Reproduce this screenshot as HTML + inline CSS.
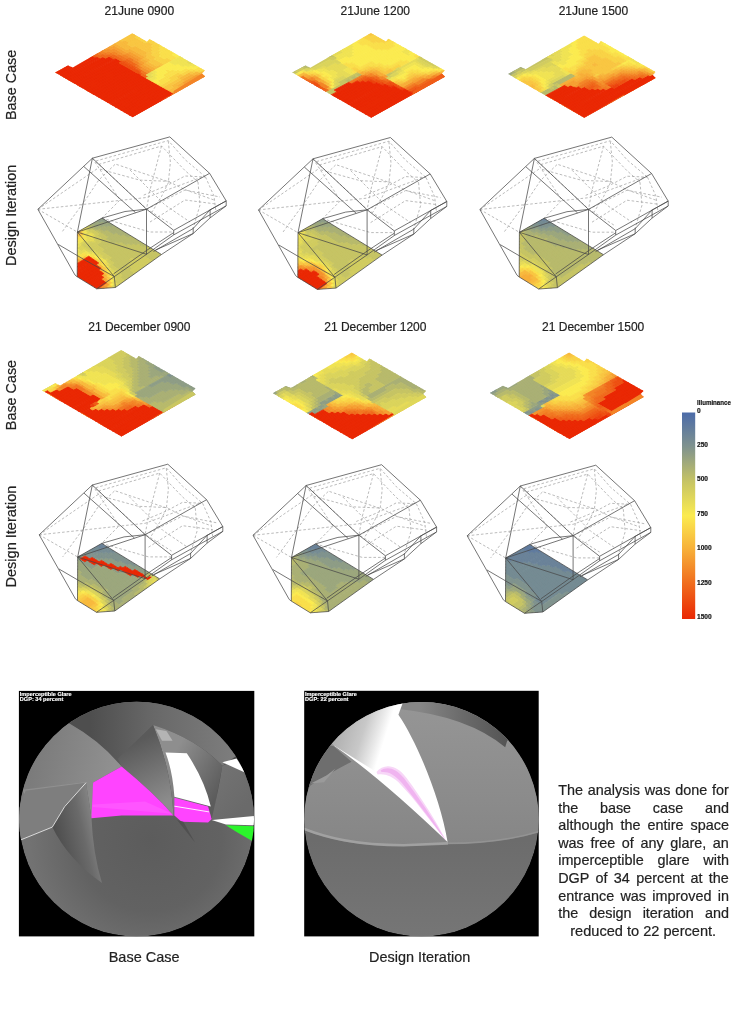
<!DOCTYPE html>
<html lang="en"><head><meta charset="utf-8"><title>Illuminance and glare analysis</title>
<style>
html,body{margin:0;padding:0;background:#fff;}
body{width:732px;height:1024px;overflow:hidden;}
svg{display:block;font-family:"Liberation Sans", sans-serif;}
svg text{stroke:#222;stroke-width:0.2px;}
svg text.w{stroke:#fff;stroke-width:0.15px;}
</style></head>
<body>
<svg width="732" height="1024" viewBox="0 0 732 1024">
<rect width="732" height="1024" fill="#fff"/>
<text x="104.5" y="14.5" font-size="12.5" fill="#222" text-anchor="start" textLength="69.7" lengthAdjust="spacingAndGlyphs">21June 0900</text>
<text x="340.5" y="14.5" font-size="12.5" fill="#222" text-anchor="start" textLength="69.5" lengthAdjust="spacingAndGlyphs">21June 1200</text>
<text x="558.7" y="14.5" font-size="12.5" fill="#222" text-anchor="start" textLength="69.5" lengthAdjust="spacingAndGlyphs">21June 1500</text>
<text x="88.2" y="331.2" font-size="12.5" fill="#222" text-anchor="start" textLength="102.3" lengthAdjust="spacingAndGlyphs">21 December 0900</text>
<text x="324.2" y="331.2" font-size="12.5" fill="#222" text-anchor="start" textLength="102.3" lengthAdjust="spacingAndGlyphs">21 December 1200</text>
<text x="542.0" y="331.2" font-size="12.5" fill="#222" text-anchor="start" textLength="102.3" lengthAdjust="spacingAndGlyphs">21 December 1500</text>
<text transform="translate(16.4 120.0) rotate(-90)" font-size="15.3" fill="#222" textLength="70.3" lengthAdjust="spacingAndGlyphs">Base Case</text>
<text transform="translate(16.4 265.9) rotate(-90)" font-size="15.3" fill="#222" textLength="101.3" lengthAdjust="spacingAndGlyphs">Design Iteration</text>
<text transform="translate(16.4 430.2) rotate(-90)" font-size="15.3" fill="#222" textLength="70.3" lengthAdjust="spacingAndGlyphs">Base Case</text>
<text transform="translate(16.4 587.5) rotate(-90)" font-size="15.3" fill="#222" textLength="101.8" lengthAdjust="spacingAndGlyphs">Design Iteration</text>
<text x="108.7" y="961.6" font-size="15" fill="#222" text-anchor="start" textLength="70.8" lengthAdjust="spacingAndGlyphs">Base Case</text>
<text x="369.0" y="961.8" font-size="15" fill="#222" text-anchor="start" textLength="101.2" lengthAdjust="spacingAndGlyphs">Design Iteration</text>
<text x="558.2" y="794.90" font-size="14.4" fill="#222" style="word-spacing:0.88px" xml:space="preserve">The analysis was done for</text>
<text x="558.2" y="812.53" font-size="14.4" fill="#222" style="word-spacing:17.70px" xml:space="preserve">the base case and</text>
<text x="558.2" y="830.16" font-size="14.4" fill="#222" style="word-spacing:3.03px" xml:space="preserve">although the entire space</text>
<text x="558.2" y="847.79" font-size="14.4" fill="#222" style="word-spacing:2.62px" xml:space="preserve">was free of any glare, an</text>
<text x="558.2" y="865.42" font-size="14.4" fill="#222" style="word-spacing:9.76px" xml:space="preserve">imperceptible glare with</text>
<text x="558.2" y="883.05" font-size="14.4" fill="#222" style="word-spacing:2.35px" xml:space="preserve">DGP of 34 percent at the</text>
<text x="558.2" y="900.68" font-size="14.4" fill="#222" style="word-spacing:2.24px" xml:space="preserve">entrance was improved in</text>
<text x="558.2" y="918.31" font-size="14.4" fill="#222" style="word-spacing:7.03px" xml:space="preserve">the design iteration and</text>
<text x="570.2" y="935.94" font-size="14.4" fill="#222" textLength="146" lengthAdjust="spacingAndGlyphs">reduced to 22 percent.</text>
<defs><linearGradient id="lg" x1="0" y1="0" x2="0" y2="1"><stop offset="0.0000" stop-color="#4b6ba9"/><stop offset="0.1667" stop-color="#80938e"/><stop offset="0.3333" stop-color="#c6c464"/><stop offset="0.5000" stop-color="#fbeb50"/><stop offset="0.6667" stop-color="#f7ae38"/><stop offset="0.8333" stop-color="#f06a1c"/><stop offset="1.0000" stop-color="#ea2804"/></linearGradient></defs>
<rect x="682" y="412.5" width="13.2" height="206.5" fill="url(#lg)"/>
<text x="697" y="405.2" font-size="6.6" fill="#111" text-anchor="start" textLength="33.9" lengthAdjust="spacingAndGlyphs" font-weight="bold">Illuminance</text>
<text x="697" y="412.6" font-size="6.6" fill="#111" text-anchor="start" font-weight="bold">0</text>
<text x="697" y="447.0" font-size="6.6" fill="#111" text-anchor="start" font-weight="bold">250</text>
<text x="697" y="481.40000000000003" font-size="6.6" fill="#111" text-anchor="start" font-weight="bold">500</text>
<text x="697" y="515.8" font-size="6.6" fill="#111" text-anchor="start" font-weight="bold">750</text>
<text x="697" y="550.2" font-size="6.6" fill="#111" text-anchor="start" font-weight="bold">1000</text>
<text x="697" y="584.6" font-size="6.6" fill="#111" text-anchor="start" font-weight="bold">1250</text>
<text x="697" y="619.0" font-size="6.6" fill="#111" text-anchor="start" font-weight="bold">1500</text>
<clipPath id="h1"><polygon points="55.2,72.5 67.9,65.4 72.8,67.6 132.3,33.2 147,41.8 149.5,39 204.9,70.5 201.9,73.5 205.1,76.5 132.5,117.2"/></clipPath>
<g clip-path="url(#h1)" stroke-width="0.8" stroke-linejoin="round">
<path fill="#ef5d17" stroke="#ef5d17" d="M49.6 72.4L52.3 74L63.9 68.1L61.2 66.5ZM52.3 74L55 75.6L57.9 74.1L55.2 72.5ZM86.6 56.5L89.3 58L94.8 55.2L92.2 53.7ZM92 56.6L94.7 58.1L97.5 56.7L94.8 55.2ZM57.6 77.1L60.3 78.7L63.3 77.2L60.6 75.6ZM60.3 78.7L63 80.2L66 78.7L63.3 77.2ZM63 80.2L65.8 81.8L68.7 80.3L66 78.7ZM108.3 56.8L110.9 58.3L113.6 56.9L111 55.4ZM65.8 81.8L68.5 83.4L71.4 81.9L68.7 80.3ZM110.9 58.3L113.6 59.8L116.3 58.4L113.6 56.9ZM68.5 83.4L71.2 85L74.1 83.4L71.4 81.9ZM73.9 86.5L76.6 88.1L79.5 86.6L76.8 85ZM121.7 61.4L124.3 62.9L127 61.4L124.4 59.9ZM76.6 88.1L79.4 89.7L82.3 88.2L79.5 86.6ZM124.3 62.9L127 64.4L129.7 62.9L127 61.4ZM127 64.4L129.7 65.9L132.4 64.4L129.7 62.9ZM82.1 91.3L84.9 92.9L87.8 91.3L85 89.7ZM129.7 65.9L132.4 67.4L135.1 65.9L132.4 64.4ZM84.9 92.9L87.6 94.5L90.5 92.9L87.8 91.3ZM132.4 67.4L135.1 68.9L137.8 67.4L135.1 65.9ZM87.6 94.5L90.4 96.1L93.3 94.5L90.5 92.9ZM137.9 73.4L140.6 74.9L143.3 73.4L140.6 71.9ZM168.4 96.5L171.2 98.1L173.9 96.6L171.1 95Z"/>
<path fill="#ea2804" stroke="#ea2804" d="M61.2 66.5L63.9 68.1L69.7 65.1L67 63.6ZM55.2 72.5L57.9 74.1L72.3 66.7L69.7 65.1ZM57.9 74.1L60.6 75.6L94.7 58.1L92 56.6ZM60.6 75.6L63.3 77.2L100.1 58.1L97.5 56.7ZM63.3 77.2L66 78.7L105.5 58.2L102.9 56.7ZM66 78.7L68.7 80.3L110.9 58.3L108.3 56.8ZM68.7 80.3L71.4 81.9L113.6 59.8L110.9 58.3ZM71.4 81.9L74.1 83.4L119 59.9L116.3 58.4ZM74.1 83.4L76.8 85L121.7 61.4L119 59.9ZM76.8 85L79.5 86.6L121.6 64.3L118.9 62.8ZM79.5 86.6L82.3 88.2L124.3 65.8L121.6 64.3ZM82.3 88.2L85 89.7L127 67.3L124.3 65.8ZM85 89.7L87.8 91.3L129.7 68.8L127 67.3ZM87.8 91.3L90.5 92.9L132.4 70.3L129.7 68.8ZM90.5 92.9L93.3 94.5L135.1 71.9L132.4 70.3ZM90.4 96.1L93.2 97.7L137.9 73.4L135.1 71.9ZM93.2 97.7L95.9 99.3L140.6 74.9L137.9 73.4ZM95.9 99.3L98.7 100.9L143.3 76.4L140.6 74.9ZM101.6 99.3L104.4 100.9L146.1 78L143.3 76.4ZM104.4 100.9L107.2 102.5L148.8 79.5L146.1 78ZM107.2 102.5L110 104.1L151.6 81L148.8 79.5ZM107.1 105.7L109.9 107.4L154.3 82.6L151.6 81ZM109.9 107.4L112.7 109L157.1 84.1L154.3 82.6ZM112.7 109L115.5 110.6L159.8 85.7L157.1 84.1ZM115.5 110.6L118.3 112.3L162.6 87.2L159.8 85.7ZM118.3 112.3L121.2 113.9L165.4 88.8L162.6 87.2ZM121.2 113.9L124 115.5L168.2 90.3L165.4 88.8ZM124 115.5L126.8 117.2L171 91.9L168.2 90.3ZM126.8 117.2L129.7 118.8L173.8 93.5L171 91.9ZM132.5 117.2L135.4 118.8L163.2 102.8L160.3 101.2Z"/>
<path fill="#f06a1c" stroke="#f06a1c" d="M92.2 53.7L94.8 55.2L97.6 53.8L94.9 52.3ZM94.8 55.2L97.5 56.7L100.2 55.2L97.6 53.8ZM97.5 56.7L100.1 58.1L105.6 55.3L102.9 53.8ZM102.9 56.7L105.5 58.2L111 55.4L108.3 53.9ZM111 55.4L113.6 56.9L116.4 55.5L113.7 54ZM113.6 56.9L116.3 58.4L119 57L116.4 55.5ZM116.3 58.4L119 59.9L121.7 58.4L119 57ZM119 59.9L121.7 61.4L124.4 59.9L121.7 58.4ZM124.4 59.9L127 61.4L129.7 60L127.1 58.5ZM127 61.4L129.7 62.9L132.4 61.5L129.7 60ZM129.7 62.9L132.4 64.4L135.1 63L132.4 61.5ZM132.4 64.4L135.1 65.9L137.8 64.5L135.1 63ZM135.1 68.9L137.8 70.4L140.5 68.9L137.8 67.4ZM137.8 70.4L140.6 71.9L143.2 70.5L140.5 68.9ZM140.6 74.9L143.3 76.4L146 75L143.3 73.4ZM143.3 76.4L146.1 78L148.8 76.5L146 75ZM171.1 95L173.9 96.6L179.2 93.5L176.4 91.9Z"/>
<path fill="#f17822" stroke="#f17822" d="M94.9 52.3L97.6 53.8L100.3 52.4L97.7 50.9ZM97.6 53.8L100.2 55.2L102.9 53.8L100.3 52.4ZM102.9 53.8L105.6 55.3L108.3 53.9L105.7 52.4ZM108.3 53.9L111 55.4L113.7 54L111 52.5ZM116.4 55.5L119 57L121.7 55.5L119.1 54.1ZM119 57L121.7 58.4L124.4 57L121.7 55.5ZM121.7 58.4L124.4 59.9L127.1 58.5L124.4 57ZM127.1 58.5L129.7 60L132.4 58.6L129.7 57.1ZM129.7 60L132.4 61.5L135.1 60.1L132.4 58.6ZM135.1 65.9L137.8 67.4L140.5 66L137.8 64.5ZM140.6 71.9L143.3 73.4L146 72L143.2 70.5ZM143.3 73.4L146 75L148.7 73.5L146 72ZM176.4 91.9L179.2 93.5L181.9 92L179.1 90.4Z"/>
<path fill="#f38527" stroke="#f38527" d="M97.7 50.9L100.3 52.4L103 51L100.4 49.5ZM100.3 52.4L102.9 53.8L105.7 52.4L103 51ZM105.7 52.4L108.3 53.9L111 52.5L108.4 51ZM111 52.5L113.7 54L116.4 52.6L113.7 51.1ZM113.7 54L116.4 55.5L119.1 54.1L116.4 52.6ZM121.7 55.5L124.4 57L127.1 55.6L124.4 54.1ZM124.4 57L127.1 58.5L129.7 57.1L127.1 55.6ZM132.4 61.5L135.1 63L137.8 61.6L135.1 60.1ZM135.1 63L137.8 64.5L140.5 63.1L137.8 61.6ZM137.8 67.4L140.5 68.9L143.2 67.5L140.5 66ZM179.1 90.4L181.9 92L184.5 90.5L181.7 88.9ZM189.5 84.4L192.3 85.9L200 81.5L197.2 79.9Z"/>
<path fill="#f4932d" stroke="#f4932d" d="M100.4 49.5L103 51L105.8 49.6L103.1 48.1ZM103 51L105.7 52.4L111.1 49.6L108.5 48.2ZM108.4 51L111 52.5L116.4 49.7L113.8 48.3ZM113.7 51.1L116.4 52.6L119.1 51.2L116.4 49.7ZM116.4 52.6L119.1 54.1L121.7 52.7L119.1 51.2ZM119.1 54.1L121.7 55.5L124.4 54.1L121.7 52.7ZM124.4 54.1L127.1 55.6L129.7 54.2L127.1 52.7ZM127.1 55.6L129.7 57.1L132.4 55.7L129.7 54.2ZM129.7 57.1L132.4 58.6L135.1 57.2L132.4 55.7ZM132.4 58.6L135.1 60.1L137.7 58.7L135.1 57.2ZM135.1 60.1L137.8 61.6L140.4 60.1L137.7 58.7ZM137.8 64.5L140.5 66L143.2 64.6L140.5 63.1ZM140.5 68.9L143.2 70.5L145.9 69L143.2 67.5ZM143.2 70.5L146 72L148.6 70.5L145.9 69ZM146 72L148.7 73.5L151.4 72L148.6 70.5ZM184.1 84.3L186.9 85.9L199.8 78.5L197 77ZM181.7 88.9L184.5 90.5L189.7 87.4L186.9 85.9ZM197.2 79.9L200 81.5L205.1 78.5L202.3 77Z"/>
<path fill="#f6a032" stroke="#f6a032" d="M103.1 48.1L105.8 49.6L111.2 46.8L108.5 45.3ZM108.5 48.2L111.1 49.6L116.5 46.9L113.8 45.4ZM113.8 48.3L116.4 49.7L119.1 48.3L116.5 46.9ZM116.4 49.7L119.1 51.2L121.8 49.8L119.1 48.3ZM119.1 51.2L121.7 52.7L124.4 51.3L121.8 49.8ZM121.7 52.7L124.4 54.1L127.1 52.7L124.4 51.3ZM127.1 52.7L129.7 54.2L132.4 52.8L129.7 51.3ZM129.7 54.2L132.4 55.7L135.1 54.3L132.4 52.8ZM132.4 55.7L135.1 57.2L137.7 55.8L135.1 54.3ZM135.1 57.2L137.7 58.7L140.4 57.2L137.7 55.8ZM137.7 58.7L140.4 60.1L143.1 58.7L140.4 57.2ZM137.8 61.6L140.5 63.1L143.1 61.6L140.4 60.1ZM140.5 63.1L143.2 64.6L145.8 63.1L143.1 61.6ZM140.5 66L143.2 67.5L145.9 66.1L143.2 64.6ZM143.2 67.5L145.9 69L148.6 67.6L145.9 66.1ZM145.9 69L148.6 70.5L151.3 69.1L148.6 67.6ZM148.6 70.5L151.4 72L154 70.6L151.3 69.1ZM181.4 82.8L184.1 84.3L199.6 75.5L196.8 74ZM178.9 87.3L181.7 88.9L186.9 85.9L184.1 84.3ZM197 77L199.8 78.5L204.9 75.6L202.1 74ZM186.9 85.9L189.7 87.4L192.3 85.9L189.5 84.4ZM202.3 77L205.1 78.5L207.6 77.1L204.9 75.6Z"/>
<path fill="#f7ae38" stroke="#f7ae38" d="M108.5 45.3L111.2 46.8L116.5 44L113.9 42.6ZM113.8 45.4L116.5 46.9L119.2 45.5L116.5 44ZM116.5 46.9L119.1 48.3L121.8 47L119.2 45.5ZM119.1 48.3L121.8 49.8L124.4 48.4L121.8 47ZM121.8 49.8L124.4 51.3L127.1 49.9L124.4 48.4ZM124.4 51.3L127.1 52.7L132.4 50L129.7 48.5ZM129.7 51.3L132.4 52.8L135 51.4L132.4 50ZM132.4 52.8L135.1 54.3L137.7 52.9L135 51.4ZM135.1 54.3L137.7 55.8L140.4 54.4L137.7 52.9ZM137.7 55.8L140.4 57.2L143 55.8L140.4 54.4ZM140.4 57.2L143.1 58.7L145.7 57.3L143 55.8ZM140.4 60.1L143.1 61.6L145.8 60.2L143.1 58.7ZM143.1 61.6L145.8 63.1L148.5 61.7L145.8 60.2ZM143.2 64.6L145.9 66.1L148.5 64.6L145.8 63.1ZM145.9 66.1L148.6 67.6L151.2 66.1L148.5 64.6ZM148.6 67.6L151.3 69.1L153.9 67.6L151.2 66.1ZM151.3 69.1L154 70.6L156.7 69.1L153.9 67.6ZM181.2 79.8L184 81.3L194.3 75.4L191.5 73.9ZM176.1 85.8L178.9 87.3L184.1 84.3L181.4 82.8ZM196.8 74L199.6 75.5L202.1 74L199.4 72.5ZM171 91.9L173.8 93.5L181.7 88.9L178.9 87.3ZM202.1 74L204.9 75.6L207.4 74.1L204.6 72.6Z"/>
<path fill="#f8ba3d" stroke="#f8ba3d" d="M113.9 42.6L116.5 44L121.8 41.3L119.2 39.9ZM116.5 44L119.2 45.5L127.1 41.4L124.5 40ZM119.2 45.5L121.8 47L129.7 42.9L127.1 41.4ZM121.8 47L124.4 48.4L129.7 45.7L127.1 44.2ZM124.4 48.4L127.1 49.9L132.4 47.1L129.7 45.7ZM129.7 48.5L132.4 50L137.7 47.2L135 45.8ZM132.4 50L135 51.4L140.3 48.7L137.7 47.2ZM135 51.4L137.7 52.9L143 50.1L140.3 48.7ZM137.7 52.9L140.4 54.4L145.6 51.6L143 50.1ZM140.4 54.4L143 55.8L148.3 53L145.6 51.6ZM143 55.8L145.7 57.3L148.3 55.9L145.7 54.4ZM143.1 58.7L145.8 60.2L148.4 58.8L145.7 57.3ZM145.8 60.2L148.5 61.7L151.1 60.3L148.4 58.8ZM145.8 63.1L148.5 64.6L151.2 63.2L148.5 61.7ZM148.5 64.6L151.2 66.1L153.9 64.7L151.2 63.2ZM151.2 66.1L153.9 67.6L156.6 66.2L153.9 64.7ZM153.9 67.6L156.7 69.1L161.9 66.2L159.2 64.7ZM178.4 78.3L181.2 79.8L191.5 73.9L188.8 72.4ZM170.7 85.8L173.5 87.3L184 81.3L181.2 79.8ZM191.5 73.9L194.3 75.4L199.4 72.5L196.6 71ZM168.2 90.3L171 91.9L178.9 87.3L176.1 85.8ZM199.4 72.5L202.1 74L204.6 72.6L201.9 71.1Z"/>
<path fill="#f9c642" stroke="#f9c642" d="M119.2 39.9L121.8 41.3L135 34.6L132.3 33.2ZM124.5 40L127.1 41.4L137.6 36L135 34.6ZM127.1 41.4L129.7 42.9L137.6 38.8L135 37.4ZM127.1 44.2L129.7 45.7L140.2 40.2L137.6 38.8ZM129.7 45.7L132.4 47.1L142.8 41.7L140.2 40.2ZM135 45.8L137.7 47.2L145.5 43.1L142.8 41.7ZM137.7 47.2L140.3 48.7L150.7 43.2L148.1 41.8ZM140.3 48.7L143 50.1L153.3 44.6L150.7 43.2ZM143 50.1L145.6 51.6L153.4 47.5L150.8 46ZM145.6 51.6L148.3 53L153.5 50.3L150.8 48.8ZM145.7 54.4L148.3 55.9L153.6 53.1L150.9 51.7ZM145.7 57.3L148.4 58.8L153.6 56L151 54.5ZM148.4 58.8L151.1 60.3L156.3 57.5L153.6 56ZM148.5 61.7L151.2 63.2L156.4 60.3L153.7 58.9ZM151.2 63.2L153.9 64.7L159.1 61.8L156.4 60.3ZM153.9 64.7L156.6 66.2L161.8 63.3L159.1 61.8ZM159.2 64.7L161.9 66.2L164.5 64.8L161.8 63.3ZM175.7 76.7L178.4 78.3L183.6 75.3L180.9 73.8ZM162.6 87.2L165.4 88.8L181.2 79.8L178.4 78.3ZM188.8 72.4L191.5 73.9L194.1 72.5L191.3 71ZM165.4 88.8L168.2 90.3L173.5 87.3L170.7 85.8ZM201.9 71.1L204.6 72.6L207.2 71.2L204.4 69.7Z"/>
<path fill="#f9d346" stroke="#f9d346" d="M135 37.4L137.6 38.8L140.2 37.5L137.6 36ZM137.6 38.8L140.2 40.2L142.8 38.9L140.2 37.5ZM140.2 40.2L142.8 41.7L145.4 40.3L142.8 38.9ZM142.8 41.7L145.5 43.1L153.2 39.1L150.6 37.7ZM148.1 41.8L150.7 43.2L155.8 40.5L153.2 39.1ZM150.7 43.2L153.3 44.6L158.5 41.9L155.8 40.5ZM150.8 46L153.4 47.5L161.1 43.4L158.5 41.9ZM150.8 48.8L153.5 50.3L161.2 46.2L158.6 44.7ZM150.9 51.7L153.6 53.1L161.3 49L158.7 47.5ZM151 54.5L153.6 56L161.4 51.8L158.7 50.4ZM153.6 56L156.3 57.5L161.5 54.7L158.8 53.2ZM153.7 58.9L156.4 60.3L161.6 57.5L158.9 56.1ZM156.4 60.3L159.1 61.8L164.3 59L161.6 57.5ZM159.1 61.8L161.8 63.3L169.6 59.1L166.9 57.6ZM161.8 63.3L164.5 64.8L172.3 60.6L169.6 59.1ZM167.7 78.2L170.5 79.7L180.9 73.8L178.1 72.3ZM159.8 85.7L162.6 87.2L178.4 78.3L175.7 76.7ZM180.9 73.8L183.6 75.3L191.3 71L188.6 69.5ZM191.3 71L194.1 72.5L196.6 71L193.9 69.5ZM196.6 71L199.4 72.5L201.9 71.1L199.1 69.6Z"/>
<path fill="#ee5012" stroke="#ee5012" d="M118.9 62.8L121.6 64.3L124.3 62.9L121.7 61.4ZM121.6 64.3L124.3 65.8L127 64.4L124.3 62.9ZM124.3 65.8L127 67.3L129.7 65.9L127 64.4ZM127 67.3L129.7 68.8L132.4 67.4L129.7 65.9ZM129.7 68.8L132.4 70.3L135.1 68.9L132.4 67.4ZM132.4 70.3L135.1 71.9L137.8 70.4L135.1 68.9ZM135.1 71.9L137.9 73.4L140.6 71.9L137.8 70.4ZM165.7 98.1L168.6 99.7L171.2 98.1L168.4 96.5Z"/>
<path fill="#fadf4b" stroke="#fadf4b" d="M158.6 44.7L161.2 46.2L163.8 44.8L161.1 43.4ZM158.7 47.5L161.3 49L166.4 46.3L163.8 44.8ZM158.7 50.4L161.4 51.8L169.1 47.7L166.4 46.3ZM158.8 53.2L161.5 54.7L171.8 49.1L169.1 47.7ZM158.9 56.1L161.6 57.5L171.9 52L169.2 50.5ZM161.6 57.5L164.3 59L174.6 53.4L171.9 52ZM166.9 57.6L169.6 59.1L174.7 56.3L172 54.8ZM169.6 59.1L172.3 60.6L177.4 57.8L174.7 56.3ZM164.7 70.7L167.5 72.2L170.1 70.7L167.3 69.2ZM162.2 75.1L164.9 76.6L175.4 70.8L172.7 69.3ZM157 81.1L159.7 82.6L180.7 70.9L178 69.4ZM157.1 84.1L159.8 85.7L170.5 79.7L167.7 78.2ZM178.1 72.3L180.9 73.8L188.6 69.5L185.9 68ZM188.6 69.5L191.3 71L193.9 69.5L191.1 68.1ZM193.9 69.5L196.6 71L201.7 68.2L198.9 66.7ZM199.1 69.6L201.9 71.1L204.4 69.7L201.7 68.2Z"/>
<path fill="#fbeb50" stroke="#fbeb50" d="M169.2 50.5L171.9 52L174.4 50.6L171.8 49.1ZM171.9 52L174.6 53.4L177.1 52.1L174.4 50.6ZM172 54.8L174.7 56.3L179.8 53.5L177.1 52.1ZM174.7 56.3L177.4 57.8L182.5 55L179.8 53.5ZM154 70.6L156.7 72.1L172.4 63.5L169.7 62ZM154.1 73.5L156.8 75.1L175.1 64.9L172.4 63.5ZM154.2 76.5L156.9 78.1L167.5 72.2L164.7 70.7ZM167.3 69.2L170.1 70.7L180.4 65L177.7 63.5ZM151.6 81L154.3 82.6L164.9 76.6L162.2 75.1ZM172.7 69.3L175.4 70.8L183.1 66.5L180.4 65ZM154.3 82.6L157.1 84.1L159.7 82.6L157 81.1ZM178 69.4L180.7 70.9L188.4 66.6L185.7 65.1ZM185.9 68L188.6 69.5L193.7 66.6L190.9 65.1ZM191.1 68.1L193.9 69.5L198.9 66.7L196.2 65.2Z"/>
<path fill="#e6db58" stroke="#e6db58" d="M146 75L148.8 76.5L154.1 73.5L151.4 72ZM179.9 56.4L182.6 57.8L185.2 56.4L182.5 55ZM146.1 78L148.8 79.5L154.2 76.5L151.4 75ZM185.5 62.2L188.2 63.7L190.8 62.2L188 60.8ZM188.2 63.7L190.9 65.1L193.5 63.7L190.8 62.2Z"/>
<path fill="#f0e354" stroke="#f0e354" d="M151.4 72L154.1 73.5L156.7 72.1L154 70.6ZM169.7 62L172.4 63.5L182.6 57.8L179.9 56.4ZM151.4 75L154.2 76.5L156.8 75.1L154.1 73.5ZM172.4 63.5L175.1 64.9L185.3 59.3L182.6 57.8ZM148.8 79.5L151.6 81L156.9 78.1L154.2 76.5ZM177.7 63.5L180.4 65L188 60.8L185.3 59.3ZM180.4 65L183.1 66.5L188.2 63.7L185.5 62.2ZM185.7 65.1L188.4 66.6L190.9 65.1L188.2 63.7ZM190.9 65.1L193.7 66.6L196.2 65.2L193.5 63.7Z"/>
<path fill="#eb3509" stroke="#eb3509" d="M160.3 101.2L163.2 102.8L165.9 101.2L163 99.6Z"/>
<path fill="#ec420e" stroke="#ec420e" d="M163 99.6L165.9 101.2L168.6 99.7L165.7 98.1Z"/>
<polygon fill="#f38527" points="206.9,77.6 201.9,73.5 174,90.7 172.5,95.6"/>
</g>
<clipPath id="h2"><polygon points="292.4,72.6 305.3,65.5 310.3,67.7 370.9,32.9 385.9,41.6 388.4,38.7 444.8,70.6 441.8,73.6 445,76.7 371.1,117.8"/></clipPath>
<g clip-path="url(#h2)" stroke-width="0.8" stroke-linejoin="round">
<path fill="#aab075" stroke="#aab075" d="M286.7 72.6L289.4 74.1L292.4 72.6L289.7 71.1ZM292.6 69.6L295.4 71.1L307.1 65.2L304.4 63.6Z"/>
<path fill="#9ca77d" stroke="#9ca77d" d="M289.7 71.1L292.4 72.6L295.4 71.1L292.6 69.6Z"/>
<path fill="#c6c464" stroke="#c6c464" d="M289.4 74.1L292.2 75.7L298.1 72.7L295.4 71.1ZM301.3 68.1L304 69.7L306.9 68.2L304.2 66.7ZM324.4 56.5L327.1 58L329.9 56.5L327.2 55ZM329.9 56.5L332.6 58L335.4 56.6L332.7 55.1ZM337.3 82.3L340.1 83.9L359.9 73.3L357.2 71.8ZM322.6 93.2L325.4 94.8L348.6 82.4L345.8 80.8ZM348.7 79.3L351.5 80.9L354.3 79.4L351.5 77.8ZM354.3 76.3L357.1 77.9L359.9 76.4L357.1 74.8ZM325.4 94.8L328.2 96.4L337 91.7L334.2 90.1ZM384.9 75.1L387.6 76.6L393.1 73.7L390.3 72.1ZM419.4 56.3L422.1 57.8L424.7 56.4L422 54.9Z"/>
<path fill="#d1cc60" stroke="#d1cc60" d="M295.4 71.1L298.1 72.7L304 69.7L301.3 68.1ZM306.9 68.2L309.6 69.8L332.6 58L329.9 56.5ZM329.8 59.5L332.5 61L338.1 58.1L335.4 56.6ZM390.3 72.1L393.1 73.7L398.5 70.7L395.7 69.2ZM416.8 57.7L419.5 59.2L422.1 57.8L419.4 56.3ZM387.6 76.6L390.4 78.2L393.1 76.7L390.4 75.2ZM419.5 59.2L422.3 60.7L424.9 59.3L422.1 57.8ZM422.3 60.7L425.1 62.2L427.6 60.8L424.9 59.3ZM425.1 62.2L427.8 63.7L430.4 62.3L427.6 60.8ZM427.8 63.7L430.6 65.2L433.2 63.7L430.4 62.3ZM430.6 65.2L433.4 66.7L435.9 65.2L433.2 63.7Z"/>
<path fill="#b8ba6c" stroke="#b8ba6c" d="M304.2 66.7L306.9 68.2L309.8 66.7L307.1 65.2ZM327.2 55L329.9 56.5L332.7 55.1L330 53.6ZM345.8 80.8L348.6 82.4L351.5 80.9L348.7 79.3ZM351.5 77.8L354.3 79.4L357.1 77.9L354.3 76.3ZM357.1 74.8L359.9 76.4L362.7 74.9L359.9 73.3Z"/>
<path fill="#e6db58" stroke="#e6db58" d="M330 53.6L332.7 55.1L343.9 49.4L341.2 48ZM332.7 55.1L335.4 56.6L343.8 52.3L341.1 50.8ZM309.6 69.8L312.4 71.3L315.3 69.8L312.6 68.3ZM318.2 68.3L320.9 69.9L326.7 66.9L323.9 65.4ZM323.8 68.4L326.5 69.9L337.9 64.1L335.2 62.5ZM326.5 69.9L329.3 71.5L343.5 64.1L340.7 62.6ZM332.1 70L334.9 71.5L346.2 65.6L343.5 64.1ZM334.9 71.5L337.6 73.1L348.9 67.2L346.2 65.6ZM334.8 74.6L337.5 76.2L346.1 71.7L343.3 70.1ZM331.8 79.2L334.5 80.7L348.8 73.2L346.1 71.7ZM331.7 82.3L334.4 83.9L337.3 82.3L334.5 80.7ZM343.1 76.2L345.9 77.8L351.6 74.8L348.8 73.2ZM331.5 85.4L334.3 87L337.2 85.4L334.4 83.9ZM398.4 67.7L401.1 69.3L419.5 59.2L416.8 57.7ZM395.8 72.2L398.5 73.7L403.9 70.8L401.1 69.3ZM414.3 62L417.1 63.5L419.7 62.1L416.9 60.6ZM417.1 63.5L419.9 65L422.5 63.6L419.7 62.1ZM419.9 65L422.6 66.6L425.2 65.1L422.5 63.6ZM422.6 66.6L425.4 68.1L428 66.6L425.2 65.1ZM428 66.6L430.8 68.1L433.4 66.7L430.6 65.2ZM430.8 68.1L433.6 69.6L436.2 68.2L433.4 66.7ZM436.2 68.2L438.9 69.7L441.5 68.2L438.7 66.7Z"/>
<path fill="#f0e354" stroke="#f0e354" d="M341.2 48L343.9 49.4L354.8 43.9L352.2 42.4ZM295.1 74.2L297.9 75.8L300.8 74.3L298.1 72.7ZM301 71.2L303.8 72.7L306.7 71.2L304 69.7ZM341.1 50.8L343.8 52.3L354.8 46.7L352.1 45.2ZM306.7 71.2L309.5 72.8L312.4 71.3L309.6 69.8ZM335.4 56.6L338.1 58.1L354.7 49.6L352.1 48.1ZM315.3 69.8L318 71.4L320.9 69.9L318.2 68.3ZM335.3 59.6L338 61.1L354.7 52.5L352 51ZM318 71.4L320.8 72.9L326.5 69.9L323.8 68.4ZM346.4 56.8L349.1 58.3L354.7 55.4L351.9 53.9ZM323.6 71.4L326.4 73L329.3 71.5L326.5 69.9ZM326.4 73L329.1 74.5L334.9 71.5L332.1 70ZM329.1 74.5L331.9 76.1L337.6 73.1L334.9 71.5ZM329 77.6L331.8 79.2L337.5 76.2L334.8 74.6ZM343.3 70.1L346.1 71.7L351.7 68.7L348.9 67.2ZM346.1 71.7L348.8 73.2L354.4 70.2L351.7 68.7ZM348.8 73.2L351.6 74.8L354.4 73.3L351.6 71.7ZM403 47.5L405.7 48.9L408.3 47.6L405.6 46.1ZM400.5 51.7L403.2 53.2L411.1 49L408.3 47.6ZM403.2 53.2L406 54.7L413.8 50.5L411.1 49ZM406 54.7L408.7 56.2L411.3 54.7L408.6 53.3ZM401.1 69.3L403.9 70.8L417.1 63.5L414.3 62ZM387.7 79.7L390.5 81.2L406.7 72.3L403.9 70.8ZM414.5 65L417.2 66.5L419.9 65L417.1 63.5ZM417.2 66.5L420 68L422.6 66.6L419.9 65ZM420 68L422.8 69.5L425.4 68.1L422.6 66.6ZM425.4 68.1L428.2 69.6L430.8 68.1L428 66.6Z"/>
<path fill="#fbeb50" stroke="#fbeb50" d="M352.2 42.4L354.8 43.9L360.2 41.1L357.6 39.7ZM298.1 72.7L300.8 74.3L303.8 72.7L301 71.2ZM352.1 45.2L354.8 46.7L360.2 44L357.5 42.5ZM352.1 48.1L354.7 49.6L362.9 45.4L360.2 44ZM312.4 71.3L315.1 72.9L318 71.4L315.3 69.8ZM352 51L354.7 52.5L368.3 45.5L365.6 44ZM315.1 72.9L317.9 74.4L320.8 72.9L318 71.4ZM338 61.1L340.7 62.6L349.1 58.3L346.4 56.8ZM351.9 53.9L354.7 55.4L371 47L368.3 45.5ZM320.8 72.9L323.5 74.5L326.4 73L323.6 71.4ZM340.7 62.6L343.5 64.1L373.7 48.4L371 47ZM320.6 76L323.4 77.6L329.1 74.5L326.4 73ZM346.3 62.7L349 64.2L376.4 49.9L373.7 48.4ZM326.3 76L329 77.6L331.9 76.1L329.1 74.5ZM351.8 62.7L354.5 64.3L381.7 50L379 48.5ZM392.2 41.6L394.9 43.1L397.5 41.7L394.9 40.3ZM326.1 79.1L328.9 80.7L331.8 79.2L329 77.6ZM354.5 64.3L357.3 65.8L387.1 50.1L384.4 48.6ZM392.3 44.5L395 45.9L400.2 43.2L397.5 41.7ZM328.9 80.7L331.7 82.3L334.5 80.7L331.8 79.2ZM357.3 65.8L360 67.3L402.9 44.6L400.2 43.2ZM328.8 83.8L331.5 85.4L334.4 83.9L331.7 82.3ZM371 61.5L373.7 63L405.6 46.1L402.9 44.6ZM328.6 86.9L331.4 88.5L334.3 87L331.5 85.4ZM373.7 63L376.5 64.5L405.7 48.9L403 47.5ZM379.2 63.1L381.9 64.6L403.2 53.2L400.5 51.7ZM381.9 64.6L384.7 66.1L406 54.7L403.2 53.2ZM387.4 64.7L390.2 66.2L408.7 56.2L406 54.7ZM408.6 53.3L411.3 54.7L416.5 52L413.8 50.5ZM400.8 60.4L403.6 61.9L419.2 53.4L416.5 52ZM406.2 60.5L409 62L416.8 57.7L414.1 56.2ZM403.9 70.8L406.7 72.3L417.2 66.5L414.5 65ZM395.9 78.2L398.7 79.8L409.5 73.8L406.7 72.3ZM412 69.4L414.8 70.9L420 68L417.2 66.5ZM401.4 78.3L404.2 79.8L406.9 78.3L404.1 76.8ZM417.4 69.5L420.2 71L422.8 69.5L420 68ZM420.2 71L423 72.5L428.2 69.6L425.4 68.1ZM425.6 71L428.4 72.5L433.6 69.6L430.8 68.1ZM433.6 69.6L436.4 71.1L438.9 69.7L436.2 68.2ZM438.9 69.7L441.7 71.2L444.3 69.8L441.5 68.2Z"/>
<path fill="#fadf4b" stroke="#fadf4b" d="M357.6 39.7L360.2 41.1L365.6 38.4L363 36.9ZM357.5 42.5L360.2 44L368.3 39.8L365.6 38.4ZM303.8 72.7L306.5 74.3L309.5 72.8L306.7 71.2ZM360.2 44L362.9 45.4L371 41.3L368.3 39.8ZM309.5 72.8L312.2 74.4L315.1 72.9L312.4 71.3ZM365.6 44L368.3 45.5L373.6 42.8L371 41.3ZM368.3 45.5L371 47L379 42.8L376.3 41.4ZM317.9 74.4L320.6 76L323.5 74.5L320.8 72.9ZM371 47L373.7 48.4L384.3 42.9L381.6 41.5ZM386.9 38.8L389.6 40.2L392.2 38.8L389.5 37.4ZM343.5 64.1L346.2 65.6L349 64.2L346.3 62.7ZM373.7 48.4L376.4 49.9L394.9 40.3L392.2 38.8ZM323.4 77.6L326.1 79.1L329 77.6L326.3 76ZM346.2 65.6L348.9 67.2L354.5 64.3L351.8 62.7ZM379 48.5L381.7 50L394.9 43.1L392.2 41.6ZM348.9 67.2L351.7 68.7L357.3 65.8L354.5 64.3ZM384.4 48.6L387.1 50.1L395 45.9L392.3 44.5ZM354.5 67.2L357.2 68.8L360 67.3L357.3 65.8ZM351.6 71.7L354.4 73.3L357.2 71.8L354.4 70.2ZM357.2 68.8L360 70.3L373.7 63L371 61.5ZM368.3 65.9L371 67.4L376.5 64.5L373.7 63ZM373.8 66L376.5 67.5L381.9 64.6L379.2 63.1ZM379.2 66L382 67.6L384.7 66.1L381.9 64.6ZM382 67.6L384.8 69.1L390.2 66.2L387.4 64.7ZM387.5 67.6L390.2 69.1L403.6 61.9L400.8 60.4ZM398.3 64.8L401 66.3L409 62L406.2 60.5ZM414.1 56.2L416.8 57.7L422 54.9L419.2 53.4ZM390.5 81.2L393.3 82.8L398.7 79.8L395.9 78.2ZM406.7 72.3L409.5 73.8L414.8 70.9L412 69.4ZM398.7 79.8L401.5 81.3L404.2 79.8L401.4 78.3ZM404.1 76.8L406.9 78.3L409.6 76.9L406.8 75.3ZM412.1 72.4L414.9 73.9L420.2 71L417.4 69.5ZM417.6 72.4L420.3 74L423 72.5L420.2 71ZM423 72.5L425.8 74L428.4 72.5L425.6 71ZM431 71.1L433.8 72.6L436.4 71.1L433.6 69.6ZM436.4 71.1L439.2 72.7L441.7 71.2L438.9 69.7Z"/>
<path fill="#f9d346" stroke="#f9d346" d="M363 36.9L365.6 38.4L370.9 35.7L368.3 34.2ZM365.6 38.4L368.3 39.8L376.2 35.8L373.6 34.3ZM368.3 39.8L371 41.3L378.9 37.2L376.2 35.8ZM306.5 74.3L309.3 75.9L312.2 74.4L309.5 72.8ZM371 41.3L373.6 42.8L381.6 38.7L378.9 37.2ZM312.2 74.4L314.9 75.9L317.9 74.4L315.1 72.9ZM376.3 41.4L379 42.8L384.3 40.1L381.6 38.7ZM381.6 41.5L384.3 42.9L389.6 40.2L386.9 38.8ZM317.7 77.5L320.4 79.1L323.4 77.6L320.6 76ZM320.4 79.1L323.2 80.6L326.1 79.1L323.4 77.6ZM323.2 80.6L326 82.2L328.9 80.7L326.1 79.1ZM326 82.2L328.8 83.8L331.7 82.3L328.9 80.7ZM351.7 68.7L354.4 70.2L357.2 68.8L354.5 67.2ZM354.4 70.2L357.2 71.8L360 70.3L357.2 68.8ZM360 70.3L362.7 71.8L371 67.4L368.3 65.9ZM371 67.4L373.8 69L376.5 67.5L373.8 66ZM376.5 67.5L379.3 69L382 67.6L379.2 66ZM379.3 69L382 70.6L384.8 69.1L382 67.6ZM382 70.6L384.8 72.1L390.2 69.1L387.5 67.6ZM390.2 69.1L393 70.7L401 66.3L398.3 64.8ZM396 81.3L398.8 82.9L401.5 81.3L398.7 79.8ZM406.8 75.3L409.6 76.9L414.9 73.9L412.1 72.4ZM401.5 81.3L404.4 82.9L409.7 79.9L406.9 78.3ZM414.9 73.9L417.7 75.4L420.3 74L417.6 72.4ZM420.3 74L423.1 75.5L425.8 74L423 72.5ZM425.8 74L428.6 75.5L433.8 72.6L431 71.1Z"/>
<path fill="#f9c642" stroke="#f9c642" d="M368.3 34.2L370.9 35.7L373.6 34.3L370.9 32.9ZM294.9 77.3L297.6 78.9L300.6 77.3L297.9 75.8ZM314.9 75.9L317.7 77.5L320.6 76L317.9 74.4ZM325.8 85.3L328.6 86.9L331.5 85.4L328.8 83.8ZM357.2 71.8L359.9 73.3L362.7 71.8L360 70.3ZM365.5 70.4L368.3 71.9L373.8 69L371 67.4ZM373.8 69L376.5 70.5L379.3 69L376.5 67.5ZM376.5 70.5L379.3 72L382 70.6L379.3 69ZM379.3 72L382.1 73.6L384.8 72.1L382 70.6ZM382.1 73.6L384.9 75.1L393 70.7L390.2 69.1ZM393.3 82.8L396.1 84.4L398.8 82.9L396 81.3ZM398.8 82.9L401.6 84.4L404.4 82.9L401.5 81.3ZM406.9 78.3L409.7 79.9L417.7 75.4L414.9 73.9ZM417.7 75.4L420.5 77L423.1 75.5L420.3 74ZM433.8 72.6L436.6 74.1L439.2 72.7L436.4 71.1ZM441.7 71.2L444.5 72.7L447.1 71.3L444.3 69.8Z"/>
<path fill="#dbd45c" stroke="#dbd45c" d="M304 69.7L306.7 71.2L309.6 69.8L306.9 68.2ZM312.6 68.3L315.3 69.8L332.5 61L329.8 59.5ZM323.9 65.4L326.7 66.9L338 61.1L335.3 59.6ZM335.2 62.5L337.9 64.1L340.7 62.6L338 61.1ZM334.5 80.7L337.3 82.3L345.9 77.8L343.1 76.2ZM334.4 83.9L337.2 85.4L340.1 83.9L337.3 82.3ZM395.7 69.2L398.5 70.7L401.1 69.3L398.4 67.7ZM384.9 78.1L387.7 79.7L390.4 78.2L387.6 76.6ZM390.4 75.2L393.1 76.7L398.5 73.7L395.8 72.2ZM416.9 60.6L419.7 62.1L422.3 60.7L419.5 59.2ZM419.7 62.1L422.5 63.6L425.1 62.2L422.3 60.7ZM422.5 63.6L425.2 65.1L427.8 63.7L425.1 62.2ZM425.2 65.1L428 66.6L430.6 65.2L427.8 63.7ZM433.4 66.7L436.2 68.2L438.7 66.7L435.9 65.2Z"/>
<path fill="#f8ba3d" stroke="#f8ba3d" d="M297.9 75.8L300.6 77.3L306.5 74.3L303.8 72.7ZM309.3 75.9L312 77.4L314.9 75.9L312.2 74.4ZM323.1 83.8L325.8 85.3L328.8 83.8L326 82.2ZM362.7 71.8L365.5 73.4L368.3 71.9L365.5 70.4ZM371 70.4L373.8 72L376.5 70.5L373.8 69ZM396.1 84.4L398.9 85.9L401.6 84.4L398.8 82.9ZM415.1 76.9L417.9 78.5L420.5 77L417.7 75.4ZM423.1 75.5L426 77L428.6 75.5L425.8 74ZM431.2 74.1L434 75.6L436.6 74.1L433.8 72.6ZM439.2 72.7L442 74.2L444.5 72.7L441.7 71.2Z"/>
<path fill="#f4932d" stroke="#f4932d" d="M297.6 78.9L300.4 80.4L303.4 78.9L300.6 77.3ZM362.7 74.9L365.5 76.4L368.3 74.9L365.5 73.4ZM373.8 75L376.6 76.5L379.3 75L376.6 73.5ZM376.6 76.5L379.4 78.1L382.1 76.6L379.3 75ZM401.8 87.5L404.6 89.1L415.4 83L412.5 81.4ZM423.3 78.5L426.1 80L428.8 78.6L426 77ZM434 75.6L436.8 77.1L439.4 75.7L436.6 74.1ZM442 74.2L444.8 75.7L447.3 74.2L444.5 72.7Z"/>
<path fill="#f17822" stroke="#f17822" d="M300.6 77.3L303.4 78.9L306.3 77.4L303.6 75.8ZM303.4 78.9L306.1 80.5L309.1 79L306.3 77.4ZM311.8 80.5L314.6 82.1L317.5 80.6L314.8 79ZM314.6 82.1L317.4 83.7L320.3 82.2L317.5 80.6ZM348.6 82.4L351.4 84L365.5 76.4L362.7 74.9ZM365.5 76.4L368.3 78L371 76.5L368.3 74.9ZM371 76.5L373.8 78L376.6 76.5L373.8 75ZM382.2 79.6L385 81.2L387.7 79.7L384.9 78.1ZM404.6 89.1L407.4 90.6L418.2 84.6L415.4 83ZM428.8 78.6L431.6 80.1L434.2 78.6L431.4 77.1ZM439.4 75.7L442.2 77.2L444.8 75.7L442 74.2Z"/>
<path fill="#f7ae38" stroke="#f7ae38" d="M303.6 75.8L306.3 77.4L309.3 75.9L306.5 74.3ZM317.5 80.6L320.3 82.2L323.2 80.6L320.4 79.1ZM320.3 82.2L323.1 83.8L326 82.2L323.2 80.6ZM325.7 88.5L328.5 90.1L331.4 88.5L328.6 86.9ZM359.9 73.3L362.7 74.9L365.5 73.4L362.7 71.8ZM368.3 71.9L371 73.4L373.8 72L371 70.4ZM373.8 72L376.6 73.5L379.3 72L376.5 70.5ZM376.6 73.5L379.3 75L382.1 73.6L379.3 72ZM379.3 75L382.1 76.6L384.9 75.1L382.1 73.6ZM398.9 85.9L401.8 87.5L417.9 78.5L415.1 76.9ZM420.5 77L423.3 78.5L426 77L423.1 75.5ZM428.6 75.5L431.4 77.1L434 75.6L431.2 74.1Z"/>
<path fill="#f06a1c" stroke="#f06a1c" d="M300.4 80.4L303.1 82L306.1 80.5L303.4 78.9ZM306.1 80.5L308.9 82.1L311.8 80.5L309.1 79ZM322.8 90L325.6 91.6L328.5 90.1L325.7 88.5ZM373.8 78L376.6 79.6L379.4 78.1L376.6 76.5ZM376.6 79.6L379.4 81.1L382.2 79.6L379.4 78.1ZM385 81.2L387.8 82.8L390.5 81.2L387.7 79.7ZM415.5 86.1L418.3 87.6L431.6 80.1L428.8 78.6ZM436.8 77.1L439.6 78.7L442.2 77.2L439.4 75.7ZM442.2 77.2L445 78.7L447.6 77.2L444.8 75.7Z"/>
<path fill="#f6a032" stroke="#f6a032" d="M306.3 77.4L309.1 79L312 77.4L309.3 75.9ZM312 77.4L314.8 79L317.7 77.5L314.9 75.9ZM314.8 79L317.5 80.6L320.4 79.1L317.7 77.5ZM365.5 73.4L368.3 74.9L371 73.4L368.3 71.9ZM371 73.4L373.8 75L376.6 73.5L373.8 72ZM382.1 76.6L384.9 78.1L387.6 76.6L384.9 75.1ZM412.5 81.4L415.4 83L423.3 78.5L420.5 77ZM426 77L428.8 78.6L431.4 77.1L428.6 75.5ZM436.6 74.1L439.4 75.7L442 74.2L439.2 72.7Z"/>
<path fill="#ef5d17" stroke="#ef5d17" d="M303.1 82L305.9 83.6L308.9 82.1L306.1 80.5ZM308.9 82.1L311.6 83.7L314.6 82.1L311.8 80.5ZM317.2 86.8L320 88.4L322.9 86.9L320.1 85.3ZM320 88.4L322.8 90L325.7 88.5L322.9 86.9ZM357.1 80.9L359.9 82.5L368.3 78L365.5 76.4ZM368.3 78L371 79.5L373.8 78L371 76.5ZM371 79.5L373.8 81.1L376.6 79.6L373.8 78ZM379.4 81.1L382.2 82.7L385 81.2L382.2 79.6ZM382.2 82.7L385 84.3L387.8 82.8L385 81.2ZM407.4 90.6L410.3 92.2L418.3 87.6L415.5 86.1ZM429 81.6L431.8 83.1L439.6 78.7L436.8 77.1ZM423.8 87.7L426.7 89.2L432 86.2L429.1 84.6Z"/>
<path fill="#f38527" stroke="#f38527" d="M309.1 79L311.8 80.5L314.8 79L312 77.4ZM317.4 83.7L320.1 85.3L323.1 83.8L320.3 82.2ZM320.1 85.3L322.9 86.9L325.8 85.3L323.1 83.8ZM322.9 86.9L325.7 88.5L328.6 86.9L325.8 85.3ZM368.3 74.9L371 76.5L373.8 75L371 73.4ZM379.4 78.1L382.2 79.6L384.9 78.1L382.1 76.6ZM415.4 83L418.2 84.6L426.1 80L423.3 78.5ZM431.4 77.1L434.2 78.6L436.8 77.1L434 75.6Z"/>
<path fill="#ee5012" stroke="#ee5012" d="M305.9 83.6L308.7 85.2L311.6 83.7L308.9 82.1ZM311.6 83.7L314.4 85.3L317.4 83.7L314.6 82.1ZM314.4 85.3L317.2 86.8L320.1 85.3L317.4 83.7ZM319.8 91.6L322.6 93.2L325.6 91.6L322.8 90ZM328.2 96.4L331 98.1L334 96.5L331.2 94.9ZM362.7 81L365.5 82.6L371 79.5L368.3 78ZM373.8 81.1L376.6 82.7L379.4 81.1L376.6 79.6ZM376.6 82.7L379.4 84.2L382.2 82.7L379.4 81.1ZM385 84.3L387.8 85.8L393.3 82.8L390.5 81.2ZM390.6 84.3L393.4 85.9L396.1 84.4L393.3 82.8ZM393.4 85.9L396.2 87.5L398.9 85.9L396.1 84.4ZM396.2 87.5L399 89L401.8 87.5L398.9 85.9ZM415.7 89.2L418.5 90.7L431.8 83.1L429 81.6ZM418.5 90.7L421.3 92.3L426.7 89.2L423.8 87.7ZM437 80.1L439.8 81.7L445 78.7L442.2 77.2Z"/>
<path fill="#ec420e" stroke="#ec420e" d="M311.4 86.8L314.2 88.4L317.2 86.8L314.4 85.3ZM314.2 88.4L317 90L320 88.4L317.2 86.8ZM331 98.1L333.9 99.7L336.8 98.1L334 96.5ZM333.9 99.7L336.7 101.3L339.6 99.7L336.8 98.1ZM368.3 81L371.1 82.6L373.8 81.1L371 79.5ZM371.1 82.6L373.9 84.2L376.6 82.7L373.8 81.1ZM379.4 84.2L382.2 85.8L385 84.3L382.2 82.7ZM387.8 85.8L390.6 87.4L393.4 85.9L390.6 84.3ZM399 89L401.9 90.6L404.6 89.1L401.8 87.5ZM410.3 92.2L413.1 93.8L418.5 90.7L415.7 89.2ZM415.8 92.3L418.7 93.8L421.3 92.3L418.5 90.7ZM431.8 83.1L434.6 84.7L439.8 81.7L437 80.1Z"/>
<path fill="#ea2804" stroke="#ea2804" d="M334.2 90.1L337 91.7L351.4 84L348.6 82.4ZM331.2 94.9L334 96.5L359.9 82.5L357.1 80.9ZM334 96.5L336.8 98.1L365.5 82.6L362.7 81ZM336.8 98.1L339.6 99.7L371.1 82.6L368.3 81ZM339.6 99.7L342.5 101.3L373.9 84.2L371.1 82.6ZM342.5 101.3L345.3 103L379.4 84.2L376.6 82.7ZM345.3 103L348.1 104.6L382.2 85.8L379.4 84.2ZM345.2 106.2L348.1 107.9L387.8 85.8L385 84.3ZM348.1 107.9L350.9 109.5L390.6 87.4L387.8 85.8ZM350.9 109.5L353.8 111.2L396.2 87.5L393.4 85.9ZM353.8 111.2L356.7 112.8L399 89L396.2 87.5ZM356.7 112.8L359.6 114.5L401.9 90.6L399 89ZM359.6 114.5L362.4 116.1L407.4 90.6L404.6 89.1ZM362.4 116.1L365.3 117.8L410.3 92.2L407.4 90.6ZM365.3 117.8L368.2 119.5L413.1 93.8L410.3 92.2ZM371.1 117.8L374 119.5L413.3 96.9L410.4 95.4Z"/>
<path fill="#eb3509" stroke="#eb3509" d="M410.4 95.4L413.3 96.9L418.7 93.8L415.8 92.3ZM429.1 84.6L432 86.2L434.6 84.7L431.8 83.1Z"/>
<polygon fill="#ef5d17" points="446.8,77.8 441.8,73.6 413.3,91 411.8,95.9"/>
</g>
<clipPath id="h3"><polygon points="508.2,74 520.7,67 525.5,69.2 584.1,35.4 598.5,43.8 601,41.1 655.5,72 652.6,74.9 655.7,77.9 584.3,117.8"/></clipPath>
<g clip-path="url(#h3)" stroke-width="0.8" stroke-linejoin="round">
<path fill="#8e9d86" stroke="#8e9d86" d="M502.7 73.9L505.3 75.4L513.9 71L511.3 69.5Z"/>
<path fill="#9ca77d" stroke="#9ca77d" d="M511.3 69.5L513.9 71L522.4 66.7L519.8 65.2ZM505.3 75.4L508 76.9L513.7 74L511.1 72.5Z"/>
<path fill="#aab075" stroke="#aab075" d="M511.1 72.5L513.7 74L516.6 72.6L513.9 71ZM519.6 68.2L522.2 69.7L525.1 68.2L522.4 66.7Z"/>
<path fill="#b8ba6c" stroke="#b8ba6c" d="M513.9 71L516.6 72.6L522.2 69.7L519.6 68.2ZM551.6 83.4L554.3 84.9L573.5 74.6L570.8 73.1ZM537.4 93.9L540.1 95.5L551.4 89.4L548.7 87.9ZM551.5 86.4L554.2 87.9L557 86.4L554.3 84.9ZM557.1 83.4L559.8 84.9L576.2 76.1L573.5 74.6ZM540.1 95.5L542.8 97.1L559.7 88L557 86.4Z"/>
<path fill="#c6c464" stroke="#c6c464" d="M539.1 58.3L541.7 59.7L547.2 56.9L544.6 55.5ZM510.8 75.5L513.5 77L519.2 74.1L516.6 72.6ZM519.4 71.1L522 72.6L549.8 58.4L547.2 56.9ZM548.7 87.9L551.4 89.4L554.2 87.9L551.5 86.4ZM554.3 84.9L557 86.4L559.8 84.9L557.1 83.4Z"/>
<path fill="#dbd45c" stroke="#dbd45c" d="M544.6 55.5L547.2 56.9L555.3 52.8L552.7 51.4ZM549.9 55.6L552.5 57L555.2 55.6L552.6 54.2ZM513.5 77L516.1 78.5L519 77.1L516.3 75.5ZM522 72.6L524.7 74.1L530.3 71.2L527.7 69.7ZM533.1 69.8L535.8 71.3L552.3 62.7L549.7 61.3ZM544.1 67L546.7 68.5L554.9 64.2L552.3 62.7ZM552.2 65.6L554.8 67.1L557.6 65.7L554.9 64.2ZM548.9 81.8L551.6 83.4L565.4 76L562.7 74.5ZM546 86.3L548.7 87.9L551.5 86.4L548.8 84.9Z"/>
<path fill="#e6db58" stroke="#e6db58" d="M552.7 51.4L555.3 52.8L563.3 48.7L560.7 47.3ZM547.2 56.9L549.8 58.4L552.5 57L549.9 55.6ZM552.6 54.2L555.2 55.6L563.2 51.5L560.6 50.1ZM516.3 75.5L519 77.1L524.7 74.1L522 72.6ZM549.8 58.4L552.4 59.9L563.1 54.3L560.5 52.9ZM527.5 72.7L530.2 74.2L535.8 71.3L533.1 69.8ZM549.7 61.3L552.3 62.7L563.1 57.2L560.5 55.7ZM535.8 71.3L538.4 72.8L546.7 68.5L544.1 67ZM555 61.3L557.6 62.8L563 60L560.4 58.6ZM541.2 71.3L543.8 72.9L554.8 67.1L552.2 65.6ZM546.6 71.4L549.3 72.9L560.2 67.2L557.6 65.7ZM552 71.5L554.7 73L562.8 68.7L560.2 67.2ZM551.9 74.4L554.6 75.9L562.8 71.6L560.1 70.1ZM546.3 80.3L548.9 81.8L565.4 73.1L562.8 71.6ZM546.1 83.3L548.8 84.9L551.6 83.4L548.9 81.8ZM562.7 74.5L565.4 76L568.1 74.6L565.4 73.1ZM630.9 58.1L633.6 59.6L636.1 58.2L633.4 56.8Z"/>
<path fill="#f0e354" stroke="#f0e354" d="M560.7 47.3L563.3 48.7L573.8 43.4L571.2 42ZM560.6 50.1L563.2 51.5L573.8 46.1L571.2 44.7ZM560.5 52.9L563.1 54.3L571.1 50.3L568.5 48.8ZM513.3 80L515.9 81.5L518.8 80.1L516.1 78.5ZM524.7 74.1L527.3 75.6L530.2 74.2L527.5 72.7ZM560.5 55.7L563.1 57.2L571.1 53L568.5 51.6ZM530.2 74.2L532.8 75.7L538.4 72.8L535.8 71.3ZM552.3 62.7L554.9 64.2L557.6 62.8L555 61.3ZM560.4 58.6L563 60L573.7 54.5L571.1 53ZM535.6 74.2L538.3 75.8L543.8 72.9L541.2 71.3ZM554.9 64.2L557.6 65.7L571 58.7L568.4 57.2ZM538.3 75.8L540.9 77.3L549.3 72.9L546.6 71.4ZM560.3 64.3L562.9 65.8L568.3 63L565.7 61.5ZM540.9 77.3L543.6 78.8L554.7 73L552 71.5ZM543.6 78.8L546.3 80.3L554.6 75.9L551.9 74.4ZM560.1 70.1L562.8 71.6L565.5 70.2L562.8 68.7ZM543.5 81.8L546.1 83.3L548.9 81.8L546.3 80.3ZM562.8 71.6L565.4 73.1L568.2 71.6L565.5 70.2ZM543.3 84.8L546 86.3L548.8 84.9L546.1 83.3ZM565.4 73.1L568.1 74.6L570.8 73.1L568.2 71.6ZM543.2 87.8L545.9 89.4L548.7 87.9L546 86.3ZM628.4 59.5L631.1 60.9L633.6 59.6L630.9 58.1ZM631.1 60.9L633.7 62.4L636.2 61L633.6 59.6ZM633.7 62.4L636.4 63.8L638.9 62.4L636.2 61ZM636.4 63.8L639.1 65.3L641.6 63.9L638.9 62.4Z"/>
<path fill="#fbeb50" stroke="#fbeb50" d="M571.2 42L573.8 43.4L579 40.7L576.4 39.3ZM571.2 44.7L573.8 46.1L579 43.5L576.4 42ZM568.5 48.8L571.1 50.3L578.9 46.2L576.4 44.8ZM516.1 78.5L518.8 80.1L521.6 78.6L519 77.1ZM521.8 75.6L524.5 77.1L527.3 75.6L524.7 74.1ZM568.5 51.6L571.1 53L578.9 49L576.3 47.6ZM527.3 75.6L530 77.2L532.8 75.7L530.2 74.2ZM571.1 53L573.7 54.5L581.5 50.4L578.9 49ZM532.8 75.7L535.5 77.2L538.3 75.8L535.6 74.2ZM568.4 57.2L571 58.7L581.5 53.2L578.9 51.8ZM599.5 41.1L602.1 42.5L604.6 41.2L602 39.8ZM535.5 77.2L538.1 78.7L540.9 77.3L538.3 75.8ZM557.6 65.7L560.2 67.2L562.9 65.8L560.3 64.3ZM565.7 61.5L568.3 63L581.5 56L578.9 54.6ZM599.6 43.8L602.2 45.2L607.2 42.6L604.6 41.2ZM538.1 78.7L540.8 80.3L543.6 78.8L540.9 77.3ZM560.2 67.2L562.8 68.7L584.2 57.5L581.5 56ZM602.2 45.2L604.8 46.6L609.8 44L607.2 42.6ZM538 81.7L540.7 83.3L546.3 80.3L543.6 78.8ZM565.5 67.2L568.2 68.7L578.9 63.1L576.3 61.6ZM604.8 46.6L607.4 48L612.4 45.4L609.8 44ZM540.7 83.3L543.3 84.8L546.1 83.3L543.5 81.8ZM607.4 48L610 49.5L615 46.8L612.4 45.4ZM540.5 86.3L543.2 87.8L546 86.3L543.3 84.8ZM607.5 50.8L610.1 52.2L617.6 48.2L615 46.8ZM610.1 52.2L612.7 53.7L620.3 49.6L617.6 48.2ZM615.2 52.3L617.9 53.7L622.9 51L620.3 49.6ZM617.9 53.7L620.5 55.2L625.5 52.5L622.9 51ZM620.5 55.2L623.1 56.6L628.1 53.9L625.5 52.5ZM623.1 56.6L625.8 58L630.8 55.3L628.1 53.9ZM628.3 56.7L630.9 58.1L633.4 56.8L630.8 55.3ZM620.9 63.6L623.5 65.1L631.1 60.9L628.4 59.5ZM628.6 62.3L631.2 63.8L633.7 62.4L631.1 60.9ZM631.2 63.8L633.9 65.2L636.4 63.8L633.7 62.4ZM639.1 65.3L641.8 66.7L644.3 65.3L641.6 63.9Z"/>
<path fill="#fadf4b" stroke="#fadf4b" d="M576.4 39.3L579 40.7L586.7 36.8L584.1 35.4ZM576.4 42L579 43.5L589.2 38.2L586.7 36.8ZM576.4 44.8L578.9 46.2L591.8 39.6L589.2 38.2ZM519 77.1L521.6 78.6L524.5 77.1L521.8 75.6ZM576.3 47.6L578.9 49L594.4 41L591.8 39.6ZM515.9 81.5L518.6 83.1L521.5 81.6L518.8 80.1ZM524.5 77.1L527.2 78.6L530 77.2L527.3 75.6ZM578.9 49L581.5 50.4L597 42.4L594.4 41ZM530 77.2L532.6 78.7L535.5 77.2L532.8 75.7ZM578.9 51.8L581.5 53.2L602.1 42.5L599.5 41.1ZM532.6 78.7L535.3 80.2L538.1 78.7L535.5 77.2ZM578.9 54.6L581.5 56L589.4 51.9L586.7 50.5ZM589.3 49.1L591.9 50.6L602.2 45.2L599.6 43.8ZM535.3 80.2L538 81.7L540.8 80.3L538.1 78.7ZM581.5 56L584.2 57.5L586.8 56.1L584.2 54.6ZM594.5 49.2L597.1 50.6L604.8 46.6L602.2 45.2ZM562.8 68.7L565.5 70.2L568.2 68.7L565.5 67.2ZM576.3 61.6L578.9 63.1L586.8 58.9L584.2 57.5ZM599.7 49.3L602.3 50.7L607.4 48L604.8 46.6ZM537.8 84.8L540.5 86.3L543.3 84.8L540.7 83.3ZM565.5 70.2L568.2 71.6L584.2 63.2L581.5 61.7ZM602.3 50.7L604.9 52.2L610 49.5L607.4 48ZM570.9 70.2L573.5 71.7L578.9 68.9L576.2 67.4ZM604.9 52.2L607.5 53.6L610.1 52.2L607.5 50.8ZM540.4 89.3L543.1 90.9L545.9 89.4L543.2 87.8ZM607.5 53.6L610.2 55L612.7 53.7L610.1 52.2ZM610.2 55L612.8 56.5L617.9 53.7L615.2 52.3ZM612.8 56.5L615.4 57.9L620.5 55.2L617.9 53.7ZM618 56.5L620.6 58L623.1 56.6L620.5 55.2ZM620.6 58L623.3 59.4L625.8 58L623.1 56.6ZM623.3 59.4L625.9 60.9L630.9 58.1L628.3 56.7ZM615.8 66.4L618.4 67.9L623.5 65.1L620.9 63.6ZM623.5 65.1L626.2 66.5L631.2 63.8L628.6 62.3ZM628.7 65.1L631.4 66.6L633.9 65.2L631.2 63.8ZM633.9 65.2L636.6 66.7L639.1 65.3L636.4 63.8ZM636.6 66.7L639.3 68.1L641.8 66.7L639.1 65.3ZM641.8 66.7L644.5 68.2L646.9 66.8L644.3 65.3Z"/>
<path fill="#d1cc60" stroke="#d1cc60" d="M516.6 72.6L519.2 74.1L522 72.6L519.4 71.1ZM510.6 78.5L513.3 80L516.1 78.5L513.5 77ZM527.7 69.7L530.3 71.2L552.4 59.9L549.8 58.4ZM548.8 84.9L551.5 86.4L554.3 84.9L551.6 83.4ZM557 86.4L559.7 88L562.5 86.5L559.8 84.9Z"/>
<path fill="#f9d346" stroke="#f9d346" d="M518.8 80.1L521.5 81.6L527.2 78.6L524.5 77.1ZM518.6 83.1L521.3 84.6L524.1 83.1L521.5 81.6ZM524.3 80.1L527 81.6L532.6 78.7L530 77.2ZM529.8 80.2L532.5 81.7L535.3 80.2L532.6 78.7ZM586.7 50.5L589.4 51.9L591.9 50.6L589.3 49.1ZM532.5 81.7L535.2 83.2L538 81.7L535.3 80.2ZM584.2 54.6L586.8 56.1L597.1 50.6L594.5 49.2ZM535.2 83.2L537.8 84.8L540.7 83.3L538 81.7ZM584.2 57.5L586.8 58.9L602.3 50.7L599.7 49.3ZM535 86.3L537.7 87.8L540.5 86.3L537.8 84.8ZM581.5 61.7L584.2 63.2L589.4 60.4L586.8 58.9ZM594.6 54.8L597.2 56.2L604.9 52.2L602.3 50.7ZM537.7 87.8L540.4 89.3L543.2 87.8L540.5 86.3ZM568.2 71.6L570.8 73.1L573.5 71.7L570.9 70.2ZM576.2 67.4L578.9 68.9L586.8 64.6L584.2 63.2ZM597.2 56.2L599.9 57.7L607.5 53.6L604.9 52.2ZM537.5 90.9L540.2 92.4L543.1 90.9L540.4 89.3ZM570.8 73.1L573.5 74.6L578.9 71.8L576.2 70.3ZM599.9 57.7L602.5 59.1L610.2 55L607.5 53.6ZM605.1 57.8L607.7 59.2L612.8 56.5L610.2 55ZM607.7 59.2L610.3 60.6L615.4 57.9L612.8 56.5ZM610.3 60.6L613 62.1L620.6 58L618 56.5ZM613 62.1L615.7 63.6L623.3 59.4L620.6 58ZM594.9 74.9L597.6 76.4L600.2 74.9L597.5 73.4ZM618.2 62.2L620.9 63.6L625.9 60.9L623.3 59.4ZM610.6 69.2L613.3 70.7L618.4 67.9L615.8 66.4ZM621 66.5L623.7 67.9L626.2 66.5L623.5 65.1ZM626.2 66.5L628.9 68L631.4 66.6L628.7 65.1ZM631.4 66.6L634.1 68.1L636.6 66.7L633.9 65.2ZM634.1 68.1L636.8 69.5L639.3 68.1L636.6 66.7ZM639.3 68.1L642 69.6L644.5 68.2L641.8 66.7ZM644.5 68.2L647.1 69.6L649.6 68.2L646.9 66.8ZM647.1 69.6L649.8 71.1L652.3 69.7L649.6 68.2ZM649.8 71.1L652.5 72.6L655 71.2L652.3 69.7Z"/>
<path fill="#f9c642" stroke="#f9c642" d="M521.5 81.6L524.1 83.1L527 81.6L524.3 80.1ZM521.3 84.6L523.9 86.2L532.5 81.7L529.8 80.2ZM526.8 84.7L529.5 86.2L535.2 83.2L532.5 81.7ZM532.3 84.7L535 86.3L537.8 84.8L535.2 83.2ZM532.2 87.8L534.8 89.3L537.7 87.8L535 86.3ZM586.8 58.9L589.4 60.4L597.2 56.2L594.6 54.8ZM534.8 89.3L537.5 90.9L540.4 89.3L537.7 87.8ZM584.2 63.2L586.8 64.6L599.9 57.7L597.2 56.2ZM534.7 92.4L537.4 93.9L540.2 92.4L537.5 90.9ZM576.2 70.3L578.9 71.8L602.5 59.1L599.9 57.7ZM573.5 74.6L576.2 76.1L578.8 74.7L576.2 73.2ZM584.2 68.9L586.9 70.4L594.8 66.2L592.1 64.7ZM594.7 63.3L597.4 64.8L607.7 59.2L605.1 57.8ZM589.5 69L592.2 70.5L610.3 60.6L607.7 59.2ZM589.5 71.9L592.2 73.4L613 62.1L610.3 60.6ZM592.2 73.4L594.9 74.9L615.7 63.6L613 62.1ZM592.2 76.3L594.9 77.8L597.6 76.4L594.9 74.9ZM597.5 73.4L600.2 74.9L620.9 63.6L618.2 62.2ZM602.8 73.5L605.5 75L613.3 70.7L610.6 69.2ZM615.9 69.3L618.5 70.8L623.7 67.9L621 66.5ZM623.7 67.9L626.3 69.4L628.9 68L626.2 66.5ZM628.9 68L631.6 69.5L634.1 68.1L631.4 66.6ZM652.5 72.6L655.2 74L657.7 72.6L655 71.2Z"/>
<path fill="#f8ba3d" stroke="#f8ba3d" d="M526.6 87.7L529.3 89.3L535 86.3L532.3 84.7ZM529.3 89.3L532 90.8L534.8 89.3L532.2 87.8ZM576.2 73.2L578.8 74.7L586.9 70.4L584.2 68.9ZM592.1 64.7L594.8 66.2L597.4 64.8L594.7 63.3ZM573.5 77.6L576.1 79.1L581.5 76.2L578.8 74.7ZM581.5 73.3L584.2 74.8L592.2 70.5L589.5 69ZM586.9 73.3L589.5 74.8L592.2 73.4L589.5 71.9ZM589.5 74.8L592.2 76.3L594.9 74.9L592.2 73.4ZM594.9 77.8L597.6 79.3L600.3 77.9L597.6 76.4ZM600.2 74.9L602.9 76.4L605.5 75L602.8 73.5ZM608.1 73.5L610.8 75L618.5 70.8L615.9 69.3ZM621.1 69.3L623.8 70.8L626.3 69.4L623.7 67.9ZM626.3 69.4L629 70.9L631.6 69.5L628.9 68ZM631.6 69.5L634.2 70.9L636.8 69.5L634.1 68.1ZM636.8 69.5L639.4 71L642 69.6L639.3 68.1ZM642 69.6L644.6 71.1L647.1 69.6L644.5 68.2ZM644.6 71.1L647.3 72.5L649.8 71.1L647.1 69.6ZM647.3 72.5L650.1 74L652.5 72.6L649.8 71.1Z"/>
<path fill="#f7ae38" stroke="#f7ae38" d="M559.8 84.9L562.5 86.5L576.1 79.1L573.5 77.6ZM578.8 74.7L581.5 76.2L584.2 74.8L581.5 73.3ZM573.4 80.6L576.1 82.1L589.5 74.8L586.9 73.3ZM586.9 76.3L589.6 77.8L592.2 76.3L589.5 74.8ZM597.6 76.4L600.3 77.9L602.9 76.4L600.2 74.9ZM600.3 77.9L602.9 79.4L610.8 75L608.1 73.5ZM613.4 73.6L616.1 75.1L623.8 70.8L621.1 69.3ZM623.8 70.8L626.5 72.3L629 70.9L626.3 69.4ZM629 70.9L631.7 72.3L634.2 70.9L631.6 69.5ZM634.2 70.9L636.9 72.4L639.4 71L636.8 69.5ZM639.4 71L642.1 72.5L644.6 71.1L642 69.6ZM650.1 74L652.8 75.5L655.2 74L652.5 72.6Z"/>
<path fill="#f4932d" stroke="#f4932d" d="M542.8 97.1L545.5 98.6L548.4 97.1L545.7 95.5ZM545.5 98.6L548.3 100.2L551.1 98.7L548.4 97.1ZM573.4 86.6L576.1 88.1L581.5 85.1L578.8 83.6ZM586.9 79.2L589.6 80.7L592.3 79.3L589.6 77.8ZM597.7 82.3L600.4 83.8L605.7 80.9L602.9 79.4ZM600.4 83.8L603.1 85.3L605.7 83.8L603 82.3ZM613.5 76.5L616.2 78L623.9 73.7L621.2 72.2ZM623.9 73.7L626.6 75.2L629.2 73.8L626.5 72.3ZM629.2 73.8L631.9 75.3L634.4 73.8L631.7 72.3ZM634.4 73.8L637.1 75.3L642.1 72.5L639.4 71ZM644.8 73.9L647.6 75.4L650.1 74L647.3 72.5ZM647.6 75.4L650.3 76.9L652.8 75.5L650.1 74ZM653 78.4L655.7 79.9L658.2 78.4L655.5 76.9Z"/>
<path fill="#ea2804" stroke="#ea2804" d="M545.7 95.5L548.4 97.1L567.9 86.5L565.2 85ZM548.4 97.1L551.1 98.7L573.4 86.6L570.7 85ZM551.1 98.7L553.8 100.3L576.1 88.1L573.4 86.6ZM553.8 100.3L556.6 101.8L581.5 88.1L578.8 86.6ZM556.6 101.8L559.3 103.4L586.9 88.2L584.2 86.7ZM559.3 103.4L562.1 105L589.7 89.7L586.9 88.2ZM562.1 105L564.8 106.6L595.1 89.8L592.4 88.2ZM564.8 106.6L567.6 108.2L600.5 89.8L597.8 88.3ZM567.6 108.2L570.4 109.8L605.9 89.8L603.2 88.3ZM570.4 109.8L573.1 111.4L613.9 88.4L611.2 86.9ZM573.1 111.4L575.9 113L634.7 79.7L632 78.2ZM575.9 113L578.7 114.6L642.5 78.3L639.8 76.8ZM578.7 114.6L581.5 116.2L650.3 76.9L647.6 75.4ZM581.5 116.2L584.3 117.8L658 75.5L655.2 74Z"/>
<path fill="#f6a032" stroke="#f6a032" d="M565.2 85L567.9 86.5L576.1 82.1L573.4 80.6ZM570.7 85L573.4 86.6L589.6 77.8L586.9 76.3ZM589.6 77.8L592.3 79.3L594.9 77.8L592.2 76.3ZM592.3 79.3L595 80.8L597.6 79.3L594.9 77.8ZM595 80.8L597.7 82.3L602.9 79.4L600.3 77.9ZM602.9 79.4L605.7 80.9L616.1 75.1L613.4 73.6ZM621.2 72.2L623.9 73.7L626.5 72.3L623.8 70.8ZM626.5 72.3L629.2 73.8L631.7 72.3L629 70.9ZM631.7 72.3L634.4 73.8L636.9 72.4L634.2 70.9ZM642.1 72.5L644.8 73.9L647.3 72.5L644.6 71.1Z"/>
<path fill="#f38527" stroke="#f38527" d="M548.3 100.2L551 101.8L553.8 100.3L551.1 98.7ZM578.8 83.6L581.5 85.1L589.6 80.7L586.9 79.2ZM589.6 80.7L592.3 82.2L595 80.8L592.3 79.3ZM595 83.7L597.7 85.3L600.4 83.8L597.7 82.3ZM597.7 85.3L600.4 86.8L603.1 85.3L600.4 83.8ZM603 82.3L605.7 83.8L616.2 78L613.5 76.5ZM600.4 86.8L603.2 88.3L608.4 85.4L605.7 83.8ZM621.4 75.1L624.1 76.6L626.6 75.2L623.9 73.7ZM605.8 86.8L608.5 88.4L611.2 86.9L608.4 85.4ZM626.6 75.2L629.3 76.7L631.9 75.3L629.2 73.8ZM631.9 75.3L634.6 76.7L637.1 75.3L634.4 73.8ZM639.6 73.9L642.3 75.4L644.8 73.9L642.1 72.5ZM632.7 90L635.4 91.6L643.1 87.1L640.4 85.6Z"/>
<path fill="#f17822" stroke="#f17822" d="M578.8 86.6L581.5 88.1L592.3 82.2L589.6 80.7ZM592.3 82.2L595 83.7L597.7 82.3L595 80.8ZM597.8 88.3L600.5 89.8L603.2 88.3L600.4 86.8ZM613.6 79.5L616.3 81L624.1 76.6L621.4 75.1ZM603.2 88.3L605.9 89.8L608.5 88.4L605.8 86.8ZM624.1 76.6L626.8 78.1L629.3 76.7L626.6 75.2ZM629.3 76.7L632 78.2L634.6 76.7L631.9 75.3ZM634.6 76.7L637.3 78.2L642.3 75.4L639.6 73.9ZM642.3 75.4L645 76.8L647.6 75.4L644.8 73.9ZM624.9 94.5L627.6 96.1L635.4 91.6L632.7 90ZM650.5 79.8L653.2 81.3L655.7 79.9L653 78.4Z"/>
<path fill="#f06a1c" stroke="#f06a1c" d="M584.2 86.7L586.9 88.2L595 83.7L592.3 82.2ZM592.3 85.2L595 86.7L597.7 85.3L595 83.7ZM559.3 106.6L562 108.2L564.8 106.6L562.1 105ZM592.4 88.2L595.1 89.8L600.4 86.8L597.7 85.3ZM605.7 83.8L608.4 85.4L616.3 81L613.6 79.5ZM618.9 79.5L621.6 81L626.8 78.1L624.1 76.6ZM626.8 78.1L629.5 79.6L632 78.2L629.3 76.7ZM632 78.2L634.7 79.7L637.3 78.2L634.6 76.7ZM639.8 76.8L642.5 78.3L645 76.8L642.3 75.4ZM619.6 97.5L622.4 99.1L627.6 96.1L624.9 94.5ZM648 81.3L650.7 82.8L653.2 81.3L650.5 79.8Z"/>
<path fill="#ef5d17" stroke="#ef5d17" d="M586.9 88.2L589.7 89.7L595 86.7L592.3 85.2ZM562 108.2L564.8 109.8L567.6 108.2L564.8 106.6ZM564.8 109.8L567.6 111.4L570.4 109.8L567.6 108.2ZM611.1 83.9L613.8 85.4L621.6 81L618.9 79.5ZM624.2 79.6L626.9 81.1L629.5 79.6L626.8 78.1ZM611.6 102.1L614.4 103.7L622.4 99.1L619.6 97.5Z"/>
<path fill="#ee5012" stroke="#ee5012" d="M608.4 85.4L611.2 86.9L613.8 85.4L611.1 83.9ZM567.6 111.4L570.3 113L573.1 111.4L570.4 109.8ZM616.4 83.9L619.1 85.4L626.9 81.1L624.2 79.6ZM606.3 105.2L609.1 106.8L614.4 103.7L611.6 102.1ZM645.4 82.7L648.2 84.2L650.7 82.8L648 81.3Z"/>
<path fill="#ec420e" stroke="#ec420e" d="M611.2 86.9L613.9 88.4L619.1 85.4L616.4 83.9ZM570.3 113L573.1 114.6L575.9 113L573.1 111.4ZM573.1 114.6L575.9 116.2L578.7 114.6L575.9 113ZM598.1 109.9L600.9 111.5L609.1 106.8L606.3 105.2ZM642.9 84.2L645.7 85.7L648.2 84.2L645.4 82.7Z"/>
<path fill="#eb3509" stroke="#eb3509" d="M575.9 116.2L578.7 117.8L581.5 116.2L578.7 114.6ZM578.7 117.8L581.5 119.4L584.3 117.8L581.5 116.2ZM584.3 117.8L587.1 119.4L600.9 111.5L598.1 109.9ZM640.4 85.6L643.1 87.1L645.7 85.7L642.9 84.2Z"/>
<polygon fill="#ea2804" points="657.5,78.9 652.6,74.9 625.1,91.8 623.6,96.6"/>
</g>
<clipPath id="h4"><polygon points="42.2,390.5 55.2,383.2 60.2,385.4 121.2,349.9 136.2,358.8 138.8,355.9 195.5,388.4 192.4,391.5 195.7,394.6 121.4,436.6"/></clipPath>
<g clip-path="url(#h4)" stroke-width="0.8" stroke-linejoin="round">
<path fill="#e6db58" stroke="#e6db58" d="M36.5 390.4L39.2 392L42.2 390.5L39.5 388.9ZM51.3 382.8L54.1 384.4L57 382.9L54.3 381.3ZM80 371L82.8 372.6L94 366.8L91.3 365.3ZM77.1 375.5L79.8 377L82.6 375.6L79.9 374ZM85.6 371.1L88.3 372.7L99.4 366.9L96.7 365.4ZM91.1 371.2L93.8 372.7L104.9 367L102.2 365.4ZM96.6 371.3L99.3 372.8L107.6 368.5L104.9 367ZM99.3 372.8L102 374.3L110.3 370L107.6 368.5ZM104.8 372.9L107.6 374.4L113.1 371.5L110.3 370ZM107.6 374.4L110.3 376L115.8 373L113.1 371.5ZM110.3 376L113 377.5L118.5 374.6L115.8 373ZM113 377.5L115.8 379L118.5 377.6L115.8 376ZM115.8 379L118.5 380.6L121.3 379.1L118.5 377.6ZM118.5 380.6L121.3 382.1L124 380.6L121.3 379.1ZM121.3 382.1L124 383.7L126.8 382.2L124 380.6ZM121.3 385.2L124.1 386.7L126.8 385.2L124 383.7ZM124.1 386.7L126.8 388.3L129.6 386.8L126.8 385.2ZM126.9 391.4L129.6 392.9L132.4 391.4L129.6 389.9Z"/>
<path fill="#dbd45c" stroke="#dbd45c" d="M39.5 388.9L42.2 390.5L54.1 384.4L51.3 382.8ZM74.4 374L77.1 375.5L79.9 374L77.2 372.5ZM91.3 365.3L94 366.8L110.4 358.3L107.8 356.8ZM96.7 365.4L99.4 366.9L113.1 359.8L110.4 358.3ZM82.6 375.6L85.4 377.1L88.2 375.7L85.5 374.1ZM102.2 365.4L104.9 367L115.8 361.3L113.1 359.8ZM104.9 367L107.6 368.5L115.8 364.2L113.1 362.7ZM107.6 368.5L110.3 370L118.5 365.7L115.8 364.2ZM110.3 370L113.1 371.5L118.5 368.6L115.8 367.1ZM113.1 371.5L115.8 373L118.5 371.6L115.8 370.1ZM115.8 373L118.5 374.6L121.3 373.1L118.5 371.6ZM115.8 376L118.5 377.6L124 374.6L121.3 373.1ZM118.5 377.6L121.3 379.1L124 377.6L121.3 376.1ZM121.3 379.1L124 380.6L126.8 379.2L124 377.6ZM124 380.6L126.8 382.2L129.5 380.7L126.8 379.2ZM124 383.7L126.8 385.2L129.5 383.7L126.8 382.2ZM126.8 388.3L129.6 389.9L132.4 388.3L129.6 386.8Z"/>
<path fill="#fbeb50" stroke="#fbeb50" d="M39.2 392L41.9 393.6L44.9 392.1L42.2 390.5ZM51.1 385.9L53.9 387.5L56.8 386L54.1 384.4ZM76.9 378.5L79.7 380.1L82.5 378.6L79.8 377ZM85.3 380.2L88 381.7L90.8 380.2L88.1 378.7ZM88 381.7L90.7 383.3L93.6 381.8L90.8 380.2ZM90.7 383.3L93.5 384.8L96.3 383.3L93.6 381.8ZM96.3 383.3L99.1 384.9L101.9 383.4L99.1 381.9ZM99.1 384.9L101.8 386.5L104.6 385L101.9 383.4ZM101.8 386.5L104.6 388L113 383.5L110.2 382ZM104.6 388L107.4 389.6L118.5 383.6L115.8 382.1ZM107.4 389.6L110.1 391.2L121.3 385.2L118.5 383.6ZM115.7 388.2L118.5 389.7L121.3 388.2L118.5 386.7ZM124.1 392.9L126.9 394.5L129.6 392.9L126.9 391.4ZM126.9 394.5L129.7 396L132.4 394.5L129.6 392.9ZM129.7 396L132.5 397.6L135.3 396.1L132.4 394.5Z"/>
<path fill="#f0e354" stroke="#f0e354" d="M42.2 390.5L44.9 392.1L53.9 387.5L51.1 385.9ZM74.2 377L76.9 378.5L79.8 377L77.1 375.5ZM82.8 372.6L85.5 374.1L88.3 372.7L85.6 371.1ZM79.8 377L82.5 378.6L85.4 377.1L82.6 375.6ZM85.5 374.1L88.2 375.7L93.8 372.7L91.1 371.2ZM82.5 378.6L85.3 380.2L99.3 372.8L96.6 371.3ZM88.1 378.7L90.8 380.2L102 374.3L99.3 372.8ZM90.8 380.2L93.6 381.8L107.6 374.4L104.8 372.9ZM93.6 381.8L96.3 383.3L110.3 376L107.6 374.4ZM99.1 381.9L101.9 383.4L113 377.5L110.3 376ZM101.9 383.4L104.6 385L115.8 379L113 377.5ZM110.2 382L113 383.5L118.5 380.6L115.8 379ZM115.8 382.1L118.5 383.6L121.3 382.1L118.5 380.6ZM118.5 383.6L121.3 385.2L124 383.7L121.3 382.1ZM118.5 386.7L121.3 388.2L124.1 386.7L121.3 385.2ZM121.3 388.2L124.1 389.8L126.8 388.3L124.1 386.7ZM124.1 389.8L126.9 391.4L129.6 389.9L126.8 388.3Z"/>
<path fill="#fadf4b" stroke="#fadf4b" d="M54.1 384.4L56.8 386L59.7 384.4L57 382.9ZM71.3 378.5L74.1 380L76.9 378.5L74.2 377ZM79.7 380.1L82.4 381.6L85.3 380.2L82.5 378.6ZM82.4 381.6L85.1 383.2L88 381.7L85.3 380.2ZM93.5 384.8L96.2 386.4L99.1 384.9L96.3 383.3ZM96.2 386.4L99 388L101.8 386.5L99.1 384.9ZM99 388L101.8 389.6L104.6 388L101.8 386.5ZM101.8 389.6L104.5 391.1L107.4 389.6L104.6 388ZM104.5 391.1L107.3 392.7L110.1 391.2L107.4 389.6ZM107.3 392.7L110.1 394.3L118.5 389.7L115.7 388.2ZM95.9 402L98.7 403.6L101.6 402.1L98.7 400.5ZM104.5 397.4L107.3 399L124.1 389.8L121.3 388.2ZM107.3 399L110.1 400.6L112.9 399L110.1 397.4ZM121.3 391.3L124.1 392.9L126.9 391.4L124.1 389.8Z"/>
<path fill="#c6c464" stroke="#c6c464" d="M77.2 372.5L79.9 374L82.8 372.6L80 371ZM123.9 354.2L126.6 355.7L129.2 354.3L126.5 352.8ZM121.2 358.5L123.9 360L131.9 355.8L129.2 354.3ZM121.2 361.4L123.9 362.9L131.9 358.7L129.3 357.2ZM121.2 364.3L123.9 365.8L132 361.5L129.3 360ZM121.2 367.2L124 368.7L132 364.4L129.3 362.9ZM124 368.7L126.7 370.2L132.1 367.4L129.4 365.9ZM124 371.7L126.7 373.2L134.8 368.9L132.1 367.4ZM126.7 373.2L129.4 374.7L134.8 371.8L132.1 370.3ZM126.7 376.2L129.5 377.7L134.9 374.8L132.2 373.3ZM129.5 377.7L132.2 379.2L134.9 377.8L132.2 376.2ZM129.5 380.7L132.3 382.3L135 380.8L132.2 379.2ZM129.5 383.7L132.3 385.3L135 383.8L132.3 382.3ZM129.6 386.8L132.4 388.3L135.1 386.9L132.3 385.3ZM129.6 389.9L132.4 391.4L135.1 389.9L132.4 388.3ZM179.8 402.7L182.6 404.3L190.5 399.7L187.7 398.1Z"/>
<path fill="#d1cc60" stroke="#d1cc60" d="M107.8 356.8L110.4 358.3L123.9 351.4L121.2 349.9ZM79.9 374L82.6 375.6L85.5 374.1L82.8 372.6ZM110.4 358.3L113.1 359.8L126.5 352.8L123.9 351.4ZM113.1 359.8L115.8 361.3L126.6 355.7L123.9 354.2ZM113.1 362.7L115.8 364.2L123.9 360L121.2 358.5ZM115.8 364.2L118.5 365.7L123.9 362.9L121.2 361.4ZM115.8 367.1L118.5 368.6L123.9 365.8L121.2 364.3ZM115.8 370.1L118.5 371.6L124 368.7L121.2 367.2ZM118.5 371.6L121.3 373.1L126.7 370.2L124 368.7ZM121.3 373.1L124 374.6L126.7 373.2L124 371.7ZM121.3 376.1L124 377.6L129.4 374.7L126.7 373.2ZM124 377.6L126.8 379.2L129.5 377.7L126.7 376.2ZM126.8 379.2L129.5 380.7L132.2 379.2L129.5 377.7ZM126.8 382.2L129.5 383.7L132.3 382.3L129.5 380.7ZM126.8 385.2L129.6 386.8L132.3 385.3L129.5 383.7ZM129.6 392.9L132.4 394.5L135.2 393L132.4 391.4ZM132.4 394.5L135.3 396.1L138 394.6L135.2 393Z"/>
<path fill="#ea2804" stroke="#ea2804" d="M44.9 392.1L47.7 393.7L50.7 392.1L47.9 390.5ZM47.7 393.7L50.5 395.3L59.4 390.7L56.6 389.1ZM50.5 395.3L53.2 396.9L70.9 387.7L68.1 386.1ZM53.2 396.9L56 398.5L73.6 389.2L70.9 387.7ZM56 398.5L58.8 400.1L79.3 389.3L76.5 387.7ZM58.8 400.1L61.5 401.7L82 390.9L79.3 389.3ZM61.5 401.7L64.3 403.4L84.8 392.5L82 390.9ZM61.4 404.9L64.2 406.6L87.6 394.1L84.8 392.5ZM64.2 406.6L67 408.2L90.4 395.7L87.6 394.1ZM69.9 406.6L72.7 408.3L96 395.7L93.2 394.1ZM69.8 409.9L72.6 411.5L98.8 397.3L96 395.7ZM72.6 411.5L75.4 413.1L101.6 398.9L98.8 397.3ZM75.4 413.1L78.2 414.8L92.9 406.8L90.1 405.2ZM81.2 413.2L84 414.8L92.8 410L90 408.4ZM84 414.8L86.9 416.5L98.5 410.1L95.7 408.4ZM86.9 416.5L89.7 418.1L104.3 410.1L101.4 408.5ZM89.7 418.1L92.6 419.8L110 410.1L107.1 408.5ZM92.6 419.8L95.4 421.5L115.7 410.2L112.8 408.5ZM95.4 421.5L98.3 423.1L121.3 410.2L118.5 408.6ZM98.3 423.1L101.1 424.8L127 410.2L124.2 408.6ZM101.1 424.8L104 426.5L138.2 407.1L135.4 405.5ZM104 426.5L106.9 428.2L146.6 405.6L143.8 404ZM106.9 428.2L109.8 429.8L149.5 407.2L146.6 405.6ZM106.9 431.5L109.8 433.2L155 407.3L152.2 405.7ZM109.8 433.2L112.7 434.9L157.9 408.9L155 407.3ZM112.7 434.9L115.6 436.6L160.8 410.5L157.9 408.9ZM115.6 436.6L118.5 438.3L163.6 412.1L160.8 410.5ZM121.4 436.6L124.3 438.3L150 423.4L147.1 421.7Z"/>
<path fill="#f9d346" stroke="#f9d346" d="M47.9 390.5L50.7 392.1L56.6 389.1L53.9 387.5ZM74.1 380L76.8 381.6L79.7 380.1L76.9 378.5ZM85.1 383.2L87.9 384.8L90.7 383.3L88 381.7ZM87.9 384.8L90.6 386.3L93.5 384.8L90.7 383.3ZM93.4 387.9L96.2 389.5L99 388L96.2 386.4ZM96.2 389.5L98.9 391.1L101.8 389.6L99 388ZM98.9 391.1L101.7 392.7L104.5 391.1L101.8 389.6ZM101.7 392.7L104.5 394.2L107.3 392.7L104.5 391.1ZM98.7 400.5L101.6 402.1L107.3 399L104.5 397.4ZM104.4 400.5L107.2 402.1L110.1 400.6L107.3 399ZM110.1 397.4L112.9 399L124.1 392.9L121.3 391.3ZM121.3 394.4L124.1 396L126.9 394.5L124.1 392.9ZM124.1 396L126.9 397.6L129.7 396L126.9 394.5ZM132.5 397.6L135.3 399.2L138.1 397.7L135.3 396.1Z"/>
<path fill="#f9c642" stroke="#f9c642" d="M53.9 387.5L56.6 389.1L59.5 387.5L56.8 386ZM68.5 379.9L71.2 381.5L74.1 380L71.3 378.5ZM76.8 381.6L79.5 383.1L82.4 381.6L79.7 380.1ZM90.6 386.3L93.4 387.9L96.2 386.4L93.5 384.8ZM104.5 394.2L107.3 395.8L110.1 394.3L107.3 392.7ZM95.8 405.2L98.6 406.8L107.2 402.1L104.4 400.5ZM107.2 402.1L110 403.7L124.1 396L121.3 394.4ZM126.9 397.6L129.7 399.2L132.5 397.6L129.7 396Z"/>
<path fill="#f7ae38" stroke="#f7ae38" d="M56.8 386L59.5 387.5L62.5 386L59.7 384.4ZM73.9 383.1L76.7 384.6L79.5 383.1L76.8 381.6ZM90.6 389.4L93.3 391L96.2 389.5L93.4 387.9ZM90 408.4L92.8 410L95.7 408.4L92.9 406.8ZM95.7 408.4L98.5 410.1L107.2 405.3L104.4 403.7ZM107.2 405.3L110 406.9L112.8 405.3L110 403.7ZM115.7 403.8L118.5 405.4L121.3 403.8L118.5 402.2ZM124.1 399.1L126.9 400.7L129.7 399.2L126.9 397.6ZM129.7 399.2L132.5 400.8L135.3 399.2L132.5 397.6ZM138.1 400.8L140.9 402.4L143.7 400.9L140.9 399.3ZM174.4 405.8L177.3 407.4L179.9 405.9L177.1 404.3Z"/>
<path fill="#f4932d" stroke="#f4932d" d="M59.7 384.4L62.5 386L65.4 384.5L62.7 382.9ZM56.6 389.1L59.4 390.7L62.3 389.1L59.5 387.5ZM65.4 384.5L68.1 386.1L71 384.6L68.3 383ZM71 384.6L73.8 386.1L76.7 384.6L73.9 383.1ZM79.4 386.2L82.2 387.8L85 386.3L82.3 384.7ZM101.4 408.5L104.3 410.1L107.1 408.5L104.3 406.9ZM107.1 408.5L110 410.1L112.8 408.5L110 406.9ZM112.8 408.5L115.7 410.2L124.2 405.4L121.3 403.8ZM124.1 402.3L127 403.9L129.8 402.3L126.9 400.7ZM132.5 400.8L135.4 402.4L138.1 400.8L135.3 399.2ZM135.4 402.4L138.2 404L140.9 402.4L138.1 400.8ZM143.8 404L146.6 405.6L149.4 404.1L146.5 402.5ZM169 409L171.9 410.6L174.6 409L171.7 407.4Z"/>
<path fill="#f6a032" stroke="#f6a032" d="M62.7 382.9L65.4 384.5L68.3 383L65.6 381.4ZM68.3 383L71 384.6L73.9 383.1L71.2 381.5ZM47.5 396.8L50.2 398.4L53.2 396.9L50.5 395.3ZM76.7 384.6L79.4 386.2L82.3 384.7L79.5 383.1ZM82.2 387.8L84.9 389.4L87.8 387.9L85 386.3ZM84.9 389.4L87.7 391L90.6 389.4L87.8 387.9ZM87.7 391L90.5 392.5L93.3 391L90.6 389.4ZM90.5 392.5L93.2 394.1L96.1 392.6L93.3 391ZM93.2 394.1L96 395.7L98.9 394.2L96.1 392.6ZM96 395.7L98.8 397.3L101.7 395.8L98.9 394.2ZM98.8 397.3L101.6 398.9L104.5 397.4L101.7 395.8ZM104.3 406.9L107.1 408.5L110 406.9L107.2 405.3ZM110 406.9L112.8 408.5L118.5 405.4L115.7 403.8ZM118.5 402.2L121.3 403.8L126.9 400.7L124.1 399.1ZM126.9 400.7L129.8 402.3L132.5 400.8L129.7 399.2ZM140.9 402.4L143.8 404L146.5 402.5L143.7 400.9ZM171.7 407.4L174.6 409L177.3 407.4L174.4 405.8Z"/>
<path fill="#f8ba3d" stroke="#f8ba3d" d="M65.6 381.4L68.3 383L71.2 381.5L68.5 379.9ZM44.7 395.2L47.5 396.8L50.5 395.3L47.7 393.7ZM71.2 381.5L73.9 383.1L76.8 381.6L74.1 380ZM79.5 383.1L82.3 384.7L85.1 383.2L82.4 381.6ZM82.3 384.7L85 386.3L87.9 384.8L85.1 383.2ZM85 386.3L87.8 387.9L90.6 386.3L87.9 384.8ZM87.8 387.9L90.6 389.4L93.4 387.9L90.6 386.3ZM93.3 391L96.1 392.6L98.9 391.1L96.2 389.5ZM96.1 392.6L98.9 394.2L101.7 392.7L98.9 391.1ZM98.9 394.2L101.7 395.8L104.5 394.2L101.7 392.7ZM101.7 395.8L104.5 397.4L107.3 395.8L104.5 394.2ZM92.9 406.8L95.7 408.4L98.6 406.8L95.8 405.2ZM104.4 403.7L107.2 405.3L110 403.7L107.2 402.1ZM110 403.7L112.8 405.3L126.9 397.6L124.1 396ZM135.3 399.2L138.1 400.8L140.9 399.3L138.1 397.7ZM177.1 404.3L179.9 405.9L182.6 404.3L179.8 402.7Z"/>
<path fill="#f38527" stroke="#f38527" d="M59.5 387.5L62.3 389.1L68.1 386.1L65.4 384.5ZM68.1 386.1L70.9 387.7L73.8 386.1L71 384.6ZM50.2 398.4L53 400.1L56 398.5L53.2 396.9ZM82 390.9L84.8 392.5L87.7 391L84.9 389.4ZM84.8 392.5L87.6 394.1L90.5 392.5L87.7 391ZM87.6 394.1L90.4 395.7L93.2 394.1L90.5 392.5ZM78.2 414.8L81.1 416.4L84 414.8L81.2 413.2ZM81.1 416.4L83.9 418.1L86.9 416.5L84 414.8ZM121.3 403.8L124.2 405.4L127 403.9L124.1 402.3ZM127 403.9L129.8 405.5L135.4 402.4L132.5 400.8ZM132.6 403.9L135.4 405.5L138.2 404L135.4 402.4ZM138.2 404L141 405.6L143.8 404L140.9 402.4ZM166.3 410.5L169.2 412.1L171.9 410.6L169 409Z"/>
<path fill="#f17822" stroke="#f17822" d="M70.9 387.7L73.6 389.2L79.4 386.2L76.7 384.6ZM76.5 387.7L79.3 389.3L82.2 387.8L79.4 386.2ZM79.3 389.3L82 390.9L84.9 389.4L82.2 387.8ZM83.9 418.1L86.8 419.8L89.7 418.1L86.9 416.5ZM118.5 408.6L121.3 410.2L129.8 405.5L127 403.9ZM129.8 405.5L132.6 407.1L135.4 405.5L132.6 403.9ZM135.4 405.5L138.2 407.1L141 405.6L138.2 404ZM146.6 405.6L149.5 407.2L152.2 405.7L149.4 404.1ZM163.6 412.1L166.5 413.7L169.2 412.1L166.3 410.5Z"/>
<path fill="#b8ba6c" stroke="#b8ba6c" d="M129.3 357.2L131.9 358.7L134.6 357.3L131.9 355.8ZM129.3 360L132 361.5L139.9 357.4L137.2 355.9ZM129.3 362.9L132 364.4L140 360.2L137.3 358.7ZM129.4 365.9L132.1 367.4L140.1 363.1L137.4 361.6ZM132.1 367.4L134.8 368.9L140.1 366L137.4 364.5ZM132.1 370.3L134.8 371.8L140.2 369L137.5 367.4ZM132.2 373.3L134.9 374.8L140.3 371.9L137.5 370.4ZM132.2 376.2L134.9 377.8L140.3 374.9L137.6 373.3ZM132.2 379.2L135 380.8L140.4 377.9L137.6 376.3ZM132.3 382.3L135 383.8L140.5 380.9L137.7 379.3ZM132.3 385.3L135.1 386.9L140.5 383.9L137.8 382.3ZM132.4 388.3L135.1 389.9L140.6 386.9L137.8 385.4ZM132.4 391.4L135.2 393L146.1 387L143.3 385.4ZM149.4 404.1L152.2 405.7L157.7 402.6L154.8 401ZM152.2 405.7L155 407.3L163.2 402.6L160.4 401ZM155 407.3L157.9 408.9L182 395L179.2 393.4ZM157.9 408.9L160.8 410.5L192.6 392.1L189.8 390.5ZM160.8 410.5L163.6 412.1L195.5 393.6L192.6 392.1ZM187.7 398.1L190.5 399.7L195.7 396.7L192.9 395.1Z"/>
<path fill="#f06a1c" stroke="#f06a1c" d="M53 400.1L55.8 401.7L58.8 400.1L56 398.5ZM124.2 408.6L127 410.2L132.6 407.1L129.8 405.5ZM160.9 413.7L163.8 415.3L166.5 413.7L163.6 412.1Z"/>
<path fill="#aab075" stroke="#aab075" d="M137.2 355.9L139.9 357.4L142.6 356L139.9 354.5ZM137.3 358.7L140 360.2L145.3 357.4L142.6 356ZM137.4 361.6L140.1 363.1L145.3 360.3L142.6 358.8ZM137.4 364.5L140.1 366L148 361.8L145.3 360.3ZM137.5 367.4L140.2 369L148.1 364.7L145.4 363.2ZM137.5 370.4L140.3 371.9L150.9 366.2L148.1 364.7ZM137.6 373.3L140.3 374.9L151 369.1L148.2 367.6ZM137.6 376.3L140.4 377.9L151.1 372.1L148.3 370.5ZM137.7 379.3L140.5 380.9L151.2 375L148.4 373.5ZM137.8 382.3L140.5 383.9L151.3 378L148.5 376.5ZM137.8 385.4L140.6 386.9L159.3 376.6L156.6 375.1ZM143.3 385.4L146.1 387L164.7 376.7L162 375.2ZM138.1 397.7L140.9 399.3L143.6 397.7L140.8 396.2ZM140.9 399.3L143.7 400.9L149.2 397.8L146.4 396.2ZM143.7 400.9L146.5 402.5L165.4 391.8L162.6 390.2ZM146.5 402.5L149.4 404.1L173.5 390.3L170.7 388.8ZM154.8 401L157.7 402.6L179 390.4L176.2 388.8ZM160.4 401L163.2 402.6L184.4 390.4L181.6 388.9ZM179.2 393.4L182 395L189.8 390.5L187 389ZM192.6 392.1L195.5 393.6L198.1 392.1L195.2 390.6ZM192.9 395.1L195.7 396.7L198.3 395.2L195.5 393.6Z"/>
<path fill="#ee5012" stroke="#ee5012" d="M55.8 401.7L58.6 403.3L61.5 401.7L58.8 400.1ZM95.3 424.8L98.2 426.5L101.1 424.8L98.3 423.1ZM155.4 416.9L158.3 418.5L161 416.9L158.2 415.3Z"/>
<path fill="#9ca77d" stroke="#9ca77d" d="M142.6 358.8L145.3 360.3L148 358.9L145.3 357.4ZM145.3 360.3L148 361.8L150.7 360.4L148 358.9ZM145.4 363.2L148.1 364.7L153.4 361.9L150.7 360.4ZM148.1 364.7L150.9 366.2L156.1 363.4L153.4 361.9ZM148.2 367.6L151 369.1L156.2 366.3L153.5 364.8ZM148.3 370.5L151.1 372.1L156.3 369.2L153.6 367.7ZM148.4 373.5L151.2 375L159.1 370.7L156.3 369.2ZM148.5 376.5L151.3 378L161.8 372.2L159.1 370.7ZM156.6 375.1L159.3 376.6L167.2 372.3L164.4 370.8ZM162 375.2L164.7 376.7L172.5 372.4L169.8 370.9ZM135.2 393L138 394.6L151.6 387L148.8 385.5ZM135.3 396.1L138.1 397.7L165 382.7L162.2 381.1ZM140.8 396.2L143.6 397.7L170.4 382.7L167.6 381.2ZM146.4 396.2L149.2 397.8L173.2 384.3L170.4 382.7ZM162.6 390.2L165.4 391.8L178.6 384.3L175.8 382.8ZM170.7 388.8L173.5 390.3L181.4 385.9L178.6 384.3ZM176.2 388.8L179 390.4L184.2 387.4L181.4 385.9ZM181.6 388.9L184.4 390.4L189.6 387.5L186.8 385.9ZM187 389L189.8 390.5L192.4 389L189.6 387.5ZM189.8 390.5L192.6 392.1L195.2 390.6L192.4 389Z"/>
<path fill="#8e9d86" stroke="#8e9d86" d="M153.5 364.8L156.2 366.3L158.8 364.9L156.1 363.4ZM153.6 367.7L156.3 369.2L161.6 366.4L158.8 364.9ZM156.3 369.2L159.1 370.7L164.3 367.9L161.6 366.4ZM159.1 370.7L161.8 372.2L167 369.4L164.3 367.9ZM164.4 370.8L167.2 372.3L169.8 370.9L167 369.4ZM148.8 385.5L151.6 387L170.1 376.8L167.3 375.2ZM162.2 381.1L165 382.7L175.5 376.8L172.7 375.3ZM167.6 381.2L170.4 382.7L178.2 378.4L175.5 376.8ZM170.4 382.7L173.2 384.3L181 379.9L178.2 378.4ZM175.8 382.8L178.6 384.3L183.8 381.4L181 379.9ZM178.6 384.3L181.4 385.9L186.6 382.9L183.8 381.4ZM181.4 385.9L184.2 387.4L189.4 384.5L186.6 382.9ZM186.8 385.9L189.6 387.5L192.2 386L189.4 384.5ZM189.6 387.5L192.4 389L195 387.5L192.2 386ZM192.4 389L195.2 390.6L197.8 389.1L195 387.5Z"/>
<path fill="#ec420e" stroke="#ec420e" d="M90.1 405.2L92.9 406.8L95.8 405.2L93 403.6ZM98.2 426.5L101.1 428.1L104 426.5L101.1 424.8ZM152.6 418.5L155.5 420.1L158.3 418.5L155.4 416.9Z"/>
<path fill="#ef5d17" stroke="#ef5d17" d="M93 403.6L95.8 405.2L98.7 403.6L95.9 402ZM158.2 415.3L161 416.9L163.8 415.3L160.9 413.7Z"/>
<path fill="#80938e" stroke="#80938e" d="M167.3 375.2L170.1 376.8L175.3 373.9L172.5 372.4Z"/>
<path fill="#eb3509" stroke="#eb3509" d="M101.1 428.1L104 429.8L106.9 428.2L104 426.5ZM104 429.8L106.9 431.5L109.8 429.8L106.9 428.2ZM147.1 421.7L150 423.4L155.5 420.1L152.6 418.5Z"/>
<polygon fill="#cac762" points="197.5,395.7 192.4,391.5 163.8,409.2 162.3,414.3"/>
</g>
<clipPath id="h5"><polygon points="272.9,393.2 285.9,385.9 290.9,388.1 351.8,352.6 366.9,361.5 369.4,358.6 426.1,391.1 423,394.2 426.3,397.3 352.1,439.3"/></clipPath>
<g clip-path="url(#h5)" stroke-width="0.8" stroke-linejoin="round">
<path fill="#9ca77d" stroke="#9ca77d" d="M267.2 393.1L269.9 394.7L272.9 393.2L270.2 391.6ZM273.1 390L275.9 391.6L281.8 388.6L279.1 387ZM282 385.5L284.8 387.1L287.7 385.6L285 384ZM269.9 394.7L272.6 396.3L278.6 393.2L275.9 391.6ZM332.4 392.3L335.2 393.8L338 392.3L335.3 390.7ZM323.8 400L326.6 401.6L329.5 400L326.7 398.4ZM329.5 396.9L332.3 398.5L335.2 396.9L332.4 395.4ZM335.2 393.8L338 395.4L340.8 393.9L338 392.3ZM303.3 414.2L306.1 415.8L309 414.2L306.2 412.6ZM309.2 411L312 412.6L314.9 411L312.1 409.4ZM315 407.8L317.8 409.5L320.8 407.9L318 406.2ZM320.9 404.7L323.7 406.3L326.5 404.7L323.7 403.1ZM314.9 411L317.7 412.7L320.7 411.1L317.8 409.5ZM320.8 407.9L323.6 409.5L329.3 406.3L326.5 404.7Z"/>
<path fill="#8e9d86" stroke="#8e9d86" d="M270.2 391.6L272.9 393.2L275.9 391.6L273.1 390ZM318.1 403.1L320.9 404.7L326.6 401.6L323.8 400ZM326.7 398.4L329.5 400L332.3 398.5L329.5 396.9ZM332.4 395.4L335.2 396.9L338 395.4L335.2 393.8ZM306.2 412.6L309 414.2L312 412.6L309.2 411ZM312.1 409.4L314.9 411L317.8 409.5L315 407.8ZM318 406.2L320.8 407.9L323.7 406.3L320.9 404.7ZM323.7 403.1L326.5 404.7L343.6 395.5L340.8 393.9ZM306.1 415.8L308.9 417.5L311.9 415.9L309 414.2ZM312 412.6L314.8 414.3L317.7 412.7L314.9 411ZM317.8 409.5L320.7 411.1L323.6 409.5L320.8 407.9Z"/>
<path fill="#aab075" stroke="#aab075" d="M279.1 387L281.8 388.6L284.8 387.1L282 385.5ZM284.8 387.1L287.5 388.7L290.4 387.1L287.7 385.6ZM305 376.7L307.7 378.2L313.4 375.3L310.7 373.7ZM290.4 387.1L293.2 388.7L299 385.7L296.2 384.1ZM299.1 382.6L301.9 384.2L307.6 381.2L304.9 379.7ZM310.6 376.7L313.3 378.3L316.1 376.8L313.4 375.3ZM324.2 387.5L326.9 389.1L329.7 387.6L327 386ZM326.9 389.1L329.7 390.7L332.5 389.2L329.7 387.6ZM315.4 398.3L318.2 399.9L335.3 390.7L332.5 389.2ZM315.3 401.5L318.1 403.1L335.2 393.8L332.4 392.3ZM315.2 404.6L318 406.2L320.9 404.7L318.1 403.1ZM365.8 395.7L368.6 397.3L405.9 376.6L403.1 375.1ZM368.6 397.3L371.4 398.9L387.7 389.8L384.9 388.3ZM392.8 383.8L395.6 385.4L406.1 379.5L403.3 378ZM400.9 382.4L403.6 384L408.8 381.1L406.1 379.5ZM403.6 384L406.4 385.5L411.6 382.6L408.8 381.1ZM406.4 385.5L409.2 387L414.4 384.1L411.6 382.6ZM409.2 387L412 388.6L417.2 385.6L414.4 384.1ZM412 388.6L414.8 390.1L420 387.2L417.2 385.6ZM417.4 388.6L420.2 390.2L422.8 388.7L420 387.2ZM420.2 390.2L423 391.7L425.6 390.2L422.8 388.7Z"/>
<path fill="#b8ba6c" stroke="#b8ba6c" d="M275.9 391.6L278.6 393.2L287.5 388.7L284.8 387.1ZM284.6 390.2L287.3 391.8L293.2 388.7L290.4 387.1ZM296.2 384.1L299 385.7L301.9 384.2L299.1 382.6ZM304.9 379.7L307.6 381.2L313.3 378.3L310.6 376.7ZM290.2 390.2L293 391.8L318.9 378.4L316.1 376.8ZM298.8 388.8L301.6 390.4L318.8 381.4L316 379.8ZM301.6 390.4L304.3 391.9L321.5 382.9L318.8 381.4ZM304.3 391.9L307.1 393.5L324.2 384.5L321.5 382.9ZM310 392L312.7 393.6L327 386L324.2 384.5ZM309.8 395.1L312.6 396.7L326.9 389.1L324.2 387.5ZM312.6 396.7L315.4 398.3L329.7 390.7L326.9 389.1ZM312.5 399.9L315.3 401.5L318.2 399.9L315.4 398.3ZM378.7 364.5L381.4 366L384 364.6L381.3 363.1ZM312.4 403L315.2 404.6L318.1 403.1L315.3 401.5ZM378.8 367.4L381.5 368.9L386.7 366.1L384 364.6ZM312.2 406.2L315 407.8L318 406.2L315.2 404.6ZM378.9 370.3L381.6 371.8L389.4 367.6L386.7 366.1ZM376.3 374.7L379 376.2L392.2 369.1L389.4 367.6ZM362.9 385L365.7 386.5L371.1 383.6L368.3 382ZM373.7 379.1L376.5 380.6L394.9 370.6L392.2 369.1ZM360.2 389.5L363 391L373.9 385.1L371.1 383.6ZM376.5 380.6L379.2 382.2L397.6 372.1L394.9 370.6ZM360.3 392.6L363 394.1L371.2 389.6L368.5 388.1ZM379.2 382.2L382 383.7L400.4 373.6L397.6 372.1ZM363 394.1L365.8 395.7L371.3 392.7L368.5 391.1ZM382 383.7L384.8 385.2L403.1 375.1L400.4 373.6ZM365.9 398.8L368.7 400.4L371.4 398.9L368.6 397.3ZM384.9 388.3L387.7 389.8L395.6 385.4L392.8 383.8ZM368.7 400.4L371.5 402L403.6 384L400.9 382.4ZM395.8 388.4L398.6 389.9L406.4 385.5L403.6 384ZM401.2 388.4L404 390L409.2 387L406.4 385.5ZM406.6 388.5L409.4 390.1L412 388.6L409.2 387ZM409.4 390.1L412.2 391.6L414.8 390.1L412 388.6ZM412.2 391.6L415 393.1L420.2 390.2L417.4 388.6ZM417.6 391.7L420.4 393.2L423 391.7L420.2 390.2ZM420.4 393.2L423.2 394.8L428.4 391.8L425.6 390.2Z"/>
<path fill="#fbeb50" stroke="#fbeb50" d="M310.7 373.7L313.4 375.3L319.1 372.4L316.4 370.8ZM333 362.3L335.7 363.8L341.1 361L338.4 359.5ZM313.4 375.3L316.1 376.8L319 375.4L316.2 373.8ZM338.4 362.4L341.1 363.9L346.5 361.1L343.8 359.6ZM343.8 362.5L346.5 364L351.9 361.2L349.2 359.7ZM354.5 356.9L357.2 358.4L359.9 357L357.2 355.5ZM351.9 361.2L354.6 362.7L359.9 359.9L357.2 358.4ZM280.9 401.1L283.7 402.8L289.7 399.6L286.9 398ZM283.7 402.8L286.5 404.4L292.4 401.3L289.7 399.6ZM289.5 402.8L292.2 404.4L298.2 401.3L295.4 399.7ZM295.2 402.9L298 404.5L300.9 402.9L298.2 401.3ZM298 404.5L300.8 406.1L303.7 404.5L300.9 402.9ZM300.8 406.1L303.6 407.7L306.5 406.2L303.7 404.5ZM300.6 409.3L303.4 411L306.4 409.4L303.6 407.7ZM300.5 412.6L303.3 414.2L309.2 411L306.4 409.4ZM340.8 397L343.6 398.6L349.2 395.5L346.4 393.9ZM346.4 397.1L349.2 398.6L352 397.1L349.2 395.5ZM354.8 398.7L357.6 400.3L360.3 398.7L357.5 397.2Z"/>
<path fill="#f0e354" stroke="#f0e354" d="M316.4 370.8L319.1 372.4L335.7 363.8L333 362.3ZM316.2 373.8L319 375.4L324.6 372.4L321.8 370.9ZM327.4 368.1L330.1 369.6L341.1 363.9L338.4 362.4ZM316.1 376.8L318.9 378.4L321.7 376.9L319 375.4ZM335.6 366.7L338.3 368.2L346.5 364L343.8 362.5ZM281.2 398L283.9 399.6L289.8 396.5L287.1 394.9ZM316 379.8L318.8 381.4L321.6 379.9L318.9 378.4ZM343.8 365.4L346.5 366.9L354.6 362.7L351.9 361.2ZM357.2 358.4L359.9 359.9L362.6 358.5L359.9 357ZM286.9 398L289.7 399.6L292.6 398.1L289.8 396.5ZM351.9 364.1L354.6 365.6L362.6 361.4L359.9 359.9ZM289.7 399.6L292.4 401.3L295.4 399.7L292.6 398.1ZM295.4 399.7L298.2 401.3L301.1 399.7L298.3 398.1ZM298.2 401.3L300.9 402.9L303.9 401.4L301.1 399.7ZM300.9 402.9L303.7 404.5L306.7 403L303.9 401.4ZM303.6 407.7L306.4 409.4L309.3 407.8L306.5 406.2ZM340.8 393.9L343.6 395.5L346.4 393.9L343.6 392.4ZM346.4 393.9L349.2 395.5L351.9 394L349.2 392.4ZM349.2 395.5L352 397.1L354.7 395.6L351.9 394ZM352 397.1L354.8 398.7L357.5 397.2L354.7 395.6ZM363.1 400.3L365.9 401.9L368.7 400.4L365.9 398.8Z"/>
<path fill="#fadf4b" stroke="#fadf4b" d="M338.4 359.5L341.1 361L346.5 358.2L343.8 356.7ZM343.8 359.6L346.5 361.1L351.9 358.3L349.2 356.8ZM349.2 359.7L351.9 361.2L357.2 358.4L354.5 356.9ZM286.5 404.4L289.3 406L292.2 404.4L289.5 402.8ZM292.2 404.4L295 406.1L298 404.5L295.2 402.9ZM292 407.6L294.8 409.3L300.8 406.1L298 404.5ZM294.8 409.3L297.6 410.9L303.6 407.7L300.8 406.1ZM335.1 400.1L337.9 401.7L343.6 398.6L340.8 397ZM340.7 400.1L343.5 401.7L349.2 398.6L346.4 397.1ZM349.2 398.6L352 400.2L354.8 398.7L352 397.1ZM352 400.2L354.8 401.8L357.6 400.3L354.8 398.7ZM357.6 400.3L360.4 401.9L363.1 400.3L360.3 398.7ZM360.4 401.9L363.2 403.5L365.9 401.9L363.1 400.3ZM365.9 401.9L368.8 403.5L371.5 402L368.7 400.4Z"/>
<path fill="#f9d346" stroke="#f9d346" d="M343.8 356.7L346.5 358.2L351.9 355.4L349.2 354ZM349.2 356.8L351.9 358.3L357.2 355.5L354.5 354.1ZM332.3 401.6L335.1 403.2L337.9 401.7L335.1 400.1ZM335.1 403.2L337.9 404.8L343.5 401.7L340.7 400.1ZM343.5 401.7L346.3 403.3L352 400.2L349.2 398.6ZM349.2 401.8L352 403.4L354.8 401.8L352 400.2ZM354.8 401.8L357.6 403.4L360.4 401.9L357.6 400.3ZM363.2 403.5L366 405.1L368.8 403.5L365.9 401.9ZM368.8 403.5L371.6 405.1L374.3 403.6L371.5 402ZM405 408.5L407.9 410.1L413.2 407L410.4 405.4Z"/>
<path fill="#f9c642" stroke="#f9c642" d="M349.2 354L351.9 355.4L354.5 354.1L351.8 352.6ZM329.4 403.2L332.2 404.8L335.1 403.2L332.3 401.6ZM340.7 403.3L343.5 404.9L346.3 403.3L343.5 401.7ZM346.3 403.3L349.2 404.9L352 403.4L349.2 401.8ZM357.6 403.4L360.4 405L363.2 403.5L360.4 401.9ZM402.4 410.1L405.2 411.7L407.9 410.1L405 408.5Z"/>
<path fill="#c6c464" stroke="#c6c464" d="M275.6 394.8L278.4 396.4L281.4 394.8L278.6 393.2ZM287.3 391.8L290 393.4L293 391.8L290.2 390.2ZM290 393.4L292.8 394.9L301.6 390.4L298.8 388.8ZM298.7 391.9L301.4 393.5L304.3 391.9L301.6 390.4ZM301.4 393.5L304.2 395.1L307.1 393.5L304.3 391.9ZM367.9 358.6L370.6 360.1L373.2 358.7L370.5 357.2ZM304.2 395.1L306.9 396.7L312.7 393.6L310 392ZM367.9 361.4L370.6 362.9L375.9 360.1L373.2 358.7ZM306.9 396.7L309.7 398.3L312.6 396.7L309.8 395.1ZM368 364.3L370.7 365.8L378.6 361.6L375.9 360.1ZM309.7 398.3L312.5 399.9L315.4 398.3L312.6 396.7ZM368 367.2L370.8 368.7L381.3 363.1L378.6 361.6ZM309.6 401.4L312.4 403L315.3 401.5L312.5 399.9ZM362.8 373L365.5 374.5L381.4 366L378.7 364.5ZM309.4 404.6L312.2 406.2L315.2 404.6L312.4 403ZM357.4 378.9L360.1 380.4L381.5 368.9L378.8 367.4ZM309.3 407.8L312.1 409.4L315 407.8L312.2 406.2ZM357.4 381.9L360.2 383.4L381.6 371.8L378.9 370.3ZM357.4 384.9L360.2 386.4L379 376.2L376.3 374.7ZM357.5 387.9L360.2 389.5L365.7 386.5L362.9 385ZM368.3 382L371.1 383.6L376.5 380.6L373.7 379.1ZM357.5 391L360.3 392.6L363 391L360.2 389.5ZM371.1 383.6L373.9 385.1L379.2 382.2L376.5 380.6ZM368.5 388.1L371.2 389.6L382 383.7L379.2 382.2ZM360.3 395.6L363.1 397.2L365.8 395.7L363 394.1ZM368.5 391.1L371.3 392.7L384.8 385.2L382 383.7ZM371.5 402L374.3 403.6L398.6 389.9L395.8 388.4ZM385.2 397.4L388 399L404 390L401.2 388.4ZM398.7 393L401.5 394.5L409.4 390.1L406.6 388.5ZM404.2 393L407 394.6L412.2 391.6L409.4 390.1ZM409.6 393.1L412.4 394.6L415 393.1L412.2 391.6ZM415 393.1L417.8 394.7L420.4 393.2L417.6 391.7ZM423.2 394.8L426.1 396.3L428.7 394.8L425.8 393.3Z"/>
<path fill="#d1cc60" stroke="#d1cc60" d="M278.6 393.2L281.4 394.8L287.3 391.8L284.6 390.2ZM275.4 397.9L278.2 399.5L281.2 398L278.4 396.4ZM292.8 394.9L295.6 396.5L301.4 393.5L298.7 391.9ZM298.5 395L301.2 396.6L304.2 395.1L301.4 393.5ZM327.1 380L329.9 381.5L335.4 378.6L332.7 377ZM365.2 360L367.9 361.4L370.6 360.1L367.9 358.6ZM301.2 396.6L304 398.2L306.9 396.7L304.2 395.1ZM327.1 383L329.8 384.6L343.7 377.2L341 375.7ZM346.5 372.8L349.2 374.3L354.6 371.4L351.9 369.9ZM362.6 364.2L365.3 365.7L370.6 362.9L367.9 361.4ZM304 398.2L306.8 399.8L309.7 398.3L306.9 396.7ZM332.6 383.1L335.3 384.6L370.7 365.8L368 364.3ZM306.8 399.8L309.6 401.4L312.5 399.9L309.7 398.3ZM338.1 383.1L340.9 384.7L370.8 368.7L368 367.2ZM306.7 403L309.4 404.6L312.4 403L309.6 401.4ZM343.7 383.2L346.4 384.8L365.5 374.5L362.8 373ZM346.4 384.8L349.2 386.3L360.1 380.4L357.4 378.9ZM351.9 384.8L354.7 386.4L360.2 383.4L357.4 381.9ZM351.9 387.9L354.7 389.4L360.2 386.4L357.4 384.9ZM354.7 389.4L357.5 391L360.2 389.5L357.5 387.9ZM357.5 394.1L360.3 395.6L363 394.1L360.3 392.6ZM363.1 397.2L365.9 398.8L368.6 397.3L365.8 395.7ZM374.3 403.6L377.2 405.2L388 399L385.2 397.4ZM377.2 405.2L380 406.8L382.7 405.2L379.9 403.6ZM382.6 402.1L385.4 403.7L401.5 394.5L398.7 393ZM393.5 399.1L396.4 400.6L407 394.6L404.2 393ZM401.7 397.6L404.5 399.2L412.4 394.6L409.6 393.1ZM409.8 396.1L412.6 397.7L417.8 394.7L415 393.1ZM415.2 396.2L418.1 397.8L423.2 394.8L420.4 393.2ZM420.7 396.3L423.5 397.8L426.1 396.3L423.2 394.8ZM423.5 397.8L426.3 399.4L428.9 397.9L426.1 396.3Z"/>
<path fill="#e6db58" stroke="#e6db58" d="M321.8 370.9L324.6 372.4L330.1 369.6L327.4 368.1ZM281.4 394.8L284.1 396.4L287.1 394.9L284.3 393.3ZM319 375.4L321.7 376.9L338.3 368.2L335.6 366.7ZM278.2 399.5L280.9 401.1L283.9 399.6L281.2 398ZM318.9 378.4L321.6 379.9L327.2 377L324.5 375.4ZM330 372.5L332.8 374.1L346.5 366.9L343.8 365.4ZM289.8 396.5L292.6 398.1L295.6 396.5L292.8 394.9ZM318.8 381.4L321.5 382.9L327.1 380L324.4 378.4ZM341 369.7L343.7 371.3L354.6 365.6L351.9 364.1ZM359.9 359.9L362.6 361.4L365.2 360L362.6 358.5ZM292.6 398.1L295.4 399.7L298.3 398.1L295.6 396.5ZM321.5 382.9L324.2 384.5L327.1 383L324.3 381.4ZM354.6 365.6L357.3 367.1L362.6 364.2L359.9 362.7ZM303.7 404.5L306.5 406.2L309.4 404.6L306.7 403ZM332.5 389.2L335.3 390.7L338.1 389.2L335.3 387.7ZM335.3 390.7L338 392.3L340.8 390.8L338.1 389.2ZM306.4 409.4L309.2 411L312.1 409.4L309.3 407.8ZM338 392.3L340.8 393.9L346.4 390.9L343.6 389.3ZM343.6 392.4L346.4 393.9L351.9 390.9L349.2 389.4ZM349.2 392.4L351.9 394L354.7 392.5L351.9 390.9ZM351.9 394L354.7 395.6L357.5 394.1L354.7 392.5ZM354.7 395.6L357.5 397.2L360.3 395.6L357.5 394.1ZM357.5 397.2L360.3 398.7L363.1 397.2L360.3 395.6ZM360.3 398.7L363.1 400.3L365.9 398.8L363.1 397.2ZM385.7 410L388.5 411.6L396.7 406.9L393.8 405.3ZM388.5 411.6L391.4 413.2L410.2 402.3L407.3 400.7ZM391.4 413.2L394.2 414.8L415.6 402.4L412.8 400.8ZM410.4 405.4L413.2 407L421.1 402.4L418.3 400.8Z"/>
<path fill="#dbd45c" stroke="#dbd45c" d="M278.4 396.4L281.2 398L284.1 396.4L281.4 394.8ZM284.3 393.3L287.1 394.9L290 393.4L287.3 391.8ZM287.1 394.9L289.8 396.5L292.8 394.9L290 393.4ZM324.5 375.4L327.2 377L332.8 374.1L330 372.5ZM324.4 378.4L327.1 380L343.7 371.3L341 369.7ZM295.6 396.5L298.3 398.1L301.2 396.6L298.5 395ZM324.3 381.4L327.1 383L329.9 381.5L327.1 380ZM332.7 377L335.4 378.6L357.3 367.1L354.6 365.6ZM359.9 362.7L362.6 364.2L367.9 361.4L365.2 360ZM298.3 398.1L301.1 399.7L304 398.2L301.2 396.6ZM324.2 384.5L327 386L329.8 384.6L327.1 383ZM341 375.7L343.7 377.2L349.2 374.3L346.5 372.8ZM351.9 369.9L354.6 371.4L365.3 365.7L362.6 364.2ZM301.1 399.7L303.9 401.4L306.8 399.8L304 398.2ZM327 386L329.7 387.6L335.3 384.6L332.6 383.1ZM303.9 401.4L306.7 403L309.6 401.4L306.8 399.8ZM329.7 387.6L332.5 389.2L340.9 384.7L338.1 383.1ZM335.3 387.7L338.1 389.2L346.4 384.8L343.7 383.2ZM306.5 406.2L309.3 407.8L312.2 406.2L309.4 404.6ZM338.1 389.2L340.8 390.8L349.2 386.3L346.4 384.8ZM343.6 389.3L346.4 390.9L354.7 386.4L351.9 384.8ZM349.2 389.4L351.9 390.9L354.7 389.4L351.9 387.9ZM351.9 390.9L354.7 392.5L357.5 391L354.7 389.4ZM354.7 392.5L357.5 394.1L360.3 392.6L357.5 391ZM379.9 403.6L382.7 405.2L385.4 403.7L382.6 402.1ZM380 406.8L382.8 408.4L396.4 400.6L393.5 399.1ZM382.8 408.4L385.7 410L404.5 399.2L401.7 397.6ZM393.8 405.3L396.7 406.9L412.6 397.7L409.8 396.1ZM407.3 400.7L410.2 402.3L418.1 397.8L415.2 396.2ZM412.8 400.8L415.6 402.4L423.5 397.8L420.7 396.3ZM418.3 400.8L421.1 402.4L426.3 399.4L423.5 397.8Z"/>
<path fill="#ea2804" stroke="#ea2804" d="M309 414.2L311.9 415.9L314.8 414.3L312 412.6ZM311.9 415.9L314.7 417.5L326.4 411.1L323.6 409.5ZM314.7 417.5L317.5 419.2L329.2 412.8L326.4 411.1ZM317.5 419.2L320.4 420.8L334.9 412.8L332.1 411.2ZM320.4 420.8L323.2 422.5L340.6 412.8L337.8 411.2ZM323.2 422.5L326.1 424.2L346.3 412.9L343.5 411.2ZM326.1 424.2L328.9 425.8L349.2 414.5L346.3 412.9ZM328.9 425.8L331.8 427.5L354.8 414.5L352 412.9ZM331.8 427.5L334.7 429.2L360.5 414.6L357.7 412.9ZM331.7 430.8L334.6 432.5L366.2 414.6L363.3 413ZM334.6 432.5L337.5 434.2L371.8 414.7L368.9 413ZM337.5 434.2L340.4 435.9L377.4 414.7L374.6 413.1ZM340.4 435.9L343.3 437.6L383 414.7L380.2 413.1ZM343.3 437.6L346.2 439.3L388.7 414.8L385.8 413.1ZM346.2 439.3L349.1 441L394.2 414.8L391.4 413.2ZM352.1 439.3L355 441L369.3 432.6L366.4 431Z"/>
<path fill="#f7ae38" stroke="#f7ae38" d="M326.5 404.7L329.3 406.3L332.2 404.8L329.4 403.2ZM329.3 406.3L332.2 408L335 406.4L332.2 404.8ZM340.7 406.4L343.5 408L346.3 406.5L343.5 404.9ZM349.2 404.9L352 406.5L354.8 405L352 403.4ZM354.8 405L357.6 406.6L360.4 405L357.6 403.4ZM363.2 406.6L366 408.2L368.8 406.7L366 405.1ZM368.8 406.7L371.7 408.3L374.4 406.7L371.6 405.1ZM374.4 406.7L377.2 408.3L380 406.8L377.2 405.2ZM377.2 408.3L380.1 409.9L382.8 408.4L380 406.8ZM380.1 409.9L382.9 411.5L385.7 410L382.8 408.4ZM394.2 414.8L397.1 416.4L402.5 413.3L399.7 411.7Z"/>
<path fill="#ef5d17" stroke="#ef5d17" d="M308.9 417.5L311.7 419.1L314.7 417.5L311.9 415.9ZM377.7 424.4L380.6 426.1L383.4 424.4L380.5 422.8Z"/>
<path fill="#f38527" stroke="#f38527" d="M323.6 409.5L326.4 411.1L329.3 409.5L326.5 407.9ZM326.4 411.1L329.2 412.8L332.1 411.2L329.3 409.5ZM332.1 411.2L334.9 412.8L337.8 411.2L335 409.6ZM337.8 411.2L340.6 412.8L343.5 411.2L340.7 409.6ZM346.3 409.7L349.2 411.3L352 409.7L349.2 408.1ZM352 409.7L354.8 411.3L357.6 409.8L354.8 408.1ZM357.6 409.8L360.5 411.4L363.3 409.8L360.4 408.2ZM363.3 409.8L366.1 411.4L368.9 409.8L366 408.2ZM368.9 409.8L371.7 411.4L374.5 409.9L371.7 408.3ZM371.7 411.4L374.6 413.1L377.3 411.5L374.5 409.9ZM374.6 413.1L377.4 414.7L380.2 413.1L377.3 411.5ZM386 419.6L388.9 421.2L391.7 419.6L388.8 418Z"/>
<path fill="#f4932d" stroke="#f4932d" d="M326.5 407.9L329.3 409.5L332.2 408L329.3 406.3ZM329.3 409.5L332.1 411.2L335 409.6L332.2 408ZM335 409.6L337.8 411.2L340.7 409.6L337.8 408ZM340.7 409.6L343.5 411.2L349.2 408.1L346.3 406.5ZM349.2 408.1L352 409.7L354.8 408.1L352 406.5ZM354.8 408.1L357.6 409.8L360.4 408.2L357.6 406.6ZM366 408.2L368.9 409.8L371.7 408.3L368.8 406.7ZM377.3 411.5L380.2 413.1L382.9 411.5L380.1 409.9ZM380.2 413.1L383 414.7L385.8 413.1L382.9 411.5ZM388.8 418L391.7 419.6L394.4 418L391.5 416.4Z"/>
<path fill="#f8ba3d" stroke="#f8ba3d" d="M332.2 404.8L335 406.4L337.9 404.8L335.1 403.2ZM335 406.4L337.8 408L343.5 404.9L340.7 403.3ZM343.5 404.9L346.3 406.5L349.2 404.9L346.3 403.3ZM352 403.4L354.8 405L357.6 403.4L354.8 401.8ZM360.4 405L363.2 406.6L366 405.1L363.2 403.5ZM366 405.1L368.8 406.7L371.6 405.1L368.8 403.5ZM371.6 405.1L374.4 406.7L377.2 405.2L374.3 403.6ZM399.7 411.7L402.5 413.3L405.2 411.7L402.4 410.1Z"/>
<path fill="#ee5012" stroke="#ee5012" d="M311.7 419.1L314.6 420.8L317.5 419.2L314.7 417.5ZM314.6 420.8L317.4 422.5L320.4 420.8L317.5 419.2ZM374.9 426L377.8 427.7L380.6 426.1L377.7 424.4Z"/>
<path fill="#f6a032" stroke="#f6a032" d="M332.2 408L335 409.6L337.8 408L335 406.4ZM337.8 408L340.7 409.6L343.5 408L340.7 406.4ZM346.3 406.5L349.2 408.1L352 406.5L349.2 404.9ZM352 406.5L354.8 408.1L357.6 406.6L354.8 405ZM357.6 406.6L360.4 408.2L363.2 406.6L360.4 405ZM360.4 408.2L363.3 409.8L366 408.2L363.2 406.6ZM371.7 408.3L374.5 409.9L377.2 408.3L374.4 406.7ZM374.5 409.9L377.3 411.5L380.1 409.9L377.2 408.3ZM382.9 411.5L385.8 413.1L388.5 411.6L385.7 410ZM385.8 413.1L388.7 414.8L391.4 413.2L388.5 411.6ZM391.5 416.4L394.4 418L397.1 416.4L394.2 414.8Z"/>
<path fill="#f17822" stroke="#f17822" d="M343.5 411.2L346.3 412.9L349.2 411.3L346.3 409.7ZM349.2 411.3L352 412.9L354.8 411.3L352 409.7ZM354.8 411.3L357.7 412.9L360.5 411.4L357.6 409.8ZM357.7 412.9L360.5 414.6L366.1 411.4L363.3 409.8ZM366.1 411.4L368.9 413L371.7 411.4L368.9 409.8ZM383.3 421.2L386.1 422.8L388.9 421.2L386 419.6Z"/>
<path fill="#f06a1c" stroke="#f06a1c" d="M346.3 412.9L349.2 414.5L352 412.9L349.2 411.3ZM352 412.9L354.8 414.5L357.7 412.9L354.8 411.3ZM363.3 413L366.2 414.6L368.9 413L366.1 411.4ZM368.9 413L371.8 414.7L374.6 413.1L371.7 411.4ZM380.5 422.8L383.4 424.4L386.1 422.8L383.3 421.2Z"/>
<path fill="#eb3509" stroke="#eb3509" d="M326 427.5L328.9 429.2L331.8 427.5L328.9 425.8ZM328.9 429.2L331.7 430.8L334.7 429.2L331.8 427.5ZM366.4 431L369.3 432.6L375 429.3L372.1 427.7Z"/>
<path fill="#ec420e" stroke="#ec420e" d="M372.1 427.7L375 429.3L377.8 427.7L374.9 426Z"/>
<polygon fill="#dfd75a" points="428.1,398.4 423,394.2 394.4,411.9 392.9,417"/>
</g>
<clipPath id="h6"><polygon points="489.9,393 502.9,385.7 507.9,388 569.1,352.6 584.2,361.4 586.7,358.6 643.6,391 640.5,394.1 643.8,397.1 569.3,439"/></clipPath>
<g clip-path="url(#h6)" stroke-width="0.8" stroke-linejoin="round">
<path fill="#8e9d86" stroke="#8e9d86" d="M484.1 393L486.9 394.6L489.9 393L487.2 391.4ZM493.1 388.4L495.9 390L504.7 385.5L502 383.9ZM486.9 394.6L489.6 396.2L498.6 391.6L495.9 390ZM546.9 390.5L549.6 392.1L552.5 390.6L549.7 389ZM546.8 393.6L549.6 395.2L555.2 392.2L552.5 390.6ZM535.2 402.9L538 404.5L540.9 402.9L538.1 401.3ZM541 399.8L543.8 401.4L546.7 399.9L543.9 398.3ZM546.7 396.7L549.5 398.3L552.4 396.8L549.6 395.2ZM552.4 393.7L555.2 395.3L558 393.7L555.2 392.2ZM520.4 414L523.2 415.6L526.2 414L523.3 412.4ZM526.3 410.8L529.1 412.4L546.6 403L543.8 401.4ZM546.7 399.9L549.5 401.4L552.3 399.9L549.5 398.3ZM552.4 396.8L555.2 398.4L558 396.8L555.2 395.3ZM526.2 414L529 415.7L531.9 414.1L529.1 412.4ZM532.1 410.8L534.9 412.5L537.8 410.9L535 409.3ZM537.9 407.7L540.7 409.3L543.6 407.7L540.8 406.1Z"/>
<path fill="#80938e" stroke="#80938e" d="M487.2 391.4L489.9 393L495.9 390L493.1 388.4ZM538.1 401.3L540.9 402.9L543.8 401.4L541 399.8ZM543.9 398.3L546.7 399.9L549.5 398.3L546.7 396.7ZM549.6 395.2L552.4 396.8L555.2 395.3L552.4 393.7ZM523.3 412.4L526.2 414L529.1 412.4L526.3 410.8ZM543.8 401.4L546.6 403L549.5 401.4L546.7 399.9ZM549.5 398.3L552.3 399.9L555.2 398.4L552.4 396.8ZM555.2 395.3L558 396.8L560.8 395.3L558 393.7ZM523.2 415.6L526 417.3L529 415.7L526.2 414ZM529.1 412.4L531.9 414.1L534.9 412.5L532.1 410.8ZM535 409.3L537.8 410.9L540.7 409.3L537.9 407.7Z"/>
<path fill="#9ca77d" stroke="#9ca77d" d="M495.9 390L498.6 391.6L507.5 387L504.7 385.5ZM492.7 394.6L495.4 396.2L498.4 394.7L495.6 393.1ZM504.5 388.5L507.3 390.1L519 384.1L516.2 382.5ZM538.6 385.9L541.3 387.4L544.2 385.9L541.4 384.4ZM541.3 387.4L544.1 389L546.9 387.5L544.2 385.9ZM541.2 390.5L544 392.1L549.7 389L546.9 387.5ZM541.2 393.6L543.9 395.1L549.6 392.1L546.9 390.5ZM529.5 402.8L532.3 404.5L535.2 402.9L532.4 401.3ZM543.9 395.1L546.7 396.7L549.6 395.2L546.8 393.6ZM529.4 406L532.2 407.6L538 404.5L535.2 402.9Z"/>
<path fill="#aab075" stroke="#aab075" d="M522.1 376.6L524.9 378.1L530.6 375.2L527.8 373.7ZM495.6 393.1L498.4 394.7L507.3 390.1L504.5 388.5ZM516.2 382.5L519 384.1L533.3 376.7L530.6 375.2ZM492.4 397.8L495.2 399.4L498.2 397.8L495.4 396.2ZM507.3 390.1L510 391.7L536 378.3L533.3 376.7ZM513 390.2L515.7 391.7L535.9 381.3L533.2 379.7ZM515.7 391.7L518.5 393.3L538.7 382.8L535.9 381.3ZM518.5 393.3L521.3 394.9L541.4 384.4L538.7 382.8ZM521.3 394.9L524 396.5L541.3 387.4L538.6 385.9ZM524 396.5L526.8 398.1L544.1 389L541.3 387.4ZM526.8 398.1L529.6 399.7L544 392.1L541.2 390.5ZM526.7 401.2L529.5 402.8L543.9 395.1L541.2 393.6ZM526.6 404.4L529.4 406L532.3 404.5L529.5 402.8ZM532.4 401.3L535.2 402.9L546.7 396.7L543.9 395.1ZM526.4 407.6L529.2 409.2L532.2 407.6L529.4 406Z"/>
<path fill="#c6c464" stroke="#c6c464" d="M527.8 373.7L530.6 375.2L541.8 369.4L539.1 367.9ZM530.6 375.2L533.3 376.7L541.7 372.4L539 370.9ZM533.3 376.7L536 378.3L541.6 375.3L538.9 373.8ZM495.2 399.4L498 401L503.9 397.9L501.2 396.3ZM504.1 394.7L506.9 396.3L509.9 394.8L507.1 393.2ZM506.9 396.3L509.7 397.9L515.6 394.9L512.8 393.3ZM509.7 397.9L512.5 399.5L518.3 396.4L515.6 394.9ZM515.4 398L518.2 399.6L521.1 398L518.3 396.4ZM518.2 399.6L521 401.2L523.9 399.6L521.1 398ZM521 401.2L523.8 402.8L526.7 401.2L523.9 399.6ZM520.8 404.4L523.6 406L526.6 404.4L523.8 402.8ZM523.5 409.2L526.3 410.8L529.2 409.2L526.4 407.6Z"/>
<path fill="#d1cc60" stroke="#d1cc60" d="M539.1 367.9L541.8 369.4L544.6 368L541.9 366.5ZM539 370.9L541.7 372.4L547.3 369.5L544.6 368ZM538.9 373.8L541.6 375.3L547.2 372.5L544.5 370.9ZM501.2 396.3L503.9 397.9L506.9 396.3L504.1 394.7ZM533.2 379.7L535.9 381.3L550 374L547.2 372.5ZM498 401L500.7 402.6L509.7 397.9L506.9 396.3ZM535.9 381.3L538.7 382.8L552.7 375.5L550 374ZM500.7 402.6L503.5 404.2L512.5 399.5L509.7 397.9ZM538.7 382.8L541.4 384.4L552.6 378.5L549.9 377ZM509.5 401.1L512.3 402.7L518.2 399.6L515.4 398ZM541.4 384.4L544.2 385.9L552.6 381.5L549.8 379.9ZM515.2 401.1L518 402.7L521 401.2L518.2 399.6ZM515.1 404.3L517.9 405.9L523.8 402.8L521 401.2ZM517.9 405.9L520.7 407.5L523.6 406L520.8 404.4ZM520.7 407.5L523.5 409.2L526.4 407.6L523.6 406ZM520.5 410.8L523.3 412.4L526.3 410.8L523.5 409.2Z"/>
<path fill="#dbd45c" stroke="#dbd45c" d="M541.9 366.5L544.6 368L550.1 365.2L547.4 363.7ZM544.6 368L547.3 369.5L552.8 366.7L550.1 365.2ZM544.5 370.9L547.2 372.5L552.8 369.6L550.1 368.1ZM547.2 372.5L550 374L555.5 371.1L552.8 369.6ZM550 374L552.7 375.5L558.2 372.6L555.5 371.1ZM549.9 377L552.6 378.5L560.9 374.1L558.2 372.6ZM503.5 404.2L506.3 405.8L512.3 402.7L509.5 401.1ZM549.8 379.9L552.6 381.5L560.9 377.1L558.2 375.6ZM509.3 404.3L512.1 405.9L518 402.7L515.2 401.1ZM544.2 385.9L546.9 387.5L558.1 381.6L555.4 380ZM509.1 407.5L511.9 409.1L517.9 405.9L515.1 404.3ZM511.9 409.1L514.7 410.7L520.7 407.5L517.9 405.9ZM517.7 409.1L520.5 410.8L523.5 409.2L520.7 407.5ZM517.5 412.3L520.4 414L523.3 412.4L520.5 410.8Z"/>
<path fill="#e6db58" stroke="#e6db58" d="M547.4 363.7L550.1 365.2L552.9 363.8L550.2 362.3ZM550.1 365.2L552.8 366.7L555.6 365.3L552.9 363.8ZM550.1 368.1L552.8 369.6L558.3 366.8L555.6 365.3ZM552.8 369.6L555.5 371.1L563.7 366.8L561 365.3ZM555.5 371.1L558.2 372.6L566.4 368.3L563.7 366.8ZM558.2 372.6L560.9 374.1L571.9 368.4L569.1 366.9ZM558.2 375.6L560.9 377.1L574.6 369.9L571.9 368.4ZM555.4 380L558.1 381.6L577.3 371.4L574.6 369.9ZM546.9 387.5L549.7 389L577.3 374.4L574.6 372.9ZM549.7 389L552.5 390.6L577.4 377.3L574.6 375.8ZM540.8 406.1L543.6 407.7L546.5 406.2L543.7 404.5Z"/>
<path fill="#f0e354" stroke="#f0e354" d="M550.2 362.3L552.9 363.8L558.3 361L555.6 359.5ZM552.9 363.8L555.6 365.3L558.3 363.8L555.6 362.4ZM555.6 365.3L558.3 366.8L563.7 363.9L561 362.4ZM561 365.3L563.7 366.8L566.4 365.4L563.7 363.9ZM563.7 366.8L566.4 368.3L571.8 365.5L569.1 364ZM569.1 366.9L571.9 368.4L574.6 367L571.8 365.5ZM571.9 368.4L574.6 369.9L580 367.1L577.2 365.6ZM574.6 369.9L577.3 371.4L580 370L577.3 368.5ZM574.6 372.9L577.3 374.4L582.7 371.5L580 370ZM574.6 375.8L577.4 377.3L582.8 374.4L580 372.9ZM552.5 390.6L555.2 392.2L585.5 376L582.8 374.4ZM555.2 392.2L558 393.7L582.9 380.4L580.1 378.9Z"/>
<path fill="#fbeb50" stroke="#fbeb50" d="M555.6 359.5L558.3 361L561 359.6L558.4 358.1ZM555.6 362.4L558.3 363.8L563.7 361.1L561 359.6ZM561 362.4L563.7 363.9L566.4 362.5L563.7 361.1ZM563.7 363.9L566.4 365.4L571.8 362.6L569.1 361.1ZM569.1 364L571.8 365.5L574.5 364.1L571.8 362.6ZM571.8 365.5L574.6 367L579.9 364.2L577.2 362.7ZM577.2 365.6L580 367.1L582.6 365.7L579.9 364.2ZM577.3 368.5L580 370L585.4 367.2L582.6 365.7ZM580 370L582.7 371.5L588.1 368.7L585.4 367.2ZM580 372.9L582.8 374.4L590.8 370.2L588.1 368.7ZM582.8 374.4L585.5 376L590.9 373.1L588.2 371.6ZM580.1 378.9L582.9 380.4L591 376L588.2 374.5ZM558 393.7L560.8 395.3L591 379L588.3 377.5ZM560.8 395.3L563.6 396.9L588.4 383.4L585.7 381.9ZM566.4 395.4L569.2 397L583 389.4L580.3 387.9Z"/>
<path fill="#fadf4b" stroke="#fadf4b" d="M558.4 358.1L561 359.6L563.7 358.2L561.1 356.7ZM561 359.6L563.7 361.1L566.4 359.7L563.7 358.2ZM563.7 361.1L566.4 362.5L569.1 361.1L566.4 359.7ZM569.1 361.1L571.8 362.6L574.5 361.2L571.8 359.8ZM571.8 362.6L574.5 364.1L579.9 361.3L577.2 359.8ZM577.2 362.7L579.9 364.2L585.2 361.4L582.5 359.9ZM579.9 364.2L582.6 365.7L588 362.9L585.2 361.4ZM582.6 365.7L585.4 367.2L593.3 363L590.6 361.5ZM585.4 367.2L588.1 368.7L596 364.5L593.3 363ZM588.1 368.7L590.8 370.2L598.7 365.9L596 364.5ZM588.2 371.6L590.9 373.1L598.8 368.8L596.1 367.3ZM588.2 374.5L591 376L598.9 371.8L596.2 370.3ZM588.3 377.5L591 379L599 374.7L596.3 373.2ZM552.3 399.9L555.1 401.5L563.6 396.9L560.8 395.3ZM585.7 381.9L588.4 383.4L596.5 379.1L593.7 377.6ZM558 400L560.8 401.5L569.2 397L566.4 395.4ZM580.3 387.9L583 389.4L593.9 383.5L591.1 382ZM563.6 400L566.4 401.6L588.6 389.5L585.8 387.9ZM569.2 400.1L572 401.6L583.1 395.5L580.3 394Z"/>
<path fill="#f9d346" stroke="#f9d346" d="M561.1 356.7L563.7 358.2L566.4 356.8L563.8 355.3ZM563.7 358.2L566.4 359.7L569.1 358.3L566.4 356.8ZM566.4 359.7L569.1 361.1L577.2 357L574.5 355.5ZM571.8 359.8L574.5 361.2L579.8 358.5L577.2 357ZM577.2 359.8L579.9 361.3L582.5 359.9L579.8 358.5ZM582.5 359.9L585.2 361.4L590.5 358.6L587.8 357.2ZM585.2 361.4L588 362.9L593.2 360.1L590.5 358.6ZM590.6 361.5L593.3 363L595.9 361.6L593.2 360.1ZM593.3 363L596 364.5L598.7 363.1L595.9 361.6ZM596 364.5L598.7 365.9L601.4 364.5L598.7 363.1ZM596.1 367.3L598.8 368.8L604.1 366L601.4 364.5ZM596.2 370.3L598.9 371.8L606.8 367.5L604.1 366ZM596.3 373.2L599 374.7L604.3 371.8L601.6 370.3ZM549.5 401.4L552.3 403L555.1 401.5L552.3 399.9ZM593.7 377.6L596.5 379.1L601.8 376.2L599 374.7ZM552.3 403L555.1 404.6L560.8 401.5L558 400ZM591.1 382L593.9 383.5L601.9 379.1L599.1 377.6ZM560.8 401.5L563.6 403.1L566.4 401.6L563.6 400ZM585.8 387.9L588.6 389.5L599.4 383.6L596.6 382.1ZM566.4 401.6L569.2 403.2L572 401.6L569.2 400.1ZM580.3 394L583.1 395.5L594.1 389.5L591.3 388ZM572 401.6L574.9 403.2L586 397.1L583.1 395.5Z"/>
<path fill="#f9c642" stroke="#f9c642" d="M563.8 355.3L566.4 356.8L569.1 355.4L566.4 354ZM566.4 356.8L569.1 358.3L574.5 355.5L571.8 354.1ZM601.6 370.3L604.3 371.8L609.6 369L606.8 367.5ZM546.6 403L549.4 404.6L552.3 403L549.5 401.4ZM599 374.7L601.8 376.2L609.7 371.9L607 370.4ZM549.4 404.6L552.2 406.2L555.1 404.6L552.3 403ZM599.1 377.6L601.9 379.1L607.2 376.3L604.4 374.8ZM555.1 404.6L557.9 406.2L563.6 403.1L560.8 401.5ZM596.6 382.1L599.4 383.6L604.7 380.7L601.9 379.1ZM560.8 404.7L563.6 406.3L569.2 403.2L566.4 401.6ZM591.3 388L594.1 389.5L602.1 385.1L599.4 383.6ZM566.4 404.7L569.2 406.3L574.9 403.2L572 401.6ZM574.9 403.2L577.7 404.8L586 400.2L583.2 398.6Z"/>
<path fill="#f8ba3d" stroke="#f8ba3d" d="M566.4 354L569.1 355.4L571.8 354.1L569.1 352.6ZM543.7 404.5L546.5 406.2L549.4 404.6L546.6 403ZM607 370.4L609.7 371.9L612.3 370.5L609.6 369ZM604.4 374.8L607.2 376.3L612.4 373.4L609.7 371.9ZM552.2 406.2L555 407.8L557.9 406.2L555.1 404.6ZM601.9 379.1L604.7 380.7L607.3 379.2L604.6 377.7ZM557.9 406.2L560.7 407.9L563.6 406.3L560.8 404.7ZM599.4 383.6L602.1 385.1L607.5 382.2L604.7 380.7ZM563.6 406.3L566.4 407.9L569.2 406.3L566.4 404.7ZM569.2 406.3L572.1 407.9L577.7 404.8L574.9 403.2ZM577.7 404.8L580.5 406.4L588.8 401.8L586 400.2Z"/>
<path fill="#b8ba6c" stroke="#b8ba6c" d="M495.4 396.2L498.2 397.8L510 391.7L507.3 390.1ZM507.1 393.2L509.9 394.8L515.7 391.7L513 390.2ZM512.8 393.3L515.6 394.9L518.5 393.3L515.7 391.7ZM515.6 394.9L518.3 396.4L521.3 394.9L518.5 393.3ZM518.3 396.4L521.1 398L524 396.5L521.3 394.9ZM521.1 398L523.9 399.6L526.8 398.1L524 396.5ZM523.9 399.6L526.7 401.2L529.6 399.7L526.8 398.1ZM523.8 402.8L526.6 404.4L529.5 402.8L526.7 401.2ZM523.6 406L526.4 407.6L529.4 406L526.6 404.4Z"/>
<path fill="#f4932d" stroke="#f4932d" d="M526 417.3L528.9 418.9L531.8 417.3L529 415.7ZM531.9 414.1L534.8 415.7L546.5 409.3L543.6 407.7ZM546.5 409.3L549.3 411L552.2 409.4L549.3 407.8ZM549.3 411L552.1 412.6L555 411L552.2 409.4ZM612.6 376.3L615.4 377.9L620.6 375L617.8 373.5ZM555 411L557.8 412.6L560.7 411L557.9 409.4ZM583.1 395.5L586 397.1L588.7 395.6L585.9 394ZM560.7 411L563.6 412.7L566.4 411.1L563.6 409.5ZM583.2 398.6L586 400.2L591.5 397.2L588.7 395.6ZM566.4 411.1L569.2 412.7L572.1 411.1L569.2 409.5ZM586 400.2L588.8 401.8L591.6 400.3L588.8 398.7ZM572.1 411.1L574.9 412.7L577.8 411.2L574.9 409.6ZM577.8 411.2L580.6 412.8L594.5 405L591.7 403.4Z"/>
<path fill="#ea2804" stroke="#ea2804" d="M529 415.7L531.8 417.3L534.8 415.7L531.9 414.1ZM531.8 417.3L534.7 419L540.6 415.7L537.7 414.1ZM534.7 419L537.5 420.6L546.3 415.8L543.5 414.1ZM537.5 420.6L540.4 422.3L549.2 417.4L546.3 415.8ZM540.4 422.3L543.3 423.9L552 419L549.2 417.4ZM543.3 423.9L546.1 425.6L557.8 419.1L554.9 417.4ZM620.9 380.9L623.7 382.4L626.3 381L623.5 379.4ZM546.1 425.6L549 427.2L560.7 420.7L557.8 419.1ZM613.2 388.3L616 389.8L629.1 382.5L626.3 381ZM549 427.2L551.9 428.9L566.4 420.8L563.5 419.1ZM602.6 397.3L605.4 398.9L631.9 384L629.1 382.5ZM551.9 428.9L554.8 430.6L572.1 420.8L569.3 419.1ZM597.2 403.4L600.1 405L634.7 385.5L631.9 384ZM554.8 430.6L557.7 432.3L577.9 420.8L575 419.2ZM600.1 405L602.9 406.6L637.5 387L634.7 385.5ZM557.7 432.3L560.6 433.9L583.6 420.8L580.7 419.2ZM602.9 406.6L605.8 408.2L640.3 388.6L637.5 387ZM557.6 435.6L560.5 437.3L592.1 419.3L589.2 417.6ZM605.8 408.2L608.6 409.8L643.1 390.1L640.3 388.6ZM560.5 437.3L563.5 439L597.7 419.3L594.9 417.7ZM608.6 409.8L611.5 411.4L645.9 391.6L643.1 390.1ZM563.5 439L566.4 440.7L608.9 416.2L606 414.5ZM625 403.7L627.8 405.3L646.2 394.7L643.3 393.1ZM569.3 439L572.2 440.7L597.9 425.8L595 424.2Z"/>
<path fill="#f6a032" stroke="#f6a032" d="M543.6 407.7L546.5 409.3L549.3 407.8L546.5 406.2ZM609.8 374.8L612.6 376.3L617.8 373.5L615.1 372ZM552.2 409.4L555 411L557.9 409.4L555 407.8ZM607.3 379.2L610.1 380.7L615.4 377.9L612.6 376.3ZM557.9 409.4L560.7 411L563.6 409.5L560.7 407.9ZM563.6 409.5L566.4 411.1L569.2 409.5L566.4 407.9ZM569.2 409.5L572.1 411.1L574.9 409.6L572.1 407.9ZM574.9 409.6L577.8 411.2L583.4 408L580.5 406.4ZM583.3 404.9L586.1 406.5L591.7 403.4L588.8 401.8Z"/>
<path fill="#f7ae38" stroke="#f7ae38" d="M546.5 406.2L549.3 407.8L552.2 406.2L549.4 404.6ZM609.7 371.9L612.4 373.4L615.1 372L612.3 370.5ZM549.3 407.8L552.2 409.4L555 407.8L552.2 406.2ZM604.6 377.7L607.3 379.2L612.6 376.3L609.8 374.8ZM555 407.8L557.9 409.4L560.7 407.9L557.9 406.2ZM604.7 380.7L607.5 382.2L610.1 380.7L607.3 379.2ZM560.7 407.9L563.6 409.5L566.4 407.9L563.6 406.3ZM566.4 407.9L569.2 409.5L572.1 407.9L569.2 406.3ZM572.1 407.9L574.9 409.6L580.5 406.4L577.7 404.8ZM580.5 406.4L583.4 408L586.1 406.5L583.3 404.9Z"/>
<path fill="#f38527" stroke="#f38527" d="M528.9 418.9L531.7 420.6L534.7 419L531.8 417.3ZM537.7 414.1L540.6 415.7L549.3 411L546.5 409.3ZM546.4 412.5L549.2 414.2L552.1 412.6L549.3 411ZM552.1 412.6L555 414.2L557.8 412.6L555 411ZM585.9 394L588.7 395.6L604.9 386.7L602.1 385.1ZM555 414.2L557.8 415.8L563.6 412.7L560.7 411ZM588.7 395.6L591.5 397.2L597 394.2L594.1 392.6ZM563.6 412.7L566.4 414.3L569.2 412.7L566.4 411.1ZM588.8 398.7L591.6 400.3L594.3 398.7L591.5 397.2ZM569.2 412.7L572.1 414.3L574.9 412.7L572.1 411.1ZM588.8 401.8L591.7 403.4L594.4 401.9L591.6 400.3ZM574.9 412.7L577.8 414.4L580.6 412.8L577.8 411.2ZM580.6 412.8L583.5 414.4L597.3 406.6L594.5 405ZM616.9 408.3L619.8 409.9L627.8 405.3L625 403.7ZM627.8 405.3L630.7 406.8L646.4 397.7L643.6 396.2Z"/>
<path fill="#f17822" stroke="#f17822" d="M531.7 420.6L534.6 422.2L537.5 420.6L534.7 419ZM543.5 414.1L546.3 415.8L549.2 414.2L546.4 412.5ZM546.3 415.8L549.2 417.4L555 414.2L552.1 412.6ZM602.1 385.1L604.9 386.7L607.6 385.2L604.8 383.7ZM552.1 415.8L554.9 417.4L557.8 415.8L555 414.2ZM594.1 392.6L597 394.2L607.7 388.2L604.9 386.7ZM557.8 415.8L560.7 417.5L566.4 414.3L563.6 412.7ZM591.5 397.2L594.3 398.7L607.8 391.2L605 389.7ZM566.4 414.3L569.3 415.9L572.1 414.3L569.2 412.7ZM591.6 400.3L594.4 401.9L597.1 400.3L594.3 398.7ZM572.1 414.3L575 415.9L577.8 414.4L574.9 412.7ZM591.7 403.4L594.5 405L597.2 403.4L594.4 401.9ZM577.8 414.4L580.6 416L583.5 414.4L580.6 412.8ZM594.6 408.1L597.4 409.7L600.2 408.2L597.3 406.6ZM605.9 411.4L608.8 413L611.5 411.4L608.6 409.8ZM608.8 413L611.6 414.6L619.8 409.9L616.9 408.3Z"/>
<path fill="#f06a1c" stroke="#f06a1c" d="M604.8 383.7L607.6 385.2L612.9 382.3L610.1 380.7ZM549.2 417.4L552 419L554.9 417.4L552.1 415.8ZM604.9 386.7L607.7 388.2L613 385.2L610.2 383.7ZM554.9 417.4L557.8 419.1L560.7 417.5L557.8 415.8ZM605 389.7L607.8 391.2L613.2 388.3L610.4 386.7ZM560.7 417.5L563.5 419.1L569.3 415.9L566.4 414.3ZM594.3 398.7L597.1 400.3L613.3 391.3L610.5 389.7ZM566.4 417.5L569.3 419.1L575 415.9L572.1 414.3ZM594.4 401.9L597.2 403.4L605.4 398.9L602.6 397.3ZM572.1 417.5L575 419.2L580.6 416L577.8 414.4ZM594.5 405L597.3 406.6L600.1 405L597.2 403.4ZM577.8 417.6L580.7 419.2L597.4 409.7L594.6 408.1ZM597.4 409.7L600.3 411.3L605.8 408.2L602.9 406.6ZM603 409.8L605.9 411.4L608.6 409.8L605.8 408.2Z"/>
<path fill="#ef5d17" stroke="#ef5d17" d="M610.1 380.7L612.9 382.3L618.1 379.4L615.4 377.9ZM610.2 383.7L613 385.2L615.7 383.8L612.9 382.3ZM610.4 386.7L613.2 388.3L615.8 386.8L613 385.2ZM557.8 419.1L560.7 420.7L563.5 419.1L560.7 417.5ZM610.5 389.7L613.3 391.3L616 389.8L613.2 388.3ZM563.5 419.1L566.4 420.8L569.3 419.1L566.4 417.5ZM569.3 419.1L572.1 420.8L575 419.2L572.1 417.5ZM575 419.2L577.9 420.8L580.7 419.2L577.8 417.6ZM597.3 406.6L600.2 408.2L602.9 406.6L600.1 405ZM580.7 419.2L583.6 420.8L600.3 411.3L597.4 409.7ZM600.3 411.3L603.2 412.9L605.9 411.4L603 409.8Z"/>
<path fill="#ee5012" stroke="#ee5012" d="M615.4 377.9L618.1 379.4L623.3 376.5L620.6 375ZM612.9 382.3L615.7 383.8L623.5 379.4L620.7 377.9ZM613 385.2L615.8 386.8L623.7 382.4L620.9 380.9ZM543.2 427.2L546.1 428.9L549 427.2L546.1 425.6ZM546.1 428.9L548.9 430.6L551.9 428.9L549 427.2ZM589.2 417.6L592.1 419.3L603.2 412.9L600.3 411.3ZM600.4 414.5L603.3 416.1L608.8 413L605.9 411.4Z"/>
<path fill="#ec420e" stroke="#ec420e" d="M548.9 430.6L551.8 432.2L554.8 430.6L551.9 428.9ZM594.9 417.7L597.7 419.3L603.3 416.1L600.4 414.5ZM606 414.5L608.9 416.2L611.6 414.6L608.8 413Z"/>
<path fill="#eb3509" stroke="#eb3509" d="M551.8 432.2L554.7 433.9L557.7 432.3L554.8 430.6ZM554.7 433.9L557.6 435.6L560.6 433.9L557.7 432.3ZM595 424.2L597.9 425.8L630.7 406.8L627.8 405.3Z"/>
<polygon fill="#f38527" points="645.6,398.3 640.5,394.1 611.8,411.7 610.3,416.7"/>
</g>
<clipPath id="w1"><polygon points="77.4,232.1 102,218.1 161.5,254.5 115.4,287.5 96.7,288.8 77.2,276.8"/></clipPath>
<g clip-path="url(#w1)" stroke-width="0.8" stroke-linejoin="round">
<path fill="#f8ba3d" stroke="#f8ba3d" d="M72.8 232.4L75.1 233.9L80.2 230.9L77.9 229.4ZM75.1 233.9L77.4 235.4L82.5 232.4L80.2 230.9ZM80 233.9L82.3 235.5L84.8 234L82.5 232.4ZM78.2 259.6L80.7 261.3L83.4 259.6L80.9 257.9ZM96.1 264.8L98.6 266.5L101.3 264.7L98.7 263ZM98.6 266.5L101.2 268.3L103.8 266.5L101.3 264.7ZM101.2 271.8L103.8 273.6L106.4 271.8L103.8 270ZM103.7 277.3L106.4 279.1L109.1 277.2L106.4 275.4Z"/>
<path fill="#f9d346" stroke="#f9d346" d="M77.9 229.4L80.2 230.9L82.7 229.5L80.4 228ZM80.2 230.9L82.5 232.4L85 231L82.7 229.5ZM74.9 237L77.2 238.5L79.8 237L77.4 235.4ZM73.3 256.2L75.7 257.9L78.4 256.2L76 254.6ZM83.6 256.2L86 257.9L88.7 256.2L86.2 254.6ZM91.2 257.9L93.7 259.6L96.3 257.9L93.8 256.2ZM93.7 259.6L96.2 261.3L98.8 259.6L96.3 257.9ZM96.2 261.3L98.7 263L101.3 261.3L98.8 259.6ZM98.7 263L101.3 264.7L103.9 263L101.3 261.3ZM103.8 270L106.4 271.8L109 270L106.4 268.2ZM106.4 275.4L109.1 277.2L111.7 275.4L109.1 273.6Z"/>
<path fill="#fbeb50" stroke="#fbeb50" d="M80.4 228L82.7 229.5L85.2 228L82.9 226.5ZM74.4 243.2L76.7 244.8L79.3 243.2L77 241.6ZM73.6 252.9L76 254.6L78.7 252.9L76.3 251.3ZM86.2 254.6L88.7 256.2L91.3 254.6L88.8 252.9ZM93.8 256.2L96.3 257.9L98.9 256.2L96.4 254.6ZM96.3 257.9L98.8 259.6L101.4 257.9L98.9 256.2ZM103.8 266.5L106.4 268.2L109 266.5L106.4 264.7ZM106.4 271.8L109.1 273.6L111.7 271.8L109 270ZM109.1 277.2L111.7 279.1L114.4 277.2L111.7 275.4ZM109.1 281L111.8 282.8L114.4 280.9L111.7 279.1ZM109.1 284.7L111.8 286.6L114.5 284.7L111.8 282.8ZM109.1 288.6L111.8 290.5L114.5 288.5L111.8 286.6Z"/>
<path fill="#dbd45c" stroke="#dbd45c" d="M82.9 226.5L85.2 228L87.6 226.6L85.3 225.1ZM85 231L87.3 232.5L89.8 231L87.5 229.5ZM84.8 234L87.2 235.5L92.2 232.5L89.8 231ZM79.3 243.2L81.7 244.8L86.9 241.6L84.5 240.1ZM92 235.5L94.4 237L96.9 235.5L94.5 234ZM76.5 248L78.9 249.6L84.1 246.4L81.7 244.8ZM84.3 243.2L86.7 244.8L91.8 241.7L89.4 240.1ZM91.9 238.5L94.3 240.1L96.8 238.6L94.4 237ZM78.9 249.6L81.3 251.3L86.5 248L84.1 246.4ZM91.8 241.7L94.2 243.2L96.7 241.7L94.3 240.1ZM83.9 249.6L86.4 251.3L89 249.6L86.5 248ZM86.4 251.3L88.8 252.9L91.4 251.3L89 249.6ZM91.4 251.3L93.9 252.9L96.5 251.3L94 249.6ZM93.9 252.9L96.4 254.6L98.9 252.9L96.5 251.3ZM96.4 254.6L98.9 256.2L101.4 254.5L98.9 252.9ZM98.9 256.2L101.4 257.9L103.9 256.2L101.4 254.5ZM103.9 259.6L106.5 261.3L109 259.6L106.5 257.9ZM106.4 264.7L109 266.5L111.6 264.7L109 263ZM109 270L111.7 271.8L114.3 270L111.6 268.2ZM111.7 271.8L114.3 273.6L116.9 271.8L114.3 270ZM111.7 275.4L114.4 277.2L117 275.4L114.3 273.6ZM111.8 286.6L114.5 288.5L119.9 284.7L117.1 282.8Z"/>
<path fill="#c6c464" stroke="#c6c464" d="M85.3 225.1L87.6 226.6L90.1 225.1L87.8 223.7ZM87.5 229.5L89.8 231L92.3 229.5L89.9 228ZM94.6 231L97 232.5L99.4 231L97.1 229.5ZM97 232.5L99.3 234L101.8 232.5L99.4 231ZM96.9 235.5L99.3 237L104.2 234L101.8 232.5ZM99.3 237L101.7 238.6L106.6 235.5L104.2 234ZM99.2 240.1L101.6 241.7L109 237.1L106.6 235.5ZM96.6 244.8L99.1 246.4L109 240.1L106.5 238.6ZM99.1 246.4L101.5 248L111.4 241.7L109 240.1ZM101.5 248L104 249.6L113.9 243.2L111.4 241.7ZM101.5 251.3L104 252.9L118.8 243.3L116.3 241.7ZM104 252.9L106.5 254.5L123.7 243.3L121.2 241.7ZM106.5 254.5L109 256.2L126.2 244.8L123.7 243.3ZM109 256.2L111.6 257.9L131.1 244.8L128.6 243.3ZM109 259.6L111.6 261.3L136 244.8L133.4 243.3ZM111.6 261.3L114.2 263L140.9 244.9L138.3 243.3ZM111.6 264.7L114.2 266.5L143.4 246.4L140.9 244.9ZM114.2 266.5L116.8 268.2L148.3 246.4L145.7 244.9ZM116.8 268.2L119.5 270L132 261.2L129.4 259.5ZM131.8 257.9L134.4 259.5L150.9 248L148.3 246.4ZM119.5 270L122.1 271.7L129.7 266.4L127.1 264.7ZM139.2 256.2L141.9 257.8L153.5 249.6L150.9 248ZM119.6 273.6L122.3 275.4L132.4 268.2L129.7 266.4ZM144.3 256.2L146.9 257.8L156.2 251.2L153.5 249.6ZM119.7 277.2L122.4 279L132.6 271.7L129.9 269.9ZM146.9 257.8L149.6 259.5L158.8 252.9L156.2 251.2ZM122.4 279L125.1 280.9L135.3 273.5L132.6 271.7ZM149.6 259.5L152.3 261.2L161.5 254.5L158.8 252.9Z"/>
<path fill="#b8ba6c" stroke="#b8ba6c" d="M87.8 223.7L90.1 225.1L92.5 223.7L90.2 222.3ZM87.6 226.6L89.9 228L92.4 226.6L90.1 225.1ZM89.9 228L92.3 229.5L94.7 228L92.4 226.6ZM92.3 229.5L94.6 231L97.1 229.5L94.7 228ZM97.1 229.5L99.4 231L101.8 229.5L99.5 228.1ZM99.4 231L101.8 232.5L104.2 231L101.8 229.5ZM101.8 232.5L104.2 234L109 231L106.6 229.6ZM104.2 234L106.6 235.5L111.4 232.5L109 231ZM106.6 235.5L109 237.1L113.8 234L111.4 232.5ZM106.5 238.6L109 240.1L118.6 234.1L116.1 232.5ZM109 240.1L111.4 241.7L121 235.6L118.6 234.1ZM111.4 241.7L113.9 243.2L125.8 235.6L123.3 234.1ZM116.3 241.7L118.8 243.3L128.3 237.1L125.8 235.6ZM121.2 241.7L123.7 243.3L133.1 237.1L130.6 235.6ZM123.7 243.3L126.2 244.8L135.6 238.6L133.1 237.1ZM128.6 243.3L131.1 244.8L138.1 240.2L135.6 238.6ZM133.4 243.3L136 244.8L140.6 241.7L138.1 240.2ZM138.3 243.3L140.9 244.9L143.2 243.3L140.6 241.7ZM140.9 244.9L143.4 246.4L145.7 244.9L143.2 243.3Z"/>
<path fill="#aab075" stroke="#aab075" d="M90.2 222.3L92.5 223.7L94.9 222.3L92.6 220.8ZM90.1 225.1L92.4 226.6L94.8 225.1L92.5 223.7ZM92.4 226.6L94.7 228L97.1 226.6L94.8 225.1ZM94.7 228L97.1 229.5L101.9 226.6L99.5 225.2ZM99.5 228.1L101.8 229.5L106.6 226.6L104.2 225.2ZM101.8 229.5L104.2 231L111.3 226.7L108.9 225.2ZM106.6 229.6L109 231L116 226.7L113.6 225.2ZM109 231L111.4 232.5L118.4 228.1L116 226.7ZM111.4 232.5L113.8 234L120.8 229.6L118.4 228.1ZM116.1 232.5L118.6 234.1L123.2 231.1L120.8 229.6ZM118.6 234.1L121 235.6L125.7 232.6L123.2 231.1ZM123.3 234.1L125.8 235.6L128.1 234.1L125.7 232.6ZM125.8 235.6L128.3 237.1L130.6 235.6L128.1 234.1Z"/>
<path fill="#9ca77d" stroke="#9ca77d" d="M92.6 220.8L94.9 222.3L99.7 219.5L97.4 218.1ZM92.5 223.7L94.8 225.1L99.6 222.3L97.3 220.9ZM94.8 225.1L97.1 226.6L104.3 222.3L102 220.9ZM99.5 225.2L101.9 226.6L108.9 222.3L106.6 220.9ZM104.2 225.2L106.6 226.6L113.6 222.4L111.3 220.9ZM108.9 225.2L111.3 226.7L113.6 225.2L111.3 223.8Z"/>
<path fill="#8e9d86" stroke="#8e9d86" d="M97.4 218.1L99.7 219.5L102 218.1L99.7 216.7ZM97.3 220.9L99.6 222.3L104.3 219.5L102 218.1ZM102 220.9L104.3 222.3L108.9 219.5L106.6 218.1ZM106.6 220.9L108.9 222.3L111.3 220.9L108.9 219.5Z"/>
<path fill="#f9c642" stroke="#f9c642" d="M72.6 235.4L74.9 237L77.4 235.4L75.1 233.9ZM77.4 235.4L79.8 237L82.3 235.5L80 233.9ZM75.7 257.9L78.2 259.6L80.9 257.9L78.4 256.2ZM80.9 257.9L83.4 259.6L86 257.9L83.6 256.2ZM101.2 268.3L103.8 270L106.4 268.2L103.8 266.5ZM103.8 273.6L106.4 275.4L109.1 273.6L106.4 271.8ZM106.4 279.1L109.1 281L111.7 279.1L109.1 277.2ZM106.4 282.8L109.1 284.7L111.8 282.8L109.1 281ZM106.4 286.6L109.1 288.6L111.8 286.6L109.1 284.7Z"/>
<path fill="#e6db58" stroke="#e6db58" d="M82.7 229.5L85 231L87.5 229.5L85.2 228ZM84.7 237L87 238.5L89.5 237L87.2 235.5ZM89.7 234L92 235.5L94.5 234L92.2 232.5ZM76.7 244.8L79.1 246.4L81.7 244.8L79.3 243.2ZM84.5 240.1L86.9 241.6L91.9 238.5L89.5 237ZM89.4 240.1L91.8 241.7L94.3 240.1L91.9 238.5ZM76.3 251.3L78.7 252.9L81.3 251.3L78.9 249.6ZM78.7 252.9L81.1 254.6L86.4 251.3L83.9 249.6ZM88.8 252.9L91.3 254.6L93.9 252.9L91.4 251.3ZM103.9 263L106.4 264.7L109 263L106.5 261.3ZM106.4 268.2L109 270L111.6 268.2L109 266.5ZM111.7 279.1L114.4 280.9L117.1 279L114.4 277.2ZM111.8 282.8L114.5 284.7L117.1 282.8L114.4 280.9Z"/>
<path fill="#d1cc60" stroke="#d1cc60" d="M85.2 228L87.5 229.5L89.9 228L87.6 226.6ZM89.8 231L92.2 232.5L94.6 231L92.3 229.5ZM92.2 232.5L94.5 234L97 232.5L94.6 231ZM94.5 234L96.9 235.5L99.3 234L97 232.5ZM81.7 244.8L84.1 246.4L86.7 244.8L84.3 243.2ZM94.4 237L96.8 238.6L99.3 237L96.9 235.5ZM84.1 246.4L86.5 248L94.2 243.2L91.8 241.7ZM94.3 240.1L96.7 241.7L101.7 238.6L99.3 237ZM86.5 248L89 249.6L101.6 241.7L99.2 240.1ZM89 249.6L91.4 251.3L99.1 246.4L96.6 244.8ZM94 249.6L96.5 251.3L101.5 248L99.1 246.4ZM96.5 251.3L98.9 252.9L104 249.6L101.5 248ZM98.9 252.9L101.4 254.5L104 252.9L101.5 251.3ZM101.4 254.5L103.9 256.2L106.5 254.5L104 252.9ZM101.4 257.9L103.9 259.6L109 256.2L106.5 254.5ZM106.5 257.9L109 259.6L111.6 257.9L109 256.2ZM106.5 261.3L109 263L111.6 261.3L109 259.6ZM109 263L111.6 264.7L114.2 263L111.6 261.3ZM109 266.5L111.6 268.2L114.2 266.5L111.6 264.7ZM111.6 268.2L114.3 270L116.8 268.2L114.2 266.5ZM114.3 270L116.9 271.8L119.5 270L116.8 268.2ZM129.4 259.5L132 261.2L134.4 259.5L131.8 257.9ZM114.3 273.6L117 275.4L122.1 271.7L119.5 270ZM127.1 264.7L129.7 266.4L141.9 257.8L139.2 256.2ZM114.4 277.2L117.1 279L122.3 275.4L119.6 273.6ZM129.7 266.4L132.4 268.2L146.9 257.8L144.3 256.2ZM114.4 280.9L117.1 282.8L122.4 279L119.7 277.2ZM129.9 269.9L132.6 271.7L149.6 259.5L146.9 257.8ZM117.1 282.8L119.9 284.7L125.1 280.9L122.4 279ZM132.6 271.7L135.3 273.5L152.3 261.2L149.6 259.5Z"/>
<path fill="#f0e354" stroke="#f0e354" d="M82.5 232.4L84.8 234L87.3 232.5L85 231ZM82.3 235.5L84.7 237L87.2 235.5L84.8 234ZM77 241.6L79.3 243.2L87 238.5L84.7 237ZM87.2 235.5L89.5 237L92 235.5L89.7 234ZM74.1 246.4L76.5 248L79.1 246.4L76.7 244.8ZM89.5 237L91.9 238.5L94.4 237L92 235.5ZM73.8 249.6L76.3 251.3L78.9 249.6L76.5 248ZM76 254.6L78.4 256.2L81.1 254.6L78.7 252.9ZM83.7 252.9L86.2 254.6L88.8 252.9L86.4 251.3ZM91.3 254.6L93.8 256.2L96.4 254.6L93.9 252.9ZM98.8 259.6L101.3 261.3L103.9 259.6L101.4 257.9ZM101.3 261.3L103.9 263L106.5 261.3L103.9 259.6ZM109.1 273.6L111.7 275.4L114.3 273.6L111.7 271.8Z"/>
<path fill="#fadf4b" stroke="#fadf4b" d="M74.6 240.1L77 241.6L84.7 237L82.3 235.5ZM78.4 256.2L80.9 257.9L86.2 254.6L83.7 252.9ZM88.7 256.2L91.2 257.9L93.8 256.2L91.3 254.6ZM101.3 264.7L103.8 266.5L106.4 264.7L103.9 263Z"/>
<path fill="#f7ae38" stroke="#f7ae38" d="M73 259.6L75.5 261.3L78.2 259.6L75.7 257.9ZM98.6 270L101.2 271.8L103.8 270L101.2 268.3ZM101.1 275.4L103.7 277.3L106.4 275.4L103.8 273.6ZM103.7 281L106.4 282.8L109.1 281L106.4 279.1Z"/>
<path fill="#f4932d" stroke="#f4932d" d="M72.8 263.1L75.2 264.8L78 263.1L75.5 261.3ZM100.9 286.7L103.6 288.6L106.4 286.6L103.7 284.8Z"/>
<path fill="#f6a032" stroke="#f6a032" d="M75.5 261.3L78 263.1L80.7 261.3L78.2 259.6ZM101 279.1L103.7 281L106.4 279.1L103.7 277.3ZM103.7 284.8L106.4 286.6L109.1 284.7L106.4 282.8ZM103.6 288.6L106.3 290.5L109.1 288.6L106.4 286.6Z"/>
<path fill="#f38527" stroke="#f38527" d="M72.5 266.6L75 268.3L77.7 266.6L75.2 264.8ZM98.2 288.6L100.9 290.6L103.6 288.6L100.9 286.7Z"/>
<path fill="#ea2804" stroke="#ea2804" d="M75.2 264.8L77.7 266.6L91.2 257.9L88.7 256.2ZM75 268.3L77.5 270.1L93.7 259.6L91.2 257.9ZM74.7 271.9L77.2 273.7L96.2 261.3L93.7 259.6ZM74.4 275.6L77 277.4L98.7 263L96.2 261.3ZM77 277.4L79.5 279.2L98.6 266.5L96.1 264.8ZM79.5 279.2L82.1 281.1L101.2 268.3L98.6 266.5ZM82.1 281.1L84.7 283L101.2 271.8L98.6 270ZM84.7 283L87.4 284.9L103.8 273.6L101.2 271.8ZM87.4 284.9L90 286.8L103.7 277.3L101.1 275.4ZM90 286.8L92.7 288.7L103.7 281L101 279.1ZM92.7 288.7L95.4 290.6L106.4 282.8L103.7 281Z"/>
<path fill="#f17822" stroke="#f17822" d="M72.2 270.1L74.7 271.9L77.5 270.1L75 268.3ZM95.4 290.6L98.1 292.5L100.9 290.6L98.2 288.6Z"/>
<path fill="#f06a1c" stroke="#f06a1c" d="M71.9 273.8L74.4 275.6L77.2 273.7L74.7 271.9Z"/>
</g>
<path d="M37.9 209.3L77.4 232.1M37.9 209.3L84.6 204.3L146.5 197.5L205 176M95.9 161L168.3 140.6L185 159.6L205.5 177M98.7 164.4L161.5 146L185 170.5L198 182M168.3 141.1L170.4 162.3L168.3 182.8L161.5 196.5L152 212M116.4 164.4L169.7 182.1L185 189.6L214 200M100 169.2L139.6 180.1L169.7 181.4M115 164.4L98.7 180.1L85 200.6L62 232M143.7 195.1L167 185.5L185 176L205.5 177M95.9 161.6L146.5 208.8L173.7 226M92.4 158.2L120 200L102 218.1M37.9 209.3L99 167.5M146.5 209.2L185 190L220 197M205.5 177L214 196L216 212M198 182L200 205L193.2 228M150 222L185 200L216 204M102 218.1L150 232L173.7 232M130 170L165 205L190 222M161.5 146L150 190L146.5 209.2" fill="none" stroke="#a4a4a4" stroke-width="0.75" stroke-dasharray="2.6 2"/>
<path d="M37.9 209.3L92.4 158.2L169.8 136.9L209.6 173.3L226.2 200.9L226.2 205.8M92.4 158.2L146.5 209.2L209.6 173.3M146.5 209.2L146.5 254.3M146.5 209.2L173.7 230.3L226.2 200.9M173.7 230.3L173.7 234.9L226.2 205.8M92.4 158.2L77.4 232.1M37.9 209.3L75 275L77.2 276.8L96.7 288.8L115.4 287.5L161.5 254.5L193.2 233.5L210.1 217.9L226.2 205.8M77.4 232.1L77.2 276.8M77.4 232.1L114.3 276.6L115.4 287.5M114.3 276.6L96.7 288.8M114.3 276.6L146.5 254.3L173.7 234.9M77.4 232.1L146.5 254.3M77.4 232.1L146.5 209.2M77.4 232.1L102 218.1L161.5 254.5M83.8 166.5L135.5 212.6M58.2 244.4L84 259.5L114.3 276.6M113.5 273.9L146.5 250.5L173.7 232.6M155.5 250L193.2 233.5M153.5 251.5L193.2 228.5L210.1 209.8L226.2 200.9M193.2 227.7L193.2 233.5M210.1 209.5L210.1 217.9M102 218.1L125 211.5L146.5 209.2" fill="none" stroke="#484848" stroke-width="0.75" stroke-linejoin="round"/>
<clipPath id="w2"><polygon points="298,232.7 322.6,218.7 382.1,255.1 336,288.1 317.3,289.4 297.8,277.4"/></clipPath>
<g clip-path="url(#w2)" stroke-width="0.8" stroke-linejoin="round">
<path fill="#fbeb50" stroke="#fbeb50" d="M293.4 233L295.7 234.5L298.3 233L296 231.5ZM293.2 236L295.5 237.6L303.1 233L300.8 231.5ZM298 236L300.4 237.6L302.9 236.1L300.6 234.5ZM293.9 256.8L296.3 258.5L299 256.8L296.6 255.2ZM298.8 260.2L301.3 261.9L304 260.2L301.5 258.5ZM304 260.2L306.5 261.9L309.1 260.2L306.6 258.5ZM309.1 260.2L311.6 261.9L314.3 260.2L311.8 258.5ZM311.6 261.9L314.1 263.6L316.8 261.9L314.3 260.2ZM324.4 270.6L327 272.4L329.6 270.6L327 268.8ZM329.7 277.8L332.3 279.7L335 277.8L332.3 276ZM329.7 281.6L332.4 283.4L335 281.5L332.3 279.7ZM329.7 285.3L332.4 287.2L335.1 285.3L332.4 283.4ZM329.7 289.2L332.4 291.1L335.1 289.1L332.4 287.2Z"/>
<path fill="#f0e354" stroke="#f0e354" d="M296 231.5L298.3 233L303.3 230.1L301 228.6ZM295.5 237.6L297.8 239.1L300.4 237.6L298 236ZM300.6 234.5L302.9 236.1L305.4 234.6L303.1 233ZM295.2 240.7L297.6 242.2L300.2 240.7L297.8 239.1ZM294.2 253.5L296.6 255.2L299.3 253.5L296.9 251.9ZM296.3 258.5L298.8 260.2L301.5 258.5L299 256.8ZM301.5 258.5L304 260.2L306.6 258.5L304.2 256.8ZM306.6 258.5L309.1 260.2L311.8 258.5L309.3 256.8ZM316.8 261.9L319.3 263.6L321.9 261.9L319.4 260.2ZM319.3 263.6L321.9 265.3L324.5 263.6L321.9 261.9ZM321.9 265.3L324.4 267.1L327 265.3L324.5 263.6ZM324.4 267.1L327 268.8L329.6 267.1L327 265.3ZM327 272.4L329.7 274.2L332.3 272.4L329.6 270.6Z"/>
<path fill="#dbd45c" stroke="#dbd45c" d="M301 228.6L303.3 230.1L305.8 228.6L303.5 227.1ZM303.1 233L305.4 234.6L307.9 233.1L305.6 231.6ZM302.9 236.1L305.3 237.6L307.8 236.1L305.4 234.6ZM300.2 240.7L302.5 242.2L312.6 236.1L310.3 234.6ZM297.3 245.4L299.7 247L304.9 243.8L302.5 242.2ZM305.1 240.7L307.5 242.2L315 237.6L312.6 236.1ZM297.1 248.6L299.5 250.2L302.1 248.6L299.7 247ZM299.5 250.2L301.9 251.9L304.5 250.2L302.1 248.6ZM299.3 253.5L301.7 255.2L304.3 253.5L301.9 251.9ZM301.7 255.2L304.2 256.8L309.4 253.5L307 251.9ZM306.8 255.2L309.3 256.8L311.9 255.2L309.4 253.5ZM311.9 255.2L314.4 256.8L317 255.2L314.5 253.5ZM314.4 256.8L316.9 258.5L319.5 256.8L317 255.2ZM316.9 258.5L319.4 260.2L322 258.5L319.5 256.8ZM319.4 260.2L321.9 261.9L324.5 260.2L322 258.5ZM321.9 261.9L324.5 263.6L327.1 261.9L324.5 260.2ZM324.5 263.6L327 265.3L329.6 263.6L327.1 261.9ZM327 265.3L329.6 267.1L332.2 265.3L329.6 263.6ZM329.6 270.6L332.3 272.4L334.9 270.6L332.2 268.8ZM332.3 272.4L334.9 274.2L337.5 272.4L334.9 270.6ZM332.3 276L335 277.8L337.6 276L334.9 274.2ZM335 281.5L337.7 283.4L340.4 281.5L337.7 279.6ZM332.4 287.2L335.1 289.1L340.5 285.3L337.7 283.4Z"/>
<path fill="#d1cc60" stroke="#d1cc60" d="M303.5 227.1L305.8 228.6L308.2 227.2L305.9 225.7ZM303.3 230.1L305.6 231.6L308.1 230.1L305.8 228.6ZM307.9 233.1L310.3 234.6L312.8 233.1L310.4 231.6ZM310.3 234.6L312.6 236.1L315.1 234.6L312.8 233.1ZM302.5 242.2L304.9 243.8L307.5 242.2L305.1 240.7ZM312.6 236.1L315 237.6L317.5 236.1L315.1 234.6ZM299.7 247L302.1 248.6L319.9 237.6L317.5 236.1ZM302.1 248.6L304.5 250.2L319.8 240.7L317.4 239.2ZM301.9 251.9L304.3 253.5L319.7 243.8L317.3 242.3ZM307 251.9L309.4 253.5L314.6 250.2L312.1 248.6ZM309.4 253.5L311.9 255.2L319.6 250.2L317.1 248.6ZM314.5 253.5L317 255.2L322.1 251.9L319.6 250.2ZM317 255.2L319.5 256.8L324.6 253.5L322.1 251.9ZM319.5 256.8L322 258.5L324.5 256.8L322 255.1ZM322 258.5L324.5 260.2L327.1 258.5L324.5 256.8ZM324.5 260.2L327.1 261.9L329.6 260.2L327.1 258.5ZM327.1 261.9L329.6 263.6L332.2 261.9L329.6 260.2ZM329.6 263.6L332.2 265.3L334.8 263.6L332.2 261.9ZM329.6 267.1L332.2 268.8L334.8 267.1L332.2 265.3ZM332.2 268.8L334.9 270.6L337.4 268.8L334.8 267.1ZM334.9 270.6L337.5 272.4L340.1 270.6L337.4 268.8ZM347.5 261.8L350.1 263.5L355 260.1L352.4 258.5ZM334.9 274.2L337.6 276L342.7 272.3L340.1 270.6ZM347.7 265.3L350.3 267L362.5 258.4L359.8 256.8ZM335 277.8L337.7 279.6L342.9 276L340.2 274.2ZM347.8 268.8L350.5 270.5L367.5 258.4L364.9 256.8ZM337.7 279.6L340.4 281.5L345.6 277.8L342.9 276ZM348 272.3L350.7 274.1L372.5 258.4L369.9 256.8ZM337.7 283.4L340.5 285.3L375.2 260.1L372.5 258.4Z"/>
<path fill="#b8ba6c" stroke="#b8ba6c" d="M305.9 225.7L308.2 227.2L310.7 225.7L308.4 224.3ZM308.2 227.2L310.5 228.6L313 227.2L310.7 225.7ZM308.1 230.1L310.4 231.6L315.3 228.6L313 227.2ZM312.9 230.1L315.2 231.6L317.7 230.1L315.3 228.6ZM315.2 231.6L317.6 233.1L320 231.6L317.7 230.1ZM317.6 233.1L319.9 234.6L324.8 231.6L322.4 230.1ZM319.9 234.6L322.3 236.1L329.6 231.6L327.2 230.2ZM324.8 234.6L327.2 236.1L332 233.1L329.6 231.6ZM327.2 236.1L329.6 237.7L336.7 233.1L334.3 231.7ZM329.6 237.7L332 239.2L339.2 234.7L336.7 233.1ZM332 239.2L334.5 240.7L341.6 236.2L339.2 234.7ZM334.5 240.7L336.9 242.3L346.4 236.2L343.9 234.7ZM336.9 242.3L339.4 243.9L348.9 237.7L346.4 236.2ZM341.8 242.3L344.3 243.9L353.7 237.7L351.2 236.2ZM346.7 242.3L349.2 243.9L356.2 239.2L353.7 237.7ZM349.2 243.9L351.7 245.4L358.7 240.8L356.2 239.2ZM354 243.9L356.6 245.4L361.2 242.3L358.7 240.8ZM358.9 243.9L361.5 245.5L363.8 243.9L361.2 242.3ZM361.5 245.5L364 247L366.3 245.5L363.8 243.9Z"/>
<path fill="#aab075" stroke="#aab075" d="M308.4 224.3L310.7 225.7L315.5 222.9L313.2 221.4ZM310.7 225.7L313 227.2L315.4 225.7L313.1 224.3ZM313 227.2L315.3 228.6L317.7 227.2L315.4 225.7ZM315.3 228.6L317.7 230.1L322.5 227.2L320.1 225.8ZM317.7 230.1L320 231.6L327.2 227.2L324.8 225.8ZM322.4 230.1L324.8 231.6L331.9 227.3L329.5 225.8ZM327.2 230.2L329.6 231.6L336.6 227.3L334.2 225.8ZM329.6 231.6L332 233.1L339 228.7L336.6 227.3ZM334.3 231.7L336.7 233.1L341.4 230.2L339 228.7ZM336.7 233.1L339.2 234.7L343.8 231.7L341.4 230.2ZM339.2 234.7L341.6 236.2L346.3 233.2L343.8 231.7ZM343.9 234.7L346.4 236.2L348.7 234.7L346.3 233.2ZM346.4 236.2L348.9 237.7L351.2 236.2L348.7 234.7Z"/>
<path fill="#9ca77d" stroke="#9ca77d" d="M313.2 221.4L315.5 222.9L317.9 221.5L315.6 220.1ZM313.1 224.3L315.4 225.7L320.2 222.9L317.9 221.5ZM315.4 225.7L317.7 227.2L324.9 222.9L322.6 221.5ZM320.1 225.8L322.5 227.2L329.5 222.9L327.2 221.5ZM324.8 225.8L327.2 227.2L334.2 223L331.9 221.5ZM329.5 225.8L331.9 227.3L334.2 225.8L331.9 224.4Z"/>
<path fill="#8e9d86" stroke="#8e9d86" d="M315.6 220.1L317.9 221.5L322.6 218.7L320.3 217.3ZM317.9 221.5L320.2 222.9L324.9 220.1L322.6 218.7ZM322.6 221.5L324.9 222.9L329.5 220.1L327.2 218.7ZM327.2 221.5L329.5 222.9L331.9 221.5L329.5 220.1Z"/>
<path fill="#e6db58" stroke="#e6db58" d="M300.8 231.5L303.1 233L305.6 231.6L303.3 230.1ZM297.8 239.1L300.2 240.7L305.3 237.6L302.9 236.1ZM295 243.8L297.3 245.4L302.5 242.2L300.2 240.7ZM294.7 247L297.1 248.6L299.7 247L297.3 245.4ZM294.4 250.2L296.9 251.9L299.5 250.2L297.1 248.6ZM296.9 251.9L299.3 253.5L301.9 251.9L299.5 250.2ZM296.6 255.2L299 256.8L301.7 255.2L299.3 253.5ZM299 256.8L301.5 258.5L304.2 256.8L301.7 255.2ZM304.2 256.8L306.6 258.5L309.3 256.8L306.8 255.2ZM309.3 256.8L311.8 258.5L314.4 256.8L311.9 255.2ZM311.8 258.5L314.3 260.2L316.9 258.5L314.4 256.8ZM314.3 260.2L316.8 261.9L319.4 260.2L316.9 258.5ZM327 268.8L329.6 270.6L332.2 268.8L329.6 267.1ZM329.7 274.2L332.3 276L334.9 274.2L332.3 272.4ZM332.3 279.7L335 281.5L337.7 279.6L335 277.8ZM332.4 283.4L335.1 285.3L337.7 283.4L335 281.5Z"/>
<path fill="#c6c464" stroke="#c6c464" d="M305.8 228.6L308.1 230.1L310.5 228.6L308.2 227.2ZM305.6 231.6L307.9 233.1L310.4 231.6L308.1 230.1ZM305.4 234.6L307.8 236.1L310.3 234.6L307.9 233.1ZM310.4 231.6L312.8 233.1L315.2 231.6L312.9 230.1ZM312.8 233.1L315.1 234.6L317.6 233.1L315.2 231.6ZM315.1 234.6L317.5 236.1L319.9 234.6L317.6 233.1ZM317.5 236.1L319.9 237.6L322.3 236.1L319.9 234.6ZM317.4 239.2L319.8 240.7L327.2 236.1L324.8 234.6ZM317.3 242.3L319.7 243.8L329.6 237.7L327.2 236.1ZM312.1 248.6L314.6 250.2L332 239.2L329.6 237.7ZM317.1 248.6L319.6 250.2L334.5 240.7L332 239.2ZM319.6 250.2L322.1 251.9L336.9 242.3L334.5 240.7ZM322.1 251.9L324.6 253.5L339.4 243.9L336.9 242.3ZM322 255.1L324.5 256.8L344.3 243.9L341.8 242.3ZM324.5 256.8L327.1 258.5L349.2 243.9L346.7 242.3ZM327.1 258.5L329.6 260.2L351.7 245.4L349.2 243.9ZM329.6 260.2L332.2 261.9L356.6 245.4L354 243.9ZM332.2 261.9L334.8 263.6L361.5 245.5L358.9 243.9ZM332.2 265.3L334.8 267.1L364 247L361.5 245.5ZM334.8 267.1L337.4 268.8L368.9 247L366.3 245.5ZM337.4 268.8L340.1 270.6L350.1 263.5L347.5 261.8ZM352.4 258.5L355 260.1L371.5 248.6L368.9 247ZM340.1 270.6L342.7 272.3L350.3 267L347.7 265.3ZM359.8 256.8L362.5 258.4L374.1 250.2L371.5 248.6ZM340.2 274.2L342.9 276L350.5 270.5L347.8 268.8ZM364.9 256.8L367.5 258.4L376.8 251.8L374.1 250.2ZM342.9 276L345.6 277.8L350.7 274.1L348 272.3ZM369.9 256.8L372.5 258.4L379.4 253.5L376.8 251.8ZM372.5 258.4L375.2 260.1L382.1 255.1L379.4 253.5Z"/>
<path fill="#fadf4b" stroke="#fadf4b" d="M293.6 260.2L296.1 261.9L298.8 260.2L296.3 258.5ZM301.3 261.9L303.8 263.7L306.5 261.9L304 260.2ZM306.5 261.9L309 263.6L311.6 261.9L309.1 260.2ZM314.1 263.6L316.7 265.4L319.3 263.6L316.8 261.9ZM321.8 268.9L324.4 270.6L327 268.8L324.4 267.1ZM327 276L329.7 277.8L332.3 276L329.7 274.2Z"/>
<path fill="#f8ba3d" stroke="#f8ba3d" d="M293.4 263.7L295.8 265.4L298.6 263.7L296.1 261.9ZM306.3 265.4L308.8 267.1L311.5 265.4L309 263.6ZM311.5 265.4L314 267.1L316.7 265.4L314.1 263.6ZM319.2 270.6L321.8 272.4L324.4 270.6L321.8 268.9ZM321.8 272.4L324.4 274.2L327 272.4L324.4 270.6ZM324.2 289.2L326.9 291.1L329.7 289.2L327 287.2Z"/>
<path fill="#f9d346" stroke="#f9d346" d="M296.1 261.9L298.6 263.7L301.3 261.9L298.8 260.2ZM316.7 265.4L319.2 267.1L321.9 265.3L319.3 263.6ZM319.2 267.1L321.8 268.9L324.4 267.1L321.9 265.3ZM324.4 274.2L327 276L329.7 274.2L327 272.4Z"/>
<path fill="#f6a032" stroke="#f6a032" d="M293.1 267.2L295.6 268.9L298.3 267.2L295.8 265.4ZM303.6 267.2L306.1 268.9L308.8 267.1L306.3 265.4ZM308.8 267.1L311.3 268.9L314 267.1L311.5 265.4ZM321.7 276L324.3 277.9L327 276L324.4 274.2ZM324.3 281.6L327 283.4L329.7 281.6L327 279.7ZM321.5 287.3L324.2 289.2L327 287.2L324.3 285.4Z"/>
<path fill="#f7ae38" stroke="#f7ae38" d="M295.8 265.4L298.3 267.2L301.1 265.4L298.6 263.7ZM301.1 265.4L303.6 267.2L306.3 265.4L303.8 263.7ZM314 267.1L316.6 268.9L319.2 267.1L316.7 265.4ZM316.6 268.9L319.2 270.6L321.8 268.9L319.2 267.1ZM324.3 277.9L327 279.7L329.7 277.8L327 276ZM324.3 285.4L327 287.2L329.7 285.3L327 283.4Z"/>
<path fill="#f9c642" stroke="#f9c642" d="M298.6 263.7L301.1 265.4L303.8 263.7L301.3 261.9ZM303.8 263.7L306.3 265.4L309 263.6L306.5 261.9ZM309 263.6L311.5 265.4L314.1 263.6L311.6 261.9ZM327 279.7L329.7 281.6L332.3 279.7L329.7 277.8ZM327 283.4L329.7 285.3L332.4 283.4L329.7 281.6ZM327 287.2L329.7 289.2L332.4 287.2L329.7 285.3Z"/>
<path fill="#f38527" stroke="#f38527" d="M292.8 270.7L295.3 272.5L300.8 268.9L298.3 267.2ZM300.8 268.9L303.4 270.7L306.1 268.9L303.6 267.2ZM308.6 270.7L311.2 272.5L313.9 270.7L311.3 268.9ZM316.4 276.1L319 277.9L321.7 276L319.1 274.2ZM319 277.9L321.6 279.7L324.3 277.9L321.7 276ZM316 291.2L318.7 293.1L321.5 291.2L318.8 289.2Z"/>
<path fill="#f4932d" stroke="#f4932d" d="M298.3 267.2L300.8 268.9L303.6 267.2L301.1 265.4ZM306.1 268.9L308.6 270.7L311.3 268.9L308.8 267.1ZM311.3 268.9L313.9 270.7L316.6 268.9L314 267.1ZM313.9 270.7L316.5 272.4L319.2 270.6L316.6 268.9ZM316.5 272.4L319.1 274.2L321.8 272.4L319.2 270.6ZM319.1 274.2L321.7 276L324.4 274.2L321.8 272.4ZM321.6 279.7L324.3 281.6L327 279.7L324.3 277.9ZM318.8 289.2L321.5 291.2L324.2 289.2L321.5 287.3Z"/>
<path fill="#f06a1c" stroke="#f06a1c" d="M292.5 274.4L295 276.2L297.8 274.3L295.3 272.5Z"/>
<path fill="#ea2804" stroke="#ea2804" d="M295.3 272.5L297.8 274.3L303.4 270.7L300.8 268.9ZM295 276.2L297.6 278L308.6 270.7L306.1 268.9ZM297.6 278L300.1 279.8L311.2 272.5L308.6 270.7ZM300.1 279.8L302.7 281.7L316.5 272.4L313.9 270.7ZM302.7 281.7L305.3 283.6L319.1 274.2L316.5 272.4ZM305.3 283.6L308 285.5L319 277.9L316.4 276.1ZM308 285.5L310.6 287.4L321.6 279.7L319 277.9ZM310.6 287.4L313.3 289.3L324.3 281.6L321.6 279.7ZM313.3 289.3L316 291.2L327 283.4L324.3 281.6Z"/>
</g>
<path d="M258.5 209.9L298 232.7M258.5 209.9L305.2 204.9L367.1 198.1L425.6 176.6M316.5 161.6L388.9 141.2L405.6 160.2L426.1 177.6M319.3 165L382.1 146.6L405.6 171.1L418.6 182.6M388.9 141.7L391 162.9L388.9 183.4L382.1 197.1L372.6 212.6M337 165L390.3 182.7L405.6 190.2L434.6 200.6M320.6 169.8L360.2 180.7L390.3 182M335.6 165L319.3 180.7L305.6 201.2L282.6 232.6M364.3 195.7L387.6 186.1L405.6 176.6L426.1 177.6M316.5 162.2L367.1 209.4L394.3 226.6M313 158.8L340.6 200.6L322.6 218.7M258.5 209.9L319.6 168.1M367.1 209.8L405.6 190.6L440.6 197.6M426.1 177.6L434.6 196.6L436.6 212.6M418.6 182.6L420.6 205.6L413.8 228.6M370.6 222.6L405.6 200.6L436.6 204.6M322.6 218.7L370.6 232.6L394.3 232.6M350.6 170.6L385.6 205.6L410.6 222.6M382.1 146.6L370.6 190.6L367.1 209.8" fill="none" stroke="#a4a4a4" stroke-width="0.75" stroke-dasharray="2.6 2"/>
<path d="M258.5 209.9L313 158.8L390.4 137.5L430.2 173.9L446.8 201.5L446.8 206.4M313 158.8L367.1 209.8L430.2 173.9M367.1 209.8L367.1 254.9M367.1 209.8L394.3 230.9L446.8 201.5M394.3 230.9L394.3 235.5L446.8 206.4M313 158.8L298 232.7M258.5 209.9L295.6 275.6L297.8 277.4L317.3 289.4L336 288.1L382.1 255.1L413.8 234.1L430.7 218.5L446.8 206.4M298 232.7L297.8 277.4M298 232.7L334.9 277.2L336 288.1M334.9 277.2L317.3 289.4M334.9 277.2L367.1 254.9L394.3 235.5M298 232.7L367.1 254.9M298 232.7L367.1 209.8M298 232.7L322.6 218.7L382.1 255.1M304.4 167.1L356.1 213.2M278.8 245L304.6 260.1L334.9 277.2M334.1 274.5L367.1 251.1L394.3 233.2M376.1 250.6L413.8 234.1M374.1 252.1L413.8 229.1L430.7 210.4L446.8 201.5M413.8 228.3L413.8 234.1M430.7 210.1L430.7 218.5M322.6 218.7L345.6 212.1L367.1 209.8" fill="none" stroke="#484848" stroke-width="0.75" stroke-linejoin="round"/>
<clipPath id="w3"><polygon points="519.4,232.3 544,218.3 603.5,254.7 557.4,287.7 538.7,289 519.2,277"/></clipPath>
<g clip-path="url(#w3)" stroke-width="0.8" stroke-linejoin="round">
<path fill="#c6c464" stroke="#c6c464" d="M514.8 232.6L517.1 234.1L522.2 231.1L519.9 229.6ZM514.6 235.6L516.9 237.2L524.5 232.6L522.2 231.1ZM516.9 237.2L519.2 238.7L526.8 234.2L524.5 232.6ZM516.6 240.3L519 241.8L526.7 237.2L524.3 235.7ZM516.4 243.4L518.7 245L526.5 240.3L524.1 238.7ZM516.1 246.6L518.5 248.2L523.7 245L521.3 243.4ZM518.5 248.2L520.9 249.8L526.1 246.6L523.7 245ZM518.3 251.5L520.7 253.1L525.9 249.8L523.5 248.2ZM520.7 253.1L523.1 254.8L528.4 251.5L525.9 249.8ZM523.1 254.8L525.6 256.4L530.8 253.1L528.4 251.5ZM525.6 256.4L528 258.1L533.3 254.8L530.8 253.1ZM528 258.1L530.5 259.8L538.4 254.8L535.9 253.1ZM533.2 258.1L535.7 259.8L540.9 256.4L538.4 254.8ZM535.7 259.8L538.2 261.5L543.4 258.1L540.9 256.4ZM538.2 261.5L540.7 263.2L545.9 259.8L543.4 258.1ZM540.7 263.2L543.3 264.9L548.5 261.5L545.9 259.8ZM543.3 264.9L545.8 266.7L551 263.2L548.5 261.5ZM545.8 266.7L548.4 268.4L551 266.7L548.4 264.9ZM545.8 270.2L548.4 272L553.6 268.4L551 266.7ZM548.4 272L551.1 273.8L553.7 272L551 270.2ZM548.4 275.6L551.1 277.4L556.3 273.8L553.7 272ZM548.4 279.3L551.1 281.2L556.4 277.4L553.7 275.6ZM551.1 281.2L553.8 283L561.7 277.4L559 275.6ZM551.1 284.9L553.8 286.8L584.4 264.8L581.7 263.1ZM553.8 286.8L556.5 288.7L591.9 263.1L589.2 261.4Z"/>
<path fill="#b8ba6c" stroke="#b8ba6c" d="M519.9 229.6L522.2 231.1L524.7 229.7L522.4 228.2ZM522.2 231.1L524.5 232.6L527 231.2L524.7 229.7ZM524.3 235.7L526.7 237.2L529.2 235.7L526.8 234.2ZM524.1 238.7L526.5 240.3L534 235.7L531.7 234.2ZM521.3 243.4L523.7 245L538.9 235.7L536.5 234.2ZM523.7 245L526.1 246.6L541.3 237.2L538.9 235.7ZM523.5 248.2L525.9 249.8L543.7 238.8L541.3 237.2ZM525.9 249.8L528.4 251.5L548.5 238.8L546.1 237.2ZM528.4 251.5L530.8 253.1L548.5 241.9L546.1 240.3ZM530.8 253.1L533.3 254.8L551 243.4L548.5 241.9ZM535.9 253.1L538.4 254.8L553.5 245L551 243.4ZM538.4 254.8L540.9 256.4L555.9 246.6L553.5 245ZM540.9 256.4L543.4 258.1L560.9 246.6L558.4 245ZM543.4 258.1L545.9 259.8L563.4 248.2L560.9 246.6ZM545.9 259.8L548.5 261.5L568.3 248.2L565.8 246.6ZM548.5 261.5L551 263.2L570.9 249.8L568.3 248.2ZM548.4 264.9L551 266.7L575.8 249.8L573.3 248.2ZM551 266.7L553.6 268.4L580.8 249.8L578.2 248.2ZM551 270.2L553.7 272L585.7 249.8L583.1 248.2ZM553.7 272L556.3 273.8L590.6 249.8L588 248.2ZM553.7 275.6L556.4 277.4L595.5 249.8L592.9 248.2ZM559 275.6L561.7 277.4L598.2 251.4L595.5 249.8ZM581.7 263.1L584.4 264.8L600.8 253.1L598.2 251.4ZM589.2 261.4L591.9 263.1L603.5 254.7L600.8 253.1Z"/>
<path fill="#aab075" stroke="#aab075" d="M522.4 228.2L524.7 229.7L527.2 228.2L524.9 226.7ZM524.7 229.7L527 231.2L529.5 229.7L527.2 228.2ZM524.5 232.6L526.8 234.2L531.8 231.2L529.5 229.7ZM526.8 234.2L529.2 235.7L534.2 232.7L531.8 231.2ZM531.7 234.2L534 235.7L539 232.7L536.6 231.2ZM536.5 234.2L538.9 235.7L541.3 234.2L539 232.7ZM538.9 235.7L541.3 237.2L546.2 234.2L543.8 232.7ZM541.3 237.2L543.7 238.8L548.6 235.7L546.2 234.2ZM546.1 237.2L548.5 238.8L553.4 235.7L551 234.2ZM546.1 240.3L548.5 241.9L555.8 237.3L553.4 235.7ZM548.5 241.9L551 243.4L558.3 238.8L555.8 237.3ZM551 243.4L553.5 245L560.7 240.3L558.3 238.8ZM553.5 245L555.9 246.6L565.6 240.4L563.1 238.8ZM558.4 245L560.9 246.6L568.1 241.9L565.6 240.4ZM560.9 246.6L563.4 248.2L572.9 241.9L570.4 240.4ZM565.8 246.6L568.3 248.2L577.8 241.9L575.3 240.4ZM568.3 248.2L570.9 249.8L582.6 241.9L580.1 240.4ZM573.3 248.2L575.8 249.8L585.2 243.5L582.6 241.9ZM578.2 248.2L580.8 249.8L587.7 245.1L585.2 243.5ZM583.1 248.2L585.7 249.8L590.3 246.6L587.7 245.1ZM588 248.2L590.6 249.8L592.9 248.2L590.3 246.6Z"/>
<path fill="#9ca77d" stroke="#9ca77d" d="M524.9 226.7L527.2 228.2L529.6 226.8L527.3 225.3ZM527.2 228.2L529.5 229.7L531.9 228.2L529.6 226.8ZM529.5 229.7L531.8 231.2L534.3 229.7L531.9 228.2ZM531.8 231.2L534.2 232.7L539.1 229.7L536.7 228.2ZM536.6 231.2L539 232.7L541.4 231.2L539.1 229.7ZM539 232.7L541.3 234.2L546.2 231.2L543.8 229.7ZM543.8 232.7L546.2 234.2L551 231.2L548.6 229.8ZM546.2 234.2L548.6 235.7L555.7 231.3L553.3 229.8ZM551 234.2L553.4 235.7L558.1 232.7L555.7 231.3ZM553.4 235.7L555.8 237.3L562.9 232.8L560.5 231.3ZM555.8 237.3L558.3 238.8L565.3 234.3L562.9 232.8ZM558.3 238.8L560.7 240.3L567.8 235.8L565.3 234.3ZM563.1 238.8L565.6 240.4L572.6 235.8L570.1 234.3ZM565.6 240.4L568.1 241.9L575.1 237.3L572.6 235.8ZM570.4 240.4L572.9 241.9L577.6 238.8L575.1 237.3ZM575.3 240.4L577.8 241.9L580.1 240.4L577.6 238.8Z"/>
<path fill="#8e9d86" stroke="#8e9d86" d="M527.3 225.3L529.6 226.8L534.5 223.9L532.2 222.5ZM529.6 226.8L531.9 228.2L534.4 226.8L532.1 225.3ZM531.9 228.2L534.3 229.7L539.1 226.8L536.8 225.3ZM536.7 228.2L539.1 229.7L541.5 228.3L539.1 226.8ZM539.1 229.7L541.4 231.2L546.2 228.3L543.9 226.8ZM543.8 229.7L546.2 231.2L553.3 226.9L550.9 225.4ZM548.6 229.8L551 231.2L558 226.9L555.6 225.4ZM553.3 229.8L555.7 231.3L560.4 228.3L558 226.9ZM555.7 231.3L558.1 232.7L562.8 229.8L560.4 228.3ZM560.5 231.3L562.9 232.8L565.2 231.3L562.8 229.8ZM562.9 232.8L565.3 234.3L567.7 232.8L565.2 231.3ZM565.3 234.3L567.8 235.8L570.1 234.3L567.7 232.8Z"/>
<path fill="#80938e" stroke="#80938e" d="M532.2 222.5L534.5 223.9L536.9 222.5L534.6 221ZM532.1 225.3L534.4 226.8L539.2 223.9L536.9 222.5ZM536.8 225.3L539.1 226.8L541.5 225.4L539.2 223.9ZM539.1 226.8L541.5 228.3L548.6 224L546.3 222.5ZM543.9 226.8L546.2 228.3L555.6 222.6L553.3 221.1ZM550.9 225.4L553.3 226.9L555.6 225.4L553.3 224Z"/>
<path fill="#758b93" stroke="#758b93" d="M534.6 221L536.9 222.5L541.7 219.7L539.4 218.3ZM536.9 222.5L539.2 223.9L544 221.1L541.7 219.7ZM539.2 223.9L541.5 225.4L550.9 219.7L548.6 218.3ZM546.3 222.5L548.6 224L553.3 221.1L550.9 219.7Z"/>
<path fill="#6b8399" stroke="#6b8399" d="M539.4 218.3L541.7 219.7L544 218.3L541.7 216.9ZM541.7 219.7L544 221.1L546.3 219.7L544 218.3Z"/>
<path fill="#d1cc60" stroke="#d1cc60" d="M515.8 249.8L518.3 251.5L520.9 249.8L518.5 248.2ZM515.6 253.1L518 254.8L520.7 253.1L518.3 251.5ZM515.3 256.4L517.7 258.1L523.1 254.8L520.7 253.1ZM517.7 258.1L520.2 259.8L525.6 256.4L523.1 254.8ZM520.2 259.8L522.7 261.5L528 258.1L525.6 256.4ZM525.4 259.8L527.9 261.5L530.5 259.8L528 258.1ZM527.9 261.5L530.4 263.2L535.7 259.8L533.2 258.1ZM533 261.5L535.5 263.2L538.2 261.5L535.7 259.8ZM535.5 263.2L538.1 265L540.7 263.2L538.2 261.5ZM538.1 265L540.6 266.7L543.3 264.9L540.7 263.2ZM540.6 266.7L543.2 268.5L545.8 266.7L543.3 264.9ZM543.2 268.5L545.8 270.2L548.4 268.4L545.8 266.7ZM543.2 272L545.8 273.8L548.4 272L545.8 270.2ZM545.8 273.8L548.4 275.6L551.1 273.8L548.4 272ZM545.7 277.5L548.4 279.3L551.1 277.4L548.4 275.6ZM545.7 281.2L548.4 283L551.1 281.2L548.4 279.3ZM548.4 283L551.1 284.9L553.8 283L551.1 281.2ZM548.4 286.8L551.1 288.8L553.8 286.8L551.1 284.9ZM551.1 288.8L553.8 290.7L556.5 288.7L553.8 286.8Z"/>
<path fill="#dbd45c" stroke="#dbd45c" d="M515 259.8L517.5 261.5L520.2 259.8L517.7 258.1ZM517.5 261.5L520 263.3L522.7 261.5L520.2 259.8ZM522.7 261.5L525.2 263.3L527.9 261.5L525.4 259.8ZM525.2 263.3L527.7 265L530.4 263.2L527.9 261.5ZM530.4 263.2L532.9 265L535.5 263.2L533 261.5ZM532.9 265L535.4 266.7L538.1 265L535.5 263.2ZM535.4 266.7L538 268.5L540.6 266.7L538.1 265ZM538 268.5L540.6 270.2L543.2 268.5L540.6 266.7ZM540.6 270.2L543.2 272L545.8 270.2L543.2 268.5ZM543.1 275.6L545.7 277.5L548.4 275.6L545.8 273.8ZM545.7 285L548.4 286.8L551.1 284.9L548.4 283ZM545.6 288.8L548.3 290.7L551.1 288.8L548.4 286.8Z"/>
<path fill="#e6db58" stroke="#e6db58" d="M514.8 263.3L517.2 265L520 263.3L517.5 261.5ZM517.2 265L519.7 266.8L525.2 263.3L522.7 261.5ZM527.7 265L530.2 266.7L532.9 265L530.4 263.2ZM540.5 273.8L543.1 275.6L545.8 273.8L543.2 272ZM543 279.3L545.7 281.2L548.4 279.3L545.7 277.5ZM543 283.1L545.7 285L548.4 283L545.7 281.2ZM542.9 286.9L545.6 288.8L548.4 286.8L545.7 285Z"/>
<path fill="#fbeb50" stroke="#fbeb50" d="M514.5 266.8L517 268.5L519.7 266.8L517.2 265ZM519.7 266.8L522.2 268.5L525 266.8L522.5 265ZM525 266.8L527.5 268.5L530.2 266.7L527.7 265ZM537.8 275.7L540.4 277.5L543.1 275.6L540.5 273.8ZM540.3 281.2L543 283.1L545.7 281.2L543 279.3ZM540.2 285L542.9 286.9L545.7 285L543 283.1ZM540.2 288.8L542.9 290.8L545.6 288.8L542.9 286.9Z"/>
<path fill="#fadf4b" stroke="#fadf4b" d="M514.2 270.3L516.7 272.1L522.2 268.5L519.7 266.8ZM522.2 268.5L524.8 270.3L527.5 268.5L525 266.8ZM527.5 268.5L530 270.3L532.7 268.5L530.2 266.7ZM530 270.3L532.6 272.1L535.3 270.3L532.7 268.5ZM532.6 272.1L535.2 273.9L537.9 272L535.3 270.3ZM535.2 273.9L537.8 275.7L540.5 273.8L537.9 272ZM537.7 279.4L540.3 281.2L543 279.3L540.4 277.5ZM537.6 283.1L540.2 285L543 283.1L540.3 281.2ZM534.7 288.9L537.4 290.8L542.9 286.9L540.2 285ZM537.4 290.8L540.1 292.7L542.9 290.8L540.2 288.8Z"/>
<path fill="#f0e354" stroke="#f0e354" d="M522.5 265L525 266.8L527.7 265L525.2 263.3ZM530.2 266.7L532.7 268.5L535.4 266.7L532.9 265ZM532.7 268.5L535.3 270.3L538 268.5L535.4 266.7ZM535.3 270.3L537.9 272L540.6 270.2L538 268.5ZM537.9 272L540.5 273.8L543.2 272L540.6 270.2ZM540.4 277.5L543 279.3L545.7 277.5L543.1 275.6Z"/>
<path fill="#f9c642" stroke="#f9c642" d="M513.9 274L516.4 275.8L522 272.1L519.5 270.3ZM527.3 272.1L529.9 273.9L532.6 272.1L530 270.3ZM529.9 273.9L532.5 275.7L535.2 273.9L532.6 272.1ZM532.5 275.7L535.1 277.5L537.8 275.7L535.2 273.9ZM529.4 285.1L532 287L540.3 281.2L537.7 279.4Z"/>
<path fill="#f9d346" stroke="#f9d346" d="M519.5 270.3L522 272.1L524.8 270.3L522.2 268.5ZM524.8 270.3L527.3 272.1L530 270.3L527.5 268.5ZM535.1 277.5L537.7 279.4L540.4 277.5L537.8 275.7ZM532 287L534.7 288.9L540.2 285L537.6 283.1Z"/>
<path fill="#f8ba3d" stroke="#f8ba3d" d="M516.4 275.8L519 277.6L527.3 272.1L524.8 270.3ZM524.6 273.9L527.1 275.7L529.9 273.9L527.3 272.1ZM529.7 277.6L532.3 279.4L535.1 277.5L532.5 275.7ZM526.7 283.2L529.4 285.1L537.7 279.4L535.1 277.5Z"/>
<path fill="#f7ae38" stroke="#f7ae38" d="M519 277.6L521.5 279.4L527.1 275.7L524.6 273.9ZM521.5 279.4L524.1 281.3L532.5 275.7L529.9 273.9ZM524.1 281.3L526.7 283.2L532.3 279.4L529.7 277.6Z"/>
</g>
<path d="M479.9 209.5L519.4 232.3M479.9 209.5L526.6 204.5L588.5 197.7L647 176.2M537.9 161.2L610.3 140.8L627 159.8L647.5 177.2M540.7 164.6L603.5 146.2L627 170.7L640 182.2M610.3 141.3L612.4 162.5L610.3 183L603.5 196.7L594 212.2M558.4 164.6L611.7 182.3L627 189.8L656 200.2M542 169.4L581.6 180.3L611.7 181.6M557 164.6L540.7 180.3L527 200.8L504 232.2M585.7 195.3L609 185.7L627 176.2L647.5 177.2M537.9 161.8L588.5 209L615.7 226.2M534.4 158.4L562 200.2L544 218.3M479.9 209.5L541 167.7M588.5 209.4L627 190.2L662 197.2M647.5 177.2L656 196.2L658 212.2M640 182.2L642 205.2L635.2 228.2M592 222.2L627 200.2L658 204.2M544 218.3L592 232.2L615.7 232.2M572 170.2L607 205.2L632 222.2M603.5 146.2L592 190.2L588.5 209.4" fill="none" stroke="#a4a4a4" stroke-width="0.75" stroke-dasharray="2.6 2"/>
<path d="M479.9 209.5L534.4 158.4L611.8 137.1L651.6 173.5L668.2 201.1L668.2 206M534.4 158.4L588.5 209.4L651.6 173.5M588.5 209.4L588.5 254.5M588.5 209.4L615.7 230.5L668.2 201.1M615.7 230.5L615.7 235.1L668.2 206M534.4 158.4L519.4 232.3M479.9 209.5L517 275.2L519.2 277L538.7 289L557.4 287.7L603.5 254.7L635.2 233.7L652.1 218.1L668.2 206M519.4 232.3L519.2 277M519.4 232.3L556.3 276.8L557.4 287.7M556.3 276.8L538.7 289M556.3 276.8L588.5 254.5L615.7 235.1M519.4 232.3L588.5 254.5M519.4 232.3L588.5 209.4M519.4 232.3L544 218.3L603.5 254.7M525.8 166.7L577.5 212.8M500.2 244.6L526 259.7L556.3 276.8M555.5 274.1L588.5 250.7L615.7 232.8M597.5 250.2L635.2 233.7M595.5 251.7L635.2 228.7L652.1 210L668.2 201.1M635.2 227.9L635.2 233.7M652.1 209.7L652.1 218.1M544 218.3L567 211.7L588.5 209.4" fill="none" stroke="#484848" stroke-width="0.75" stroke-linejoin="round"/>
<clipPath id="w4"><polygon points="77.7,557 101.7,543.4 159.7,578.9 114.8,611 96.5,612.3 77.5,600.6"/></clipPath>
<g clip-path="url(#w4)" stroke-width="0.8" stroke-linejoin="round">
<path fill="#8e9d86" stroke="#8e9d86" d="M73.2 557.3L75.5 558.8L80.4 555.9L78.2 554.4ZM75.5 558.8L77.8 560.3L85.1 555.9L82.9 554.5ZM77.8 560.3L80 561.8L82.5 560.3L80.2 558.8ZM80 561.8L82.3 563.3L84.8 561.8L82.5 560.3ZM82.3 563.3L84.6 564.8L89.5 561.8L87.2 560.3ZM84.6 564.8L86.9 566.3L91.9 563.3L89.5 561.8ZM94.4 558.9L96.7 560.3L99.1 558.9L96.8 557.4ZM86.9 566.3L89.3 567.9L94.2 564.8L91.9 563.3ZM96.7 560.3L99 561.8L103.8 558.9L101.5 557.4ZM89.3 567.9L91.6 569.4L99 564.8L96.6 563.3ZM101.4 560.4L103.8 561.8L108.5 558.9L106.2 557.4ZM103.8 561.8L106.1 563.3L113.2 558.9L110.8 557.5ZM106.1 563.3L108.5 564.9L115.5 560.4L113.2 558.9ZM110.9 563.4L113.3 564.9L117.9 561.9L115.5 560.4ZM113.3 564.9L115.7 566.4L122.6 561.9L120.2 560.4ZM110.9 569.4L113.3 571L115.7 569.4L113.3 567.9ZM115.7 566.4L118.1 567.9L125 563.4L122.6 561.9ZM113.3 571L115.8 572.5L118.2 571L115.7 569.4ZM120.4 566.4L122.8 567.9L127.5 564.9L125 563.4ZM115.8 572.5L118.2 574.1L123 571L120.5 569.4ZM125.2 566.4L127.6 567.9L132.2 564.9L129.7 563.4ZM120.6 572.5L123.1 574.1L125.4 572.6L123 571ZM127.6 567.9L130.1 569.5L134.6 566.4L132.2 564.9ZM130.1 569.5L132.5 571L139.4 566.4L136.9 564.9ZM134.8 569.5L137.3 571L141.8 567.9L139.4 566.4ZM130.4 575.7L132.9 577.3L135.3 575.7L132.7 574.1ZM137.3 571L139.8 572.6L144.3 569.5L141.8 567.9ZM139.8 572.6L142.4 574.1L146.9 571L144.3 569.5Z"/>
<path fill="#80938e" stroke="#80938e" d="M78.2 554.4L80.4 555.9L87.7 551.6L85.5 550.2ZM82.9 554.5L85.1 555.9L92.3 551.6L90.1 550.2ZM85.1 555.9L87.4 557.4L94.6 553.1L92.3 551.6ZM87.4 557.4L89.7 558.8L99.2 553.1L97 551.7ZM92.1 557.4L94.4 558.9L103.9 553.1L101.6 551.7ZM96.8 557.4L99.1 558.9L108.5 553.1L106.2 551.7ZM101.5 557.4L103.8 558.9L113.1 553.1L110.8 551.7ZM106.2 557.4L108.5 558.9L117.7 553.2L115.4 551.7ZM110.8 557.5L113.2 558.9L120 554.6L117.7 553.2ZM113.2 558.9L115.5 560.4L122.4 556L120 554.6ZM115.5 560.4L117.9 561.9L124.8 557.5L122.4 556ZM120.2 560.4L122.6 561.9L127.2 559L124.8 557.5ZM122.6 561.9L125 563.4L129.6 560.4L127.2 559ZM125 563.4L127.5 564.9L132 561.9L129.6 560.4ZM129.7 563.4L132.2 564.9L134.4 563.4L132 561.9ZM132.2 564.9L134.6 566.4L136.9 564.9L134.4 563.4Z"/>
<path fill="#758b93" stroke="#758b93" d="M85.5 550.2L87.7 551.6L94.8 547.5L92.5 546.1ZM90.1 550.2L92.3 551.6L99.4 547.5L97.1 546.1ZM92.3 551.6L94.6 553.1L101.6 548.9L99.4 547.5ZM97 551.7L99.2 553.1L108.5 547.5L106.2 546.1ZM101.6 551.7L103.9 553.1L113 547.5L110.7 546.2ZM106.2 551.7L108.5 553.1L113.1 550.3L110.8 548.9ZM110.8 551.7L113.1 553.1L115.4 551.7L113.1 550.3Z"/>
<path fill="#6b8399" stroke="#6b8399" d="M92.5 546.1L94.8 547.5L101.7 543.4L99.5 542ZM97.1 546.1L99.4 547.5L103.9 544.8L101.7 543.4ZM99.4 547.5L101.6 548.9L108.5 544.8L106.2 543.4ZM106.2 546.1L108.5 547.5L110.7 546.2L108.5 544.8Z"/>
<path fill="#9ca77d" stroke="#9ca77d" d="M73 560.3L75.2 561.8L77.8 560.3L75.5 558.8ZM75.2 561.8L77.5 563.3L80 561.8L77.8 560.3ZM75 564.8L77.3 566.3L82.3 563.3L80 561.8ZM74.8 567.9L77.1 569.4L84.6 564.8L82.3 563.3ZM77.1 569.4L79.4 571L86.9 566.3L84.6 564.8ZM79.4 571L81.7 572.5L89.3 567.9L86.9 566.3ZM79.2 574.1L81.5 575.7L91.6 569.4L89.3 567.9ZM81.5 575.7L83.9 577.3L101.3 566.4L99 564.8ZM83.9 577.3L86.3 578.9L106.1 566.4L103.7 564.8ZM86.3 578.9L88.7 580.6L108.5 567.9L106.1 566.4ZM91.3 578.9L93.7 580.6L110.9 569.4L108.5 567.9ZM93.7 580.6L96.1 582.2L113.3 571L110.9 569.4ZM96.1 582.2L98.6 583.8L115.8 572.5L113.3 571ZM98.6 583.8L101 585.5L118.2 574.1L115.8 572.5ZM101 585.5L103.5 587.2L123.1 574.1L120.6 572.5ZM103.5 587.2L106 588.9L127.9 574.1L125.4 572.6ZM106 588.9L108.6 590.5L130.4 575.7L127.9 574.1ZM106 592.3L108.6 594L132.9 577.3L130.4 575.7ZM108.6 594L111.1 595.7L137.8 577.3L135.3 575.7ZM108.6 597.5L111.2 599.2L142.6 577.3L140.1 575.7ZM142.4 574.1L144.9 575.7L149.4 572.6L146.9 571ZM111.2 599.2L113.8 601L142.9 580.5L140.3 578.9ZM113.8 601L116.4 602.8L133.7 590.5L131.1 588.8ZM116.4 602.8L119 604.6L124.1 601L121.4 599.2Z"/>
<path fill="#ea2804" stroke="#ea2804" d="M80.2 558.8L82.5 560.3L87.4 557.4L85.1 555.9ZM82.5 560.3L84.8 561.8L89.7 558.8L87.4 557.4ZM87.2 560.3L89.5 561.8L94.4 558.9L92.1 557.4ZM89.5 561.8L91.9 563.3L96.7 560.3L94.4 558.9ZM91.9 563.3L94.2 564.8L99 561.8L96.7 560.3ZM96.6 563.3L99 564.8L103.8 561.8L101.4 560.4ZM99 564.8L101.3 566.4L106.1 563.3L103.8 561.8ZM103.7 564.8L106.1 566.4L108.5 564.9L106.1 563.3ZM106.1 566.4L108.5 567.9L113.3 564.9L110.9 563.4ZM108.5 567.9L110.9 569.4L115.7 566.4L113.3 564.9ZM113.3 567.9L115.7 569.4L118.1 567.9L115.7 566.4ZM115.7 569.4L118.2 571L122.8 567.9L120.4 566.4ZM120.5 569.4L123 571L127.6 567.9L125.2 566.4ZM123 571L125.4 572.6L130.1 569.5L127.6 567.9ZM125.4 572.6L127.9 574.1L132.5 571L130.1 569.5ZM127.9 574.1L130.4 575.7L137.3 571L134.8 569.5ZM132.7 574.1L135.3 575.7L139.8 572.6L137.3 571ZM135.3 575.7L137.8 577.3L142.4 574.1L139.8 572.6ZM140.1 575.7L142.6 577.3L144.9 575.7L142.4 574.1ZM142.6 577.3L145.2 578.9L147.5 577.3L144.9 575.7ZM145.2 578.9L147.8 580.5L152.3 577.3L149.7 575.7Z"/>
<path fill="#aab075" stroke="#aab075" d="M74.5 571L76.8 572.5L79.4 571L77.1 569.4ZM74.2 574.1L76.6 575.7L81.7 572.5L79.4 571ZM74 577.3L76.3 578.9L81.5 575.7L79.2 574.1ZM76.3 578.9L78.7 580.6L83.9 577.3L81.5 575.7ZM78.7 580.6L81.1 582.2L86.3 578.9L83.9 577.3ZM81.1 582.2L83.5 583.9L88.7 580.6L86.3 578.9ZM86.1 582.2L88.6 583.9L93.7 580.6L91.3 578.9ZM88.6 583.9L91 585.5L96.1 582.2L93.7 580.6ZM93.6 583.8L96 585.5L98.6 583.8L96.1 582.2ZM96 585.5L98.5 587.2L101 585.5L98.6 583.8ZM98.5 587.2L101 588.9L103.5 587.2L101 585.5ZM101 588.9L103.5 590.6L106 588.9L103.5 587.2ZM100.9 592.3L103.5 594L108.6 590.5L106 588.9ZM103.5 594L106 595.7L108.6 594L106 592.3ZM106 595.7L108.6 597.5L111.1 595.7L108.6 594ZM106 599.3L108.6 601L111.2 599.2L108.6 597.5ZM108.6 601L111.2 602.8L113.8 601L111.2 599.2ZM140.3 578.9L142.9 580.5L145.2 578.9L142.6 577.3ZM108.6 604.7L111.2 606.5L116.4 602.8L113.8 601ZM131.1 588.8L133.7 590.5L145.5 582.1L142.9 580.5ZM111.2 606.5L113.9 608.3L119 604.6L116.4 602.8ZM121.4 599.2L124.1 601L141.1 588.8L138.5 587.1ZM111.2 610.2L113.9 612L136.6 595.6L133.9 593.9Z"/>
<path fill="#b8ba6c" stroke="#b8ba6c" d="M73.7 580.6L76.1 582.2L78.7 580.6L76.3 578.9ZM76.1 582.2L78.5 583.9L81.1 582.2L78.7 580.6ZM78.5 583.9L80.9 585.5L83.5 583.9L81.1 582.2ZM80.9 585.5L83.3 587.2L88.6 583.9L86.1 582.2ZM86 585.5L88.4 587.2L91 585.5L88.6 583.9ZM91 585.5L93.5 587.2L96 585.5L93.6 583.8ZM93.5 587.2L95.9 588.9L98.5 587.2L96 585.5ZM95.9 588.9L98.4 590.6L101 588.9L98.5 587.2ZM98.4 590.6L100.9 592.3L103.5 590.6L101 588.9ZM100.9 595.8L103.4 597.5L106 595.7L103.5 594ZM103.4 597.5L106 599.3L108.6 597.5L106 595.7ZM106 602.9L108.6 604.7L111.2 602.8L108.6 601ZM144.9 575.7L147.5 577.3L151.9 574.1L149.4 572.6ZM142.9 580.5L145.5 582.1L147.8 580.5L145.2 578.9ZM108.6 608.3L111.2 610.2L113.9 608.3L111.2 606.5ZM138.5 587.1L141.1 588.8L148.1 583.7L145.5 582.1ZM133.9 593.9L136.6 595.6L146.1 588.7L143.5 587.1Z"/>
<path fill="#c6c464" stroke="#c6c464" d="M73.5 583.9L75.9 585.5L78.5 583.9L76.1 582.2ZM75.9 585.5L78.3 587.2L80.9 585.5L78.5 583.9ZM78.3 587.2L80.7 588.9L83.3 587.2L80.9 585.5ZM83.3 587.2L85.8 588.9L88.4 587.2L86 585.5ZM88.4 587.2L90.9 588.9L93.5 587.2L91 585.5ZM90.9 588.9L93.3 590.6L95.9 588.9L93.5 587.2ZM93.3 590.6L95.8 592.3L98.4 590.6L95.9 588.9ZM95.8 592.3L98.3 594L100.9 592.3L98.4 590.6ZM98.3 594L100.9 595.8L103.5 594L100.9 592.3ZM103.4 601.1L106 602.9L108.6 601L106 599.3ZM106 606.5L108.6 608.3L111.2 606.5L108.6 604.7ZM149.7 575.7L152.3 577.3L154.5 575.7L151.9 574.1ZM106 610.2L108.6 612.1L111.2 610.2L108.6 608.3ZM108.6 612.1L111.3 613.9L113.9 612L111.2 610.2ZM143.5 587.1L146.1 588.7L148.4 587.1L145.8 585.4ZM154.9 578.9L157.5 580.5L159.7 578.9L157.1 577.3Z"/>
<path fill="#d1cc60" stroke="#d1cc60" d="M73.2 587.2L75.6 588.9L78.3 587.2L75.9 585.5ZM85.8 588.9L88.2 590.6L90.9 588.9L88.4 587.2ZM98.3 597.5L100.8 599.3L103.4 597.5L100.9 595.8ZM100.8 599.3L103.4 601.1L106 599.3L103.4 597.5ZM103.4 604.7L106 606.5L108.6 604.7L106 602.9ZM145.5 582.1L148.1 583.7L150.4 582.1L147.8 580.5ZM145.8 585.4L148.4 587.1L150.7 585.4L148.1 583.7Z"/>
<path fill="#e6db58" stroke="#e6db58" d="M72.9 590.7L75.3 592.4L78 590.6L75.6 588.9ZM78 590.6L80.5 592.4L83.1 590.6L80.7 588.9ZM83.1 590.6L85.6 592.3L88.2 590.6L85.8 588.9ZM98.2 601.1L100.8 602.9L103.4 601.1L100.8 599.3ZM100.7 606.5L103.3 608.4L106 606.5L103.4 604.7ZM150.4 582.1L153 583.7L157.5 580.5L154.9 578.9Z"/>
<path fill="#dbd45c" stroke="#dbd45c" d="M75.6 588.9L78 590.6L80.7 588.9L78.3 587.2ZM80.7 588.9L83.1 590.6L85.8 588.9L83.3 587.2ZM88.2 590.6L90.7 592.3L93.3 590.6L90.9 588.9ZM90.7 592.3L93.2 594L95.8 592.3L93.3 590.6ZM93.2 594L95.7 595.8L98.3 594L95.8 592.3ZM95.7 595.8L98.3 597.5L100.9 595.8L98.3 594ZM100.8 602.9L103.4 604.7L106 602.9L103.4 601.1ZM103.3 608.4L106 610.2L108.6 608.3L106 606.5ZM103.3 612.1L105.9 614L108.6 612.1L106 610.2ZM147.8 580.5L150.4 582.1L157.1 577.3L154.5 575.7ZM148.1 583.7L150.7 585.4L153 583.7L150.4 582.1Z"/>
<path fill="#fbeb50" stroke="#fbeb50" d="M72.6 594.1L75.1 595.9L77.8 594.1L75.3 592.4ZM80.5 592.4L82.9 594.1L85.6 592.3L83.1 590.6ZM90.6 595.8L93.1 597.6L95.7 595.8L93.2 594ZM98.1 604.7L100.7 606.5L103.4 604.7L100.8 602.9ZM98 608.4L100.6 610.3L103.3 608.4L100.7 606.5ZM98 612.1L100.6 614L103.3 612.1L100.6 610.3Z"/>
<path fill="#f0e354" stroke="#f0e354" d="M75.3 592.4L77.8 594.1L80.5 592.4L78 590.6ZM85.6 592.3L88.1 594.1L90.7 592.3L88.2 590.6ZM88.1 594.1L90.6 595.8L93.2 594L90.7 592.3ZM93.1 597.6L95.6 599.3L98.3 597.5L95.7 595.8ZM95.6 599.3L98.2 601.1L100.8 599.3L98.3 597.5ZM100.6 610.3L103.3 612.1L106 610.2L103.3 608.4Z"/>
<path fill="#fadf4b" stroke="#fadf4b" d="M72.3 597.6L74.8 599.4L82.9 594.1L80.5 592.4ZM82.9 594.1L85.4 595.8L88.1 594.1L85.6 592.3ZM95.5 602.9L98.1 604.7L100.8 602.9L98.2 601.1ZM95.4 606.6L98 608.4L100.7 606.5L98.1 604.7ZM95.3 610.3L98 612.1L100.6 610.3L98 608.4ZM95.2 614.1L97.9 616L100.6 614L98 612.1Z"/>
<path fill="#f9d346" stroke="#f9d346" d="M74.8 599.4L77.3 601.2L85.4 595.8L82.9 594.1ZM85.4 595.8L87.9 597.6L90.6 595.8L88.1 594.1ZM87.9 597.6L90.4 599.3L93.1 597.6L90.6 595.8ZM90.4 599.3L93 601.1L95.6 599.3L93.1 597.6ZM93 601.1L95.5 602.9L98.2 601.1L95.6 599.3ZM92.7 608.4L95.3 610.3L98 608.4L95.4 606.6ZM92.6 612.2L95.2 614.1L98 612.1L95.3 610.3Z"/>
<path fill="#f9c642" stroke="#f9c642" d="M77.3 601.2L79.8 603L87.9 597.6L85.4 595.8ZM87.4 608.5L90 610.3L98.1 604.7L95.5 602.9ZM90 610.3L92.6 612.2L95.3 610.3L92.7 608.4Z"/>
<path fill="#f8ba3d" stroke="#f8ba3d" d="M79.8 603L82.3 604.8L90.4 599.3L87.9 597.6ZM82.3 604.8L84.9 606.6L93 601.1L90.4 599.3ZM84.9 606.6L87.4 608.5L95.5 602.9L93 601.1Z"/>
</g>
<path d="M39.2 534.8L77.7 557M39.2 534.8L84.7 529.9L145.1 523.3L202.1 502.3M95.8 487.7L166.3 467.8L182.6 486.3L202.6 503.3M98.5 491L159.7 473.1L182.6 497L195.3 508.2M166.3 468.3L168.4 489L166.3 509L159.7 522.3L150.4 537.4M115.7 491L167.7 508.3L182.6 515.6L210.9 525.7M99.7 495.7L138.4 506.3L167.7 507.6M114.4 491L98.5 506.3L85.1 526.3L62.7 556.9M142.4 521L165.1 511.6L182.6 502.3L202.6 503.3M95.8 488.3L145.1 534.3L171.6 551.1M92.3 485L119.2 525.7L101.7 543.4M39.2 534.8L98.8 494M145.1 534.7L182.6 516L216.7 522.8M202.6 503.3L210.9 521.8L212.8 537.4M195.3 508.2L197.2 530.6L190.6 553M148.5 547.2L182.6 525.7L212.8 529.6M101.7 543.4L148.5 556.9L171.6 556.9M129 496.5L163.1 530.6L187.5 547.2M159.7 473.1L148.5 516L145.1 534.7" fill="none" stroke="#a4a4a4" stroke-width="0.75" stroke-dasharray="2.6 2"/>
<path d="M39.2 534.8L92.3 485L167.8 464.2L206.6 499.7L222.8 526.6L222.8 531.4M92.3 485L145.1 534.7L206.6 499.7M145.1 534.7L145.1 578.7M145.1 534.7L171.6 555.3L222.8 526.6M171.6 555.3L171.6 559.8L222.8 531.4M92.3 485L77.7 557M39.2 534.8L75.4 598.9L77.5 600.6L96.5 612.3L114.8 611L159.7 578.9L190.6 558.4L207.1 543.2L222.8 531.4M77.7 557L77.5 600.6M77.7 557L113.7 600.4L114.8 611M113.7 600.4L96.5 612.3M113.7 600.4L145.1 578.7L171.6 559.8M77.7 557L145.1 578.7M77.7 557L145.1 534.7M77.7 557L101.7 543.4L159.7 578.9M84 493.1L134.4 538M59 569L84.1 583.7L113.7 600.4M112.9 597.8L145.1 575L171.6 557.5M153.9 574.5L190.6 558.4M151.9 575.9L190.6 553.5L207.1 535.3L222.8 526.6M190.6 552.7L190.6 558.4M207.1 535L207.1 543.2M101.7 543.4L124.1 536.9L145.1 534.7" fill="none" stroke="#484848" stroke-width="0.75" stroke-linejoin="round"/>
<clipPath id="w5"><polygon points="291.5,557.5 315.5,543.9 373.5,579.4 328.6,611.5 310.3,612.8 291.3,601.1"/></clipPath>
<g clip-path="url(#w5)" stroke-width="0.8" stroke-linejoin="round">
<path fill="#b8ba6c" stroke="#b8ba6c" d="M287 557.8L289.3 559.3L294.2 556.4L292 554.9ZM286.8 560.8L289 562.3L296.5 557.9L294.2 556.4ZM289 562.3L291.3 563.8L298.8 559.3L296.5 557.9ZM288.8 565.3L291.1 566.8L298.6 562.3L296.3 560.8ZM288.6 568.4L290.9 569.9L293.4 568.4L291.1 566.8ZM288.3 571.5L290.6 573L293.2 571.5L290.9 569.9ZM288 574.6L290.4 576.2L293 574.6L290.6 573ZM287.8 577.8L290.1 579.4L295.3 576.2L293 574.6ZM287.5 581.1L289.9 582.7L295.1 579.4L292.8 577.8ZM289.9 582.7L292.3 584.4L297.5 581.1L295.1 579.4ZM292.3 584.4L294.7 586L299.9 582.7L297.5 581.1ZM297.3 584.4L299.8 586L304.9 582.7L302.5 581.1ZM302.4 584.4L304.8 586L309.9 582.7L307.5 581.1ZM304.8 586L307.3 587.7L312.4 584.3L309.9 582.7ZM309.8 586L312.3 587.7L314.8 586L312.4 584.3ZM309.7 589.4L312.2 591.1L317.3 587.7L314.8 586ZM312.2 591.1L314.7 592.8L317.3 591.1L314.8 589.4ZM314.7 592.8L317.3 594.5L319.8 592.8L317.3 591.1ZM317.3 594.5L319.8 596.2L322.4 594.5L319.8 592.8ZM317.2 598L319.8 599.8L322.4 598L319.8 596.2ZM319.8 603.4L322.4 605.2L325 603.3L322.4 601.5ZM322.4 605.2L325 607L327.6 605.1L325 603.3ZM322.4 608.8L325 610.7L327.7 608.8L325 607ZM325 610.7L327.7 612.5L330.3 610.6L327.7 608.8Z"/>
<path fill="#aab075" stroke="#aab075" d="M292 554.9L294.2 556.4L296.7 555L294.4 553.5ZM294.2 556.4L296.5 557.9L298.9 556.4L296.7 555ZM296.3 560.8L298.6 562.3L301 560.8L298.8 559.3ZM291.1 566.8L293.4 568.4L305.8 560.8L303.5 559.3ZM290.9 569.9L293.2 571.5L308.1 562.3L305.8 560.8ZM290.6 573L293 574.6L310.4 563.8L308.1 562.3ZM293 574.6L295.3 576.2L310.3 566.9L308 565.3ZM292.8 577.8L295.1 579.4L302.8 574.6L300.4 573ZM295.1 579.4L297.5 581.1L305.2 576.2L302.8 574.6ZM297.5 581.1L299.9 582.7L310.1 576.2L307.7 574.6ZM302.5 581.1L304.9 582.7L312.5 577.8L310.1 576.2ZM307.5 581.1L309.9 582.7L314.9 579.4L312.5 577.8ZM309.9 582.7L312.4 584.3L317.4 581L314.9 579.4ZM312.4 584.3L314.8 586L319.9 582.7L317.4 581ZM314.8 586L317.3 587.7L322.3 584.3L319.9 582.7ZM314.8 589.4L317.3 591.1L324.8 586L322.3 584.3ZM317.3 591.1L319.8 592.8L327.4 587.6L324.8 586ZM319.8 592.8L322.4 594.5L327.4 591L324.9 589.3ZM319.8 596.2L322.4 598L330 592.7L327.4 591ZM334.8 586L337.4 587.6L344.6 582.6L342 581ZM319.8 599.8L322.4 601.5L349.5 582.6L346.9 581ZM322.4 601.5L325 603.3L354.4 582.6L351.8 581ZM325 603.3L327.6 605.1L359.3 582.6L356.7 581ZM325 607L327.7 608.8L366.4 581L363.8 579.4ZM327.7 608.8L330.3 610.6L369 582.6L366.4 581Z"/>
<path fill="#9ca77d" stroke="#9ca77d" d="M294.4 553.5L296.7 555L299.1 553.5L296.9 552.1ZM296.7 555L298.9 556.4L301.3 555L299.1 553.5ZM296.5 557.9L298.8 559.3L301.2 557.9L298.9 556.4ZM298.8 559.3L301 560.8L305.9 557.9L303.6 556.4ZM303.5 559.3L305.8 560.8L308.2 559.4L305.9 557.9ZM305.8 560.8L308.1 562.3L312.9 559.4L310.6 557.9ZM308.1 562.3L310.4 563.8L315.2 560.9L312.9 559.4ZM308 565.3L310.3 566.9L319.9 560.9L317.6 559.4ZM300.4 573L302.8 574.6L322.3 562.4L319.9 560.9ZM302.8 574.6L305.2 576.2L324.7 563.9L322.3 562.4ZM307.7 574.6L310.1 576.2L327.1 565.4L324.7 563.9ZM310.1 576.2L312.5 577.8L329.5 566.9L327.1 565.4ZM312.5 577.8L314.9 579.4L331.9 568.4L329.5 566.9ZM314.9 579.4L317.4 581L336.6 568.4L334.2 566.9ZM317.4 581L319.9 582.7L341.4 568.4L339 566.9ZM319.9 582.7L322.3 584.3L343.9 570L341.4 568.4ZM322.3 584.3L324.8 586L348.6 570L346.2 568.4ZM324.8 586L327.4 587.6L353.4 570L350.9 568.4ZM324.9 589.3L327.4 591L358.1 570L355.6 568.4ZM327.4 591L330 592.7L337.4 587.6L334.8 586ZM342 581L344.6 582.6L360.7 571.5L358.1 570ZM346.9 581L349.5 582.6L363.2 573.1L360.7 571.5ZM351.8 581L354.4 582.6L365.7 574.6L363.2 573.1ZM356.7 581L359.3 582.6L368.3 576.2L365.7 574.6ZM363.8 579.4L366.4 581L370.9 577.8L368.3 576.2ZM366.4 581L369 582.6L373.5 579.4L370.9 577.8Z"/>
<path fill="#8e9d86" stroke="#8e9d86" d="M296.9 552.1L299.1 553.5L301.5 552.1L299.3 550.7ZM299.1 553.5L301.3 555L303.7 553.6L301.5 552.1ZM298.9 556.4L301.2 557.9L306 555L303.7 553.6ZM303.6 556.4L305.9 557.9L308.3 556.4L306 555ZM305.9 557.9L308.2 559.4L313 556.5L310.7 555ZM310.6 557.9L312.9 559.4L317.6 556.5L315.3 555ZM312.9 559.4L315.2 560.9L320 557.9L317.6 556.5ZM317.6 559.4L319.9 560.9L324.6 558L322.3 556.5ZM319.9 560.9L322.3 562.4L329.3 558L326.9 556.5ZM322.3 562.4L324.7 563.9L331.6 559.4L329.3 558ZM324.7 563.9L327.1 565.4L334 560.9L331.6 559.4ZM327.1 565.4L329.5 566.9L338.7 560.9L336.3 559.4ZM329.5 566.9L331.9 568.4L341.1 562.4L338.7 560.9ZM334.2 566.9L336.6 568.4L345.8 562.4L343.4 560.9ZM339 566.9L341.4 568.4L348.2 563.9L345.8 562.4ZM341.4 568.4L343.9 570L350.7 565.4L348.2 563.9ZM346.2 568.4L348.6 570L353.2 566.9L350.7 565.4ZM350.9 568.4L353.4 570L355.6 568.4L353.2 566.9Z"/>
<path fill="#80938e" stroke="#80938e" d="M299.3 550.7L301.5 552.1L306.2 549.3L304 547.9ZM301.5 552.1L303.7 553.6L308.5 550.7L306.2 549.3ZM303.7 553.6L306 555L310.8 552.2L308.5 550.7ZM306 555L308.3 556.4L313 553.6L310.8 552.2ZM310.7 555L313 556.5L317.7 553.6L315.4 552.2ZM315.3 555L317.6 556.5L324.6 552.2L322.3 550.8ZM317.6 556.5L320 557.9L329.2 552.2L326.9 550.8ZM322.3 556.5L324.6 558L331.5 553.7L329.2 552.2ZM326.9 556.5L329.3 558L333.8 555.1L331.5 553.7ZM329.3 558L331.6 559.4L336.2 556.5L333.8 555.1ZM331.6 559.4L334 560.9L338.6 558L336.2 556.5ZM336.3 559.4L338.7 560.9L341 559.5L338.6 558ZM338.7 560.9L341.1 562.4L343.4 560.9L341 559.5Z"/>
<path fill="#758b93" stroke="#758b93" d="M304 547.9L306.2 549.3L310.9 546.6L308.7 545.2ZM306.2 549.3L308.5 550.7L310.8 549.4L308.6 548ZM308.5 550.7L310.8 552.2L315.4 549.4L313.2 548ZM310.8 552.2L313 553.6L322.3 548L320 546.6ZM315.4 552.2L317.7 553.6L326.8 548L324.5 546.7ZM322.3 550.8L324.6 552.2L326.9 550.8L324.6 549.4Z"/>
<path fill="#6b8399" stroke="#6b8399" d="M308.7 545.2L310.9 546.6L315.5 543.9L313.3 542.5ZM308.6 548L310.8 549.4L317.7 545.3L315.5 543.9ZM313.2 548L315.4 549.4L322.3 545.3L320 543.9ZM320 546.6L322.3 548L324.5 546.7L322.3 545.3Z"/>
<path fill="#c6c464" stroke="#c6c464" d="M287.3 584.4L289.7 586L292.3 584.4L289.9 582.7ZM289.7 586L292.1 587.7L294.7 586L292.3 584.4ZM294.7 586L297.1 587.7L299.8 586L297.3 584.4ZM299.8 586L302.2 587.7L304.8 586L302.4 584.4ZM307.3 587.7L309.7 589.4L312.3 587.7L309.8 586ZM307.1 591.1L309.6 592.8L312.2 591.1L309.7 589.4ZM309.6 592.8L312.1 594.5L314.7 592.8L312.2 591.1ZM312.1 594.5L314.7 596.3L317.3 594.5L314.7 592.8ZM314.7 596.3L317.2 598L319.8 596.2L317.3 594.5ZM317.2 601.6L319.8 603.4L322.4 601.5L319.8 599.8ZM319.8 607L322.4 608.8L325 607L322.4 605.2ZM322.4 612.6L325.1 614.4L327.7 612.5L325 610.7Z"/>
<path fill="#d1cc60" stroke="#d1cc60" d="M287 587.7L289.4 589.4L292.1 587.7L289.7 586ZM292.1 587.7L294.5 589.4L297.1 587.7L294.7 586ZM297.1 587.7L299.6 589.4L302.2 587.7L299.8 586ZM302.2 587.7L304.7 589.4L307.3 587.7L304.8 586ZM304.7 589.4L307.1 591.1L309.7 589.4L307.3 587.7ZM312.1 598L314.6 599.8L317.2 598L314.7 596.3ZM314.6 599.8L317.2 601.6L319.8 599.8L317.2 598ZM317.2 605.2L319.8 607L322.4 605.2L319.8 603.4ZM319.8 610.7L322.4 612.6L325 610.7L322.4 608.8Z"/>
<path fill="#e6db58" stroke="#e6db58" d="M286.7 591.2L289.1 592.9L291.8 591.1L289.4 589.4ZM294.5 589.4L296.9 591.1L299.6 589.4L297.1 587.7ZM306.9 598.1L309.4 599.8L312.1 598L309.5 596.3ZM309.4 599.8L312 601.6L314.6 599.8L312.1 598ZM312 601.6L314.6 603.4L317.2 601.6L314.6 599.8ZM314.5 607L317.1 608.9L319.8 607L317.2 605.2ZM314.4 610.8L317.1 612.6L319.8 610.7L317.1 608.9Z"/>
<path fill="#dbd45c" stroke="#dbd45c" d="M289.4 589.4L291.8 591.1L294.5 589.4L292.1 587.7ZM299.6 589.4L302 591.1L304.7 589.4L302.2 587.7ZM302 591.1L304.5 592.8L307.1 591.1L304.7 589.4ZM304.5 592.8L307 594.5L309.6 592.8L307.1 591.1ZM307 594.5L309.5 596.3L312.1 594.5L309.6 592.8ZM309.5 596.3L312.1 598L314.7 596.3L312.1 594.5ZM314.6 603.4L317.2 605.2L319.8 603.4L317.2 601.6ZM317.1 608.9L319.8 610.7L322.4 608.8L319.8 607ZM317.1 612.6L319.7 614.5L322.4 612.6L319.8 610.7Z"/>
<path fill="#fbeb50" stroke="#fbeb50" d="M286.4 594.6L288.9 596.4L291.6 594.6L289.1 592.9ZM286.1 598.1L288.6 599.9L299.4 592.8L296.9 591.1ZM296.7 594.6L299.2 596.3L301.9 594.6L299.4 592.8ZM299.2 596.3L301.7 598.1L304.4 596.3L301.9 594.6ZM301.7 598.1L304.2 599.8L306.9 598.1L304.4 596.3ZM304.2 599.8L306.8 601.6L309.4 599.8L306.9 598.1ZM306.8 601.6L309.3 603.4L312 601.6L309.4 599.8ZM309.3 603.4L311.9 605.2L314.6 603.4L312 601.6ZM309.2 607.1L311.8 608.9L314.5 607L311.9 605.2ZM309.1 610.8L311.8 612.6L314.4 610.8L311.8 608.9ZM309 614.6L311.7 616.5L314.4 614.5L311.8 612.6Z"/>
<path fill="#f0e354" stroke="#f0e354" d="M289.1 592.9L291.6 594.6L296.9 591.1L294.5 589.4ZM296.9 591.1L299.4 592.8L302 591.1L299.6 589.4ZM299.4 592.8L301.9 594.6L304.5 592.8L302 591.1ZM301.9 594.6L304.4 596.3L307 594.5L304.5 592.8ZM304.4 596.3L306.9 598.1L309.5 596.3L307 594.5ZM311.9 605.2L314.5 607L317.2 605.2L314.6 603.4ZM311.8 608.9L314.4 610.8L317.1 608.9L314.5 607ZM311.8 612.6L314.4 614.5L317.1 612.6L314.4 610.8Z"/>
<path fill="#fadf4b" stroke="#fadf4b" d="M288.6 599.9L291.1 601.7L299.2 596.3L296.7 594.6ZM291.1 601.7L293.6 603.5L301.7 598.1L299.2 596.3ZM296.3 601.7L298.9 603.5L304.2 599.8L301.7 598.1ZM298.9 603.5L301.4 605.3L306.8 601.6L304.2 599.8ZM298.7 607.1L301.2 609L309.3 603.4L306.8 601.6ZM301.2 609L303.8 610.8L311.9 605.2L309.3 603.4ZM303.8 610.8L306.4 612.7L311.8 608.9L309.2 607.1ZM306.4 612.7L309 614.6L311.8 612.6L309.1 610.8Z"/>
<path fill="#f9d346" stroke="#f9d346" d="M293.6 603.5L296.1 605.3L298.9 603.5L296.3 601.7ZM296.1 605.3L298.7 607.1L301.4 605.3L298.9 603.5Z"/>
</g>
<path d="M253 535.3L291.5 557.5M253 535.3L298.5 530.4L358.9 523.8L415.9 502.8M309.6 488.2L380.1 468.3L396.4 486.8L416.4 503.8M312.3 491.5L373.5 473.6L396.4 497.5L409.1 508.7M380.1 468.8L382.2 489.5L380.1 509.5L373.5 522.8L364.2 537.9M329.5 491.5L381.5 508.8L396.4 516.1L424.7 526.2M313.5 496.2L352.2 506.8L381.5 508.1M328.2 491.5L312.3 506.8L298.9 526.8L276.5 557.4M356.2 521.5L378.9 512.1L396.4 502.8L416.4 503.8M309.6 488.8L358.9 534.8L385.4 551.6M306.1 485.5L333 526.2L315.5 543.9M253 535.3L312.6 494.5M358.9 535.2L396.4 516.5L430.5 523.3M416.4 503.8L424.7 522.3L426.6 537.9M409.1 508.7L411 531.1L404.4 553.5M362.3 547.7L396.4 526.2L426.6 530.1M315.5 543.9L362.3 557.4L385.4 557.4M342.8 497L376.9 531.1L401.3 547.7M373.5 473.6L362.3 516.5L358.9 535.2" fill="none" stroke="#a4a4a4" stroke-width="0.75" stroke-dasharray="2.6 2"/>
<path d="M253 535.3L306.1 485.5L381.6 464.7L420.4 500.2L436.6 527.1L436.6 531.9M306.1 485.5L358.9 535.2L420.4 500.2M358.9 535.2L358.9 579.2M358.9 535.2L385.4 555.8L436.6 527.1M385.4 555.8L385.4 560.3L436.6 531.9M306.1 485.5L291.5 557.5M253 535.3L289.2 599.4L291.3 601.1L310.3 612.8L328.6 611.5L373.5 579.4L404.4 558.9L420.9 543.7L436.6 531.9M291.5 557.5L291.3 601.1M291.5 557.5L327.5 600.9L328.6 611.5M327.5 600.9L310.3 612.8M327.5 600.9L358.9 579.2L385.4 560.3M291.5 557.5L358.9 579.2M291.5 557.5L358.9 535.2M291.5 557.5L315.5 543.9L373.5 579.4M297.8 493.6L348.2 538.5M272.8 569.5L297.9 584.2L327.5 600.9M326.7 598.3L358.9 575.5L385.4 558M367.7 575L404.4 558.9M365.7 576.4L404.4 554L420.9 535.8L436.6 527.1M404.4 553.2L404.4 558.9M420.9 535.5L420.9 543.7M315.5 543.9L337.9 537.4L358.9 535.2" fill="none" stroke="#484848" stroke-width="0.75" stroke-linejoin="round"/>
<clipPath id="w6"><polygon points="505.7,558 529.7,544.4 587.7,579.9 542.8,612 524.5,613.3 505.5,601.6"/></clipPath>
<g clip-path="url(#w6)" stroke-width="0.8" stroke-linejoin="round">
<path fill="#758b93" stroke="#758b93" d="M501.2 558.3L503.5 559.8L506 558.3L503.7 556.9ZM501 561.3L503.2 562.8L508.2 559.8L506 558.3ZM503.2 562.8L505.5 564.3L510.5 561.3L508.2 559.8ZM503 565.8L505.3 567.3L515.2 561.3L513 559.8ZM502.8 568.9L505.1 570.4L517.5 562.8L515.2 561.3ZM502.5 572L504.8 573.5L522.3 562.8L520 561.3ZM504.8 573.5L507.2 575.1L527 562.8L524.7 561.3ZM507.2 575.1L509.5 576.7L531.8 562.8L529.4 561.4ZM509.5 576.7L511.9 578.3L534.1 564.3L531.8 562.8ZM511.9 578.3L514.3 579.9L538.9 564.4L536.5 562.9ZM516.8 578.3L519.3 579.9L541.3 565.9L538.9 564.4ZM519.3 579.9L521.7 581.6L546 565.9L543.6 564.4ZM521.7 581.6L524.1 583.2L550.7 565.9L548.3 564.4ZM524.1 583.2L526.6 584.8L553.2 567.4L550.7 565.9ZM526.6 584.8L529 586.5L557.9 567.4L555.5 565.9ZM529 586.5L531.5 588.2L560.4 568.9L557.9 567.4ZM529 589.9L531.5 591.6L562.8 570.5L560.4 568.9ZM531.5 591.6L534 593.3L565.3 572L562.8 570.5ZM534 593.3L536.6 595L570.1 572L567.6 570.5ZM534 596.7L536.6 598.5L572.6 573.6L570.1 572ZM534 600.3L536.6 602L577.4 573.6L574.9 572ZM536.6 602L539.2 603.8L579.9 575.1L577.4 573.6ZM539.2 603.8L541.8 605.6L582.5 576.7L579.9 575.1ZM559.3 593.2L561.9 594.9L585.1 578.3L582.5 576.7ZM566.7 591.5L569.4 593.1L587.7 579.9L585.1 578.3Z"/>
<path fill="#6b8399" stroke="#6b8399" d="M503.7 556.9L506 558.3L520.4 549.8L518.2 548.4ZM506 558.3L508.2 559.8L525 549.9L522.8 548.5ZM508.2 559.8L510.5 561.3L527.3 551.3L525 549.9ZM513 559.8L515.2 561.3L529.6 552.7L527.3 551.3ZM515.2 561.3L517.5 562.8L534.2 552.7L531.9 551.3ZM520 561.3L522.3 562.8L538.8 552.7L536.5 551.3ZM524.7 561.3L527 562.8L543.4 552.7L541.1 551.3ZM529.4 561.4L531.8 562.8L545.7 554.2L543.4 552.7ZM531.8 562.8L534.1 564.3L548 555.6L545.7 554.2ZM536.5 562.9L538.9 564.4L550.4 557L548 555.6ZM538.9 564.4L541.3 565.9L552.8 558.5L550.4 557ZM543.6 564.4L546 565.9L555.2 560L552.8 558.5ZM548.3 564.4L550.7 565.9L557.6 561.4L555.2 560ZM550.7 565.9L553.2 567.4L560 562.9L557.6 561.4ZM555.5 565.9L557.9 567.4L562.4 564.4L560 562.9ZM557.9 567.4L560.4 568.9L564.9 565.9L562.4 564.4ZM560.4 568.9L562.8 570.5L567.4 567.4L564.9 565.9ZM562.8 570.5L565.3 572L569.8 568.9L567.4 567.4ZM567.6 570.5L570.1 572L572.3 570.5L569.8 568.9ZM570.1 572L572.6 573.6L574.9 572L572.3 570.5Z"/>
<path fill="#607b9e" stroke="#607b9e" d="M518.2 548.4L520.4 549.8L529.7 544.4L527.5 543ZM522.8 548.5L525 549.9L531.9 545.8L529.7 544.4ZM525 549.9L527.3 551.3L536.5 545.8L534.2 544.4ZM527.3 551.3L529.6 552.7L538.7 547.2L536.5 545.8ZM531.9 551.3L534.2 552.7L541 548.5L538.7 547.2ZM536.5 551.3L538.8 552.7L541.1 551.3L538.8 549.9Z"/>
<path fill="#80938e" stroke="#80938e" d="M502.2 575.1L504.6 576.7L507.2 575.1L504.8 573.5ZM502 578.3L504.3 579.9L509.5 576.7L507.2 575.1ZM501.7 581.6L504.1 583.2L511.9 578.3L509.5 576.7ZM504.1 583.2L506.5 584.9L514.3 579.9L511.9 578.3ZM506.5 584.9L508.9 586.5L519.3 579.9L516.8 578.3ZM514.1 583.2L516.6 584.9L521.7 581.6L519.3 579.9ZM516.6 584.9L519 586.5L524.1 583.2L521.7 581.6ZM519 586.5L521.5 588.2L526.6 584.8L524.1 583.2ZM521.5 588.2L523.9 589.9L529 586.5L526.6 584.8ZM523.9 589.9L526.4 591.6L531.5 588.2L529 586.5ZM523.8 593.3L526.3 595L531.5 591.6L529 589.9ZM526.3 595L528.9 596.8L534 593.3L531.5 591.6ZM528.9 596.8L531.4 598.5L536.6 595L534 593.3ZM531.4 598.5L534 600.3L536.6 598.5L534 596.7ZM531.4 602.1L534 603.9L536.6 602L534 600.3ZM531.4 605.7L534 607.5L539.2 603.8L536.6 602ZM531.3 609.4L534 611.2L541.8 605.6L539.2 603.8ZM534 611.2L536.6 613.1L561.9 594.9L559.3 593.2ZM536.6 613.1L539.3 614.9L569.4 593.1L566.7 591.5Z"/>
<path fill="#8e9d86" stroke="#8e9d86" d="M501.5 584.9L503.9 586.5L506.5 584.9L504.1 583.2ZM501.2 588.2L503.6 589.9L508.9 586.5L506.5 584.9ZM506.3 588.2L508.7 589.9L516.6 584.9L514.1 583.2ZM514 586.5L516.4 588.2L519 586.5L516.6 584.9ZM516.4 588.2L518.9 589.9L521.5 588.2L519 586.5ZM518.9 589.9L521.3 591.6L523.9 589.9L521.5 588.2ZM521.3 591.6L523.8 593.3L526.4 591.6L523.9 589.9ZM523.7 596.8L526.3 598.5L528.9 596.8L526.3 595ZM526.3 598.5L528.8 600.3L531.4 598.5L528.9 596.8ZM528.8 600.3L531.4 602.1L534 600.3L531.4 598.5ZM528.8 603.9L531.4 605.7L534 603.9L531.4 602.1ZM528.7 607.5L531.3 609.4L534 607.5L531.4 605.7ZM528.6 611.3L531.3 613.1L534 611.2L531.3 609.4ZM531.3 613.1L533.9 615L536.6 613.1L534 611.2Z"/>
<path fill="#aab075" stroke="#aab075" d="M500.9 591.7L503.3 593.4L506 591.6L503.6 589.9ZM503.3 593.4L505.8 595.1L511.1 591.6L508.7 589.9ZM511.1 591.6L513.6 593.3L516.2 591.6L513.8 589.9ZM518.6 596.8L521.1 598.6L523.7 596.8L521.2 595ZM521.1 598.6L523.6 600.3L526.3 598.5L523.7 596.8ZM523.5 603.9L526.1 605.7L528.8 603.9L526.2 602.1ZM520.7 609.4L523.3 611.3L528.7 607.5L526.1 605.7ZM520.6 613.2L523.2 615.1L528.6 611.3L526 609.4ZM523.2 615.1L525.9 617L528.6 615L526 613.1Z"/>
<path fill="#9ca77d" stroke="#9ca77d" d="M503.6 589.9L506 591.6L508.7 589.9L506.3 588.2ZM508.7 589.9L511.1 591.6L516.4 588.2L514 586.5ZM513.8 589.9L516.2 591.6L518.9 589.9L516.4 588.2ZM516.2 591.6L518.7 593.3L521.3 591.6L518.9 589.9ZM518.7 593.3L521.2 595L523.8 593.3L521.3 591.6ZM521.2 595L523.7 596.8L526.3 595L523.8 593.3ZM523.6 600.3L526.2 602.1L528.8 600.3L526.3 598.5ZM526.2 602.1L528.8 603.9L531.4 602.1L528.8 600.3ZM526.1 605.7L528.7 607.5L531.4 605.7L528.8 603.9ZM526 609.4L528.6 611.3L531.3 609.4L528.7 607.5ZM526 613.1L528.6 615L531.3 613.1L528.6 611.3Z"/>
<path fill="#b8ba6c" stroke="#b8ba6c" d="M500.6 595.1L503.1 596.9L505.8 595.1L503.3 593.4ZM500.3 598.6L502.8 600.4L513.6 593.3L511.1 591.6ZM513.6 593.3L516.1 595.1L518.7 593.3L516.2 591.6ZM516.1 595.1L518.6 596.8L521.2 595L518.7 593.3ZM521 602.1L523.5 603.9L526.2 602.1L523.6 600.3ZM515.4 609.5L518 611.3L526.1 605.7L523.5 603.9ZM518 611.3L520.6 613.2L523.3 611.3L520.7 609.4Z"/>
<path fill="#c6c464" stroke="#c6c464" d="M502.8 600.4L505.3 602.2L516.1 595.1L513.6 593.3ZM505.3 602.2L507.8 604L510.5 602.2L508 600.4ZM513.4 596.8L515.9 598.6L518.6 596.8L516.1 595.1ZM515.9 598.6L518.4 600.3L521.1 598.6L518.6 596.8ZM510.3 605.8L512.9 607.6L523.6 600.3L521.1 598.6ZM512.9 607.6L515.4 609.5L523.5 603.9L521 602.1Z"/>
<path fill="#d1cc60" stroke="#d1cc60" d="M508 600.4L510.5 602.2L515.9 598.6L513.4 596.8ZM507.8 604L510.3 605.8L518.4 600.3L515.9 598.6Z"/>
</g>
<path d="M467.2 535.8L505.7 558M467.2 535.8L512.7 530.9L573.1 524.3L630.1 503.3M523.8 488.7L594.3 468.8L610.6 487.3L630.6 504.3M526.5 492L587.7 474.1L610.6 498L623.3 509.2M594.3 469.3L596.4 490L594.3 510L587.7 523.3L578.4 538.4M543.7 492L595.7 509.3L610.6 516.6L638.9 526.7M527.7 496.7L566.4 507.3L595.7 508.6M542.4 492L526.5 507.3L513.1 527.3L490.7 557.9M570.4 522L593.1 512.6L610.6 503.3L630.6 504.3M523.8 489.3L573.1 535.3L599.6 552.1M520.3 486L547.2 526.7L529.7 544.4M467.2 535.8L526.8 495M573.1 535.7L610.6 517L644.7 523.8M630.6 504.3L638.9 522.8L640.8 538.4M623.3 509.2L625.2 531.6L618.6 554M576.5 548.2L610.6 526.7L640.8 530.6M529.7 544.4L576.5 557.9L599.6 557.9M557 497.5L591.1 531.6L615.5 548.2M587.7 474.1L576.5 517L573.1 535.7" fill="none" stroke="#a4a4a4" stroke-width="0.75" stroke-dasharray="2.6 2"/>
<path d="M467.2 535.8L520.3 486L595.8 465.2L634.6 500.7L650.8 527.6L650.8 532.4M520.3 486L573.1 535.7L634.6 500.7M573.1 535.7L573.1 579.7M573.1 535.7L599.6 556.3L650.8 527.6M599.6 556.3L599.6 560.8L650.8 532.4M520.3 486L505.7 558M467.2 535.8L503.4 599.9L505.5 601.6L524.5 613.3L542.8 612L587.7 579.9L618.6 559.4L635.1 544.2L650.8 532.4M505.7 558L505.5 601.6M505.7 558L541.7 601.4L542.8 612M541.7 601.4L524.5 613.3M541.7 601.4L573.1 579.7L599.6 560.8M505.7 558L573.1 579.7M505.7 558L573.1 535.7M505.7 558L529.7 544.4L587.7 579.9M512 494.1L562.4 539M487 570L512.1 584.7L541.7 601.4M540.9 598.8L573.1 576L599.6 558.5M581.9 575.5L618.6 559.4M579.9 576.9L618.6 554.5L635.1 536.3L650.8 527.6M618.6 553.7L618.6 559.4M635.1 536L635.1 544.2M529.7 544.4L552.1 537.9L573.1 535.7" fill="none" stroke="#484848" stroke-width="0.75" stroke-linejoin="round"/>
<rect x="18.9" y="690.9" width="235.4" height="245.5" fill="#000"/>
<clipPath id="fc1"><circle cx="136.6" cy="819.2" r="117.4"/></clipPath>
<defs><radialGradient id="f1floor" cx="150" cy="840" r="120" gradientUnits="userSpaceOnUse"><stop offset="0" stop-color="#5c5c5c"/><stop offset="0.6" stop-color="#626262"/><stop offset="1" stop-color="#727272"/></radialGradient><linearGradient id="f1top" x1="60" y1="720" x2="160" y2="800" gradientUnits="userSpaceOnUse"><stop offset="0" stop-color="#707070"/><stop offset="1" stop-color="#4c4c4c"/></linearGradient><linearGradient id="f1lw" x1="30" y1="760" x2="110" y2="780" gradientUnits="userSpaceOnUse"><stop offset="0" stop-color="#7a7a7a"/><stop offset="1" stop-color="#909090"/></linearGradient><linearGradient id="f1rw" x1="180" y1="740" x2="250" y2="800" gradientUnits="userSpaceOnUse"><stop offset="0" stop-color="#7c7c7c"/><stop offset="1" stop-color="#6a6a6a"/></linearGradient><linearGradient id="f1fin" x1="55" y1="830" x2="98" y2="820" gradientUnits="userSpaceOnUse"><stop offset="0" stop-color="#4e4e4e"/><stop offset="0.6" stop-color="#6a6a6a"/><stop offset="1" stop-color="#8a8a8a"/></linearGradient><linearGradient id="f1ar" x1="90" y1="740" x2="230" y2="740" gradientUnits="userSpaceOnUse"><stop offset="0" stop-color="#4e4e4e"/><stop offset="0.45" stop-color="#686868"/><stop offset="1" stop-color="#7c7c7c"/></linearGradient><linearGradient id="f1in" x1="170" y1="760" x2="220" y2="790" gradientUnits="userSpaceOnUse"><stop offset="0" stop-color="#8e8e8e"/><stop offset="1" stop-color="#5c5c5c"/></linearGradient><linearGradient id="f1il" x1="140" y1="740" x2="170" y2="800" gradientUnits="userSpaceOnUse"><stop offset="0" stop-color="#5a5a5a"/><stop offset="1" stop-color="#8c8c8c"/></linearGradient></defs>
<g clip-path="url(#fc1)">
<circle cx="136.6" cy="819.2" r="117.4" fill="url(#f1floor)"/>
<path d="M15 700L263.6 700L263.6 817.2L211.7 819L173.5 815.4L121.6 766.6L70.1 724L15 753.3Z" fill="url(#f1top)"/>
<path d="M70.1 724Q100.2 740.8 121.6 766.6L118 758.6L153.1 724.9Q197.5 739.1 222.3 765.7L240.1 753.3L260 753.3L260 700L15 700Z" fill="url(#f1ar)"/>
<path d="M70.1 724Q100.2 740.8 121.6 766.6L93.1 782.6L92.3 818.1L91.4 817.3L86 782.7L64.7 806.6L52.3 827.1L15 841.3L15 735.5L59.4 717.8Z" fill="url(#f1lw)"/>
<path d="M22.1 789.7L86 782L86 784.4L25.7 795.9Z" fill="#999" opacity="0.6"/>
<path d="M15 841.3L52.3 827.1L64.7 806.6L86 782.7L25.7 790.7L15 815.5Z" fill="#7e7e7e"/>
<path d="M86 782.7L91.4 817.3Q93.1 854.6 102 883Q68.3 859.9 52.3 827.1L64.7 806.6Z" fill="url(#f1fin)"/>
<path d="M153.1 724.9Q197.5 739.1 222.3 765.7Q217 792.3 213.5 817.2L173.5 815.4Q170.8 767.5 153.1 724.9Z" fill="url(#f1in)"/>
<path d="M153.1 724.9Q170.8 767.5 173.5 815.4Q153 792.3 121.6 766.6L118 758.6Z" fill="url(#f1il)"/>
<path d="M222.3 765.7L236.6 759.5L260 771L260 822.5L211.7 819Q218.8 788.8 222.3 765.7Z" fill="url(#f1rw)"/>
<path d="M155.8 729.3L166.4 731.1L172.6 740.8L162 740.8Z" fill="#b4b4b4"/>
<path d="M165.5 752.4L186.8 753.3Q204.6 779.9 210.8 806.6L174.4 796.8Q172.6 771 165.5 752.4Z" fill="#fff"/>
<path d="M93.1 782.6L121.6 766.6Q153.1 792.3 173.5 815.4L121.6 815.5L91.4 818.2Z" fill="#ff44ff"/>
<path d="M92.8 804.4L145 801.6L172.6 813.7L92.8 806.9Z" fill="#ff66ff" opacity="0.5"/>
<path d="M174.4 797.7L208.1 806.6L211.7 819L208.1 822.5L181.5 821.7L174.4 815.4Z" fill="#ff44ff"/>
<path d="M174.4 806.2L209 811.9" stroke="#fff" stroke-width="0.9" fill="none"/>
<path d="M222.3 762.2L236.6 758.6L245.4 772.8Z" fill="#fff"/>
<path d="M211.7 820L257.9 815.5L257.9 825.3L225.9 824.4Z" fill="#fff"/>
<path d="M225.9 825.3L257.9 826.5L254.3 842.2L236.6 831.9Z" fill="#2cf52c"/>
<path d="M177.1 820L183.3 821.7L194.8 842.2Z" fill="#505050"/>
<path d="M86 782.7L64.7 806.6L52.3 827.1L15 842.2" stroke="#f4f4f4" stroke-width="0.8" fill="none"/>
</g>
<text class="w" x="19.8" y="695.8" font-size="5.2" font-weight="bold" fill="#fff" textLength="51.8" lengthAdjust="spacingAndGlyphs">Imperceptible Glare</text>
<text class="w" x="19.8" y="701.1" font-size="5.2" font-weight="bold" fill="#fff" textLength="43.5" lengthAdjust="spacingAndGlyphs">DGP: 34 percent</text>
<rect x="304.2" y="690.8" width="234.5" height="245.6" fill="#000"/>
<clipPath id="fc2"><circle cx="421.5" cy="819.3" r="117.3"/></clipPath>
<defs><linearGradient id="f2floor" x1="0" y1="840" x2="0" y2="940" gradientUnits="userSpaceOnUse"><stop offset="0" stop-color="#6c6c6c"/><stop offset="1" stop-color="#767676"/></linearGradient><linearGradient id="f2up" x1="0" y1="700" x2="0" y2="845" gradientUnits="userSpaceOnUse"><stop offset="0" stop-color="#969696"/><stop offset="1" stop-color="#868686"/></linearGradient><linearGradient id="f2wl" x1="334" y1="742" x2="386" y2="758.5" gradientUnits="userSpaceOnUse"><stop offset="0" stop-color="#b0b0b0"/><stop offset="0.45" stop-color="#c8c8c8"/><stop offset="0.72" stop-color="#eaeaea"/><stop offset="0.87" stop-color="#fff"/></linearGradient><linearGradient id="f2bd" x1="420" y1="0" x2="506" y2="0" gradientUnits="userSpaceOnUse"><stop offset="0" stop-color="#868686"/><stop offset="0.5" stop-color="#6a6a6a"/><stop offset="1" stop-color="#555"/></linearGradient><radialGradient id="f2ul" cx="392" cy="722" r="75" gradientUnits="userSpaceOnUse"><stop offset="0" stop-color="#dcdcdc"/><stop offset="0.5" stop-color="#bcbcbc"/><stop offset="1" stop-color="#929292"/></radialGradient></defs>
<g clip-path="url(#fc2)">
<circle cx="421.5" cy="819.3" r="117.3" fill="url(#f2floor)"/>
<path d="M290 823.9C325.5 840.5 361 846.2 403.7 846.2L448.1 844.1C481.8 844.1 517.3 840.5 550 828.5L550 680L290 680Z" fill="url(#f2up)"/>
<path d="M290 822.8C325.5 839.5 361 845.2 403.7 845.2L448.1 843.4" stroke="#a8a8a8" stroke-width="2.6" fill="none" opacity="0.8"/>
<path d="M448.1 843.4C481.8 843.4 517.3 839.8 550 827.8" stroke="#989898" stroke-width="1.6" fill="none" opacity="0.7"/>
<path d="M333.7 746.2L351.5 761.7Q328.4 773.7 310.7 785.3L300 800.4L300 740Z" fill="#6e6e6e"/>
<path d="M310.7 783.5L324 782.3L335.5 768.4L326.6 775.5Z" fill="#9a9a9a"/>
<path d="M400.8 697.1L521.6 697.1L521.6 743.3L507.3 740.6L505.2 747.2Q468.3 716.6 400.8 709.2Z" fill="url(#f2bd)"/>
<path d="M333.9 745.5L398.4 714.8C417.9 743.2 441 800.9 447.6 842.1Q381.5 778.7 333.9 745.5Z" fill="#fff"/>
<path d="M333.9 745.5L319.3 731.6L365.5 690.8L404.6 697.9L398.4 714.8L374.8 771.1Z" fill="url(#f2wl)"/>
<path d="M376.5 772.1C383.3 763.6 395.7 763.6 406.4 777.8C422.3 799.1 436.6 822.2 446.3 840.9C429.5 820.4 413.5 797.3 401 784.9C392.2 775.2 383.3 773.4 377.6 774.6Z" fill="#f7d6f7"/>
<path d="M380.6 770.4C386.8 766.3 394.8 767.2 403.7 777.8C418.8 797.3 433 818.7 445.4 840C429.5 818.7 415.2 799.1 401.9 783.1C393.9 773.4 386.8 771.1 381.5 772.1Z" fill="#f0b4f0"/>
</g>
<text class="w" x="305" y="695.6" font-size="5.2" font-weight="bold" fill="#fff" textLength="51.8" lengthAdjust="spacingAndGlyphs">Imperceptible Glare</text>
<text class="w" x="305" y="700.9" font-size="5.2" font-weight="bold" fill="#fff" textLength="43.5" lengthAdjust="spacingAndGlyphs">DGP: 22 percent</text>
</svg>
</body></html>
